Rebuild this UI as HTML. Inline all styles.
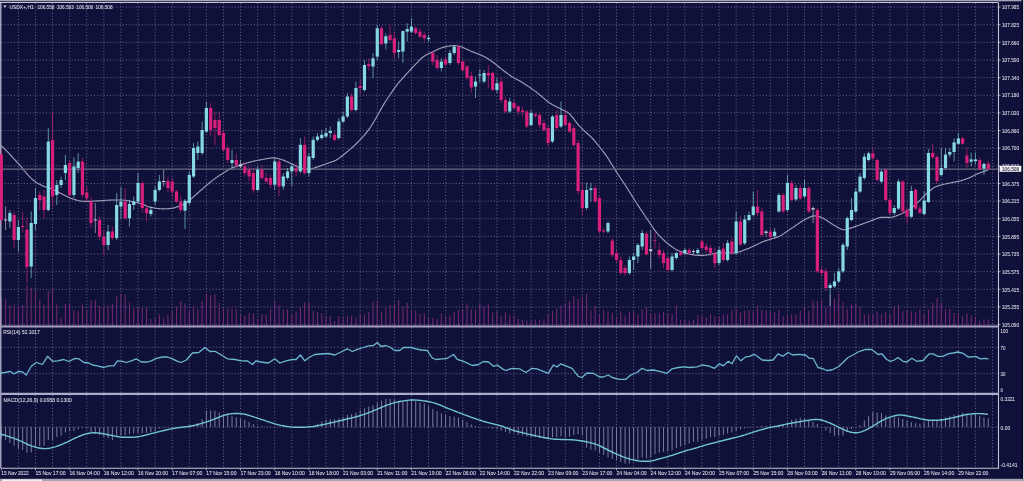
<!DOCTYPE html>
<html><head><meta charset="utf-8"><title>USDX+,H1</title>
<style>html,body{margin:0;padding:0;background:#10113a;} svg{display:block;}</style>
</head><body><svg width="1024" height="481" viewBox="0 0 1024 481"><rect x="0" y="0" width="1024" height="481" fill="#10113a"/><g><line x1="18.39" y1="3.00" x2="18.39" y2="326.20" stroke="#646490" stroke-width="1" stroke-dasharray="1.07 2.13" opacity="1"/><line x1="18.39" y1="327.50" x2="18.39" y2="393.80" stroke="#646490" stroke-width="1" stroke-dasharray="1.07 2.13" opacity="1"/><line x1="18.39" y1="395.10" x2="18.39" y2="468.30" stroke="#646490" stroke-width="1" stroke-dasharray="1.07 2.13" opacity="1"/><line x1="35.48" y1="3.00" x2="35.48" y2="326.20" stroke="#646490" stroke-width="1" stroke-dasharray="1.07 2.13" opacity="1"/><line x1="35.48" y1="327.50" x2="35.48" y2="393.80" stroke="#646490" stroke-width="1" stroke-dasharray="1.07 2.13" opacity="1"/><line x1="35.48" y1="395.10" x2="35.48" y2="468.30" stroke="#646490" stroke-width="1" stroke-dasharray="1.07 2.13" opacity="1"/><line x1="52.57" y1="3.00" x2="52.57" y2="326.20" stroke="#646490" stroke-width="1" stroke-dasharray="1.07 2.13" opacity="1"/><line x1="52.57" y1="327.50" x2="52.57" y2="393.80" stroke="#646490" stroke-width="1" stroke-dasharray="1.07 2.13" opacity="1"/><line x1="52.57" y1="395.10" x2="52.57" y2="468.30" stroke="#646490" stroke-width="1" stroke-dasharray="1.07 2.13" opacity="1"/><line x1="69.66" y1="3.00" x2="69.66" y2="326.20" stroke="#646490" stroke-width="1" stroke-dasharray="1.07 2.13" opacity="1"/><line x1="69.66" y1="327.50" x2="69.66" y2="393.80" stroke="#646490" stroke-width="1" stroke-dasharray="1.07 2.13" opacity="1"/><line x1="69.66" y1="395.10" x2="69.66" y2="468.30" stroke="#646490" stroke-width="1" stroke-dasharray="1.07 2.13" opacity="1"/><line x1="86.75" y1="3.00" x2="86.75" y2="326.20" stroke="#646490" stroke-width="1" stroke-dasharray="1.07 2.13" opacity="1"/><line x1="86.75" y1="327.50" x2="86.75" y2="393.80" stroke="#646490" stroke-width="1" stroke-dasharray="1.07 2.13" opacity="1"/><line x1="86.75" y1="395.10" x2="86.75" y2="468.30" stroke="#646490" stroke-width="1" stroke-dasharray="1.07 2.13" opacity="1"/><line x1="103.84" y1="3.00" x2="103.84" y2="326.20" stroke="#646490" stroke-width="1" stroke-dasharray="1.07 2.13" opacity="1"/><line x1="103.84" y1="327.50" x2="103.84" y2="393.80" stroke="#646490" stroke-width="1" stroke-dasharray="1.07 2.13" opacity="1"/><line x1="103.84" y1="395.10" x2="103.84" y2="468.30" stroke="#646490" stroke-width="1" stroke-dasharray="1.07 2.13" opacity="1"/><line x1="120.93" y1="3.00" x2="120.93" y2="326.20" stroke="#646490" stroke-width="1" stroke-dasharray="1.07 2.13" opacity="1"/><line x1="120.93" y1="327.50" x2="120.93" y2="393.80" stroke="#646490" stroke-width="1" stroke-dasharray="1.07 2.13" opacity="1"/><line x1="120.93" y1="395.10" x2="120.93" y2="468.30" stroke="#646490" stroke-width="1" stroke-dasharray="1.07 2.13" opacity="1"/><line x1="138.02" y1="3.00" x2="138.02" y2="326.20" stroke="#646490" stroke-width="1" stroke-dasharray="1.07 2.13" opacity="1"/><line x1="138.02" y1="327.50" x2="138.02" y2="393.80" stroke="#646490" stroke-width="1" stroke-dasharray="1.07 2.13" opacity="1"/><line x1="138.02" y1="395.10" x2="138.02" y2="468.30" stroke="#646490" stroke-width="1" stroke-dasharray="1.07 2.13" opacity="1"/><line x1="155.11" y1="3.00" x2="155.11" y2="326.20" stroke="#646490" stroke-width="1" stroke-dasharray="1.07 2.13" opacity="1"/><line x1="155.11" y1="327.50" x2="155.11" y2="393.80" stroke="#646490" stroke-width="1" stroke-dasharray="1.07 2.13" opacity="1"/><line x1="155.11" y1="395.10" x2="155.11" y2="468.30" stroke="#646490" stroke-width="1" stroke-dasharray="1.07 2.13" opacity="1"/><line x1="172.20" y1="3.00" x2="172.20" y2="326.20" stroke="#646490" stroke-width="1" stroke-dasharray="1.07 2.13" opacity="1"/><line x1="172.20" y1="327.50" x2="172.20" y2="393.80" stroke="#646490" stroke-width="1" stroke-dasharray="1.07 2.13" opacity="1"/><line x1="172.20" y1="395.10" x2="172.20" y2="468.30" stroke="#646490" stroke-width="1" stroke-dasharray="1.07 2.13" opacity="1"/><line x1="189.29" y1="3.00" x2="189.29" y2="326.20" stroke="#646490" stroke-width="1" stroke-dasharray="1.07 2.13" opacity="1"/><line x1="189.29" y1="327.50" x2="189.29" y2="393.80" stroke="#646490" stroke-width="1" stroke-dasharray="1.07 2.13" opacity="1"/><line x1="189.29" y1="395.10" x2="189.29" y2="468.30" stroke="#646490" stroke-width="1" stroke-dasharray="1.07 2.13" opacity="1"/><line x1="206.38" y1="3.00" x2="206.38" y2="326.20" stroke="#646490" stroke-width="1" stroke-dasharray="1.07 2.13" opacity="1"/><line x1="206.38" y1="327.50" x2="206.38" y2="393.80" stroke="#646490" stroke-width="1" stroke-dasharray="1.07 2.13" opacity="1"/><line x1="206.38" y1="395.10" x2="206.38" y2="468.30" stroke="#646490" stroke-width="1" stroke-dasharray="1.07 2.13" opacity="1"/><line x1="223.47" y1="3.00" x2="223.47" y2="326.20" stroke="#646490" stroke-width="1" stroke-dasharray="1.07 2.13" opacity="1"/><line x1="223.47" y1="327.50" x2="223.47" y2="393.80" stroke="#646490" stroke-width="1" stroke-dasharray="1.07 2.13" opacity="1"/><line x1="223.47" y1="395.10" x2="223.47" y2="468.30" stroke="#646490" stroke-width="1" stroke-dasharray="1.07 2.13" opacity="1"/><line x1="240.56" y1="3.00" x2="240.56" y2="326.20" stroke="#646490" stroke-width="1" stroke-dasharray="1.07 2.13" opacity="1"/><line x1="240.56" y1="327.50" x2="240.56" y2="393.80" stroke="#646490" stroke-width="1" stroke-dasharray="1.07 2.13" opacity="1"/><line x1="240.56" y1="395.10" x2="240.56" y2="468.30" stroke="#646490" stroke-width="1" stroke-dasharray="1.07 2.13" opacity="1"/><line x1="257.65" y1="3.00" x2="257.65" y2="326.20" stroke="#646490" stroke-width="1" stroke-dasharray="1.07 2.13" opacity="1"/><line x1="257.65" y1="327.50" x2="257.65" y2="393.80" stroke="#646490" stroke-width="1" stroke-dasharray="1.07 2.13" opacity="1"/><line x1="257.65" y1="395.10" x2="257.65" y2="468.30" stroke="#646490" stroke-width="1" stroke-dasharray="1.07 2.13" opacity="1"/><line x1="274.74" y1="3.00" x2="274.74" y2="326.20" stroke="#646490" stroke-width="1" stroke-dasharray="1.07 2.13" opacity="1"/><line x1="274.74" y1="327.50" x2="274.74" y2="393.80" stroke="#646490" stroke-width="1" stroke-dasharray="1.07 2.13" opacity="1"/><line x1="274.74" y1="395.10" x2="274.74" y2="468.30" stroke="#646490" stroke-width="1" stroke-dasharray="1.07 2.13" opacity="1"/><line x1="291.83" y1="3.00" x2="291.83" y2="326.20" stroke="#646490" stroke-width="1" stroke-dasharray="1.07 2.13" opacity="1"/><line x1="291.83" y1="327.50" x2="291.83" y2="393.80" stroke="#646490" stroke-width="1" stroke-dasharray="1.07 2.13" opacity="1"/><line x1="291.83" y1="395.10" x2="291.83" y2="468.30" stroke="#646490" stroke-width="1" stroke-dasharray="1.07 2.13" opacity="1"/><line x1="308.92" y1="3.00" x2="308.92" y2="326.20" stroke="#646490" stroke-width="1" stroke-dasharray="1.07 2.13" opacity="1"/><line x1="308.92" y1="327.50" x2="308.92" y2="393.80" stroke="#646490" stroke-width="1" stroke-dasharray="1.07 2.13" opacity="1"/><line x1="308.92" y1="395.10" x2="308.92" y2="468.30" stroke="#646490" stroke-width="1" stroke-dasharray="1.07 2.13" opacity="1"/><line x1="326.01" y1="3.00" x2="326.01" y2="326.20" stroke="#646490" stroke-width="1" stroke-dasharray="1.07 2.13" opacity="1"/><line x1="326.01" y1="327.50" x2="326.01" y2="393.80" stroke="#646490" stroke-width="1" stroke-dasharray="1.07 2.13" opacity="1"/><line x1="326.01" y1="395.10" x2="326.01" y2="468.30" stroke="#646490" stroke-width="1" stroke-dasharray="1.07 2.13" opacity="1"/><line x1="343.10" y1="3.00" x2="343.10" y2="326.20" stroke="#646490" stroke-width="1" stroke-dasharray="1.07 2.13" opacity="1"/><line x1="343.10" y1="327.50" x2="343.10" y2="393.80" stroke="#646490" stroke-width="1" stroke-dasharray="1.07 2.13" opacity="1"/><line x1="343.10" y1="395.10" x2="343.10" y2="468.30" stroke="#646490" stroke-width="1" stroke-dasharray="1.07 2.13" opacity="1"/><line x1="360.19" y1="3.00" x2="360.19" y2="326.20" stroke="#646490" stroke-width="1" stroke-dasharray="1.07 2.13" opacity="1"/><line x1="360.19" y1="327.50" x2="360.19" y2="393.80" stroke="#646490" stroke-width="1" stroke-dasharray="1.07 2.13" opacity="1"/><line x1="360.19" y1="395.10" x2="360.19" y2="468.30" stroke="#646490" stroke-width="1" stroke-dasharray="1.07 2.13" opacity="1"/><line x1="377.28" y1="3.00" x2="377.28" y2="326.20" stroke="#646490" stroke-width="1" stroke-dasharray="1.07 2.13" opacity="1"/><line x1="377.28" y1="327.50" x2="377.28" y2="393.80" stroke="#646490" stroke-width="1" stroke-dasharray="1.07 2.13" opacity="1"/><line x1="377.28" y1="395.10" x2="377.28" y2="468.30" stroke="#646490" stroke-width="1" stroke-dasharray="1.07 2.13" opacity="1"/><line x1="394.37" y1="3.00" x2="394.37" y2="326.20" stroke="#646490" stroke-width="1" stroke-dasharray="1.07 2.13" opacity="1"/><line x1="394.37" y1="327.50" x2="394.37" y2="393.80" stroke="#646490" stroke-width="1" stroke-dasharray="1.07 2.13" opacity="1"/><line x1="394.37" y1="395.10" x2="394.37" y2="468.30" stroke="#646490" stroke-width="1" stroke-dasharray="1.07 2.13" opacity="1"/><line x1="411.46" y1="3.00" x2="411.46" y2="326.20" stroke="#646490" stroke-width="1" stroke-dasharray="1.07 2.13" opacity="1"/><line x1="411.46" y1="327.50" x2="411.46" y2="393.80" stroke="#646490" stroke-width="1" stroke-dasharray="1.07 2.13" opacity="1"/><line x1="411.46" y1="395.10" x2="411.46" y2="468.30" stroke="#646490" stroke-width="1" stroke-dasharray="1.07 2.13" opacity="1"/><line x1="428.55" y1="3.00" x2="428.55" y2="326.20" stroke="#646490" stroke-width="1" stroke-dasharray="1.07 2.13" opacity="1"/><line x1="428.55" y1="327.50" x2="428.55" y2="393.80" stroke="#646490" stroke-width="1" stroke-dasharray="1.07 2.13" opacity="1"/><line x1="428.55" y1="395.10" x2="428.55" y2="468.30" stroke="#646490" stroke-width="1" stroke-dasharray="1.07 2.13" opacity="1"/><line x1="445.64" y1="3.00" x2="445.64" y2="326.20" stroke="#646490" stroke-width="1" stroke-dasharray="1.07 2.13" opacity="1"/><line x1="445.64" y1="327.50" x2="445.64" y2="393.80" stroke="#646490" stroke-width="1" stroke-dasharray="1.07 2.13" opacity="1"/><line x1="445.64" y1="395.10" x2="445.64" y2="468.30" stroke="#646490" stroke-width="1" stroke-dasharray="1.07 2.13" opacity="1"/><line x1="462.73" y1="3.00" x2="462.73" y2="326.20" stroke="#646490" stroke-width="1" stroke-dasharray="1.07 2.13" opacity="1"/><line x1="462.73" y1="327.50" x2="462.73" y2="393.80" stroke="#646490" stroke-width="1" stroke-dasharray="1.07 2.13" opacity="1"/><line x1="462.73" y1="395.10" x2="462.73" y2="468.30" stroke="#646490" stroke-width="1" stroke-dasharray="1.07 2.13" opacity="1"/><line x1="479.82" y1="3.00" x2="479.82" y2="326.20" stroke="#646490" stroke-width="1" stroke-dasharray="1.07 2.13" opacity="1"/><line x1="479.82" y1="327.50" x2="479.82" y2="393.80" stroke="#646490" stroke-width="1" stroke-dasharray="1.07 2.13" opacity="1"/><line x1="479.82" y1="395.10" x2="479.82" y2="468.30" stroke="#646490" stroke-width="1" stroke-dasharray="1.07 2.13" opacity="1"/><line x1="496.91" y1="3.00" x2="496.91" y2="326.20" stroke="#646490" stroke-width="1" stroke-dasharray="1.07 2.13" opacity="1"/><line x1="496.91" y1="327.50" x2="496.91" y2="393.80" stroke="#646490" stroke-width="1" stroke-dasharray="1.07 2.13" opacity="1"/><line x1="496.91" y1="395.10" x2="496.91" y2="468.30" stroke="#646490" stroke-width="1" stroke-dasharray="1.07 2.13" opacity="1"/><line x1="514.00" y1="3.00" x2="514.00" y2="326.20" stroke="#646490" stroke-width="1" stroke-dasharray="1.07 2.13" opacity="1"/><line x1="514.00" y1="327.50" x2="514.00" y2="393.80" stroke="#646490" stroke-width="1" stroke-dasharray="1.07 2.13" opacity="1"/><line x1="514.00" y1="395.10" x2="514.00" y2="468.30" stroke="#646490" stroke-width="1" stroke-dasharray="1.07 2.13" opacity="1"/><line x1="531.09" y1="3.00" x2="531.09" y2="326.20" stroke="#646490" stroke-width="1" stroke-dasharray="1.07 2.13" opacity="1"/><line x1="531.09" y1="327.50" x2="531.09" y2="393.80" stroke="#646490" stroke-width="1" stroke-dasharray="1.07 2.13" opacity="1"/><line x1="531.09" y1="395.10" x2="531.09" y2="468.30" stroke="#646490" stroke-width="1" stroke-dasharray="1.07 2.13" opacity="1"/><line x1="548.18" y1="3.00" x2="548.18" y2="326.20" stroke="#646490" stroke-width="1" stroke-dasharray="1.07 2.13" opacity="1"/><line x1="548.18" y1="327.50" x2="548.18" y2="393.80" stroke="#646490" stroke-width="1" stroke-dasharray="1.07 2.13" opacity="1"/><line x1="548.18" y1="395.10" x2="548.18" y2="468.30" stroke="#646490" stroke-width="1" stroke-dasharray="1.07 2.13" opacity="1"/><line x1="565.27" y1="3.00" x2="565.27" y2="326.20" stroke="#646490" stroke-width="1" stroke-dasharray="1.07 2.13" opacity="1"/><line x1="565.27" y1="327.50" x2="565.27" y2="393.80" stroke="#646490" stroke-width="1" stroke-dasharray="1.07 2.13" opacity="1"/><line x1="565.27" y1="395.10" x2="565.27" y2="468.30" stroke="#646490" stroke-width="1" stroke-dasharray="1.07 2.13" opacity="1"/><line x1="582.36" y1="3.00" x2="582.36" y2="326.20" stroke="#646490" stroke-width="1" stroke-dasharray="1.07 2.13" opacity="1"/><line x1="582.36" y1="327.50" x2="582.36" y2="393.80" stroke="#646490" stroke-width="1" stroke-dasharray="1.07 2.13" opacity="1"/><line x1="582.36" y1="395.10" x2="582.36" y2="468.30" stroke="#646490" stroke-width="1" stroke-dasharray="1.07 2.13" opacity="1"/><line x1="599.45" y1="3.00" x2="599.45" y2="326.20" stroke="#646490" stroke-width="1" stroke-dasharray="1.07 2.13" opacity="1"/><line x1="599.45" y1="327.50" x2="599.45" y2="393.80" stroke="#646490" stroke-width="1" stroke-dasharray="1.07 2.13" opacity="1"/><line x1="599.45" y1="395.10" x2="599.45" y2="468.30" stroke="#646490" stroke-width="1" stroke-dasharray="1.07 2.13" opacity="1"/><line x1="616.54" y1="3.00" x2="616.54" y2="326.20" stroke="#646490" stroke-width="1" stroke-dasharray="1.07 2.13" opacity="1"/><line x1="616.54" y1="327.50" x2="616.54" y2="393.80" stroke="#646490" stroke-width="1" stroke-dasharray="1.07 2.13" opacity="1"/><line x1="616.54" y1="395.10" x2="616.54" y2="468.30" stroke="#646490" stroke-width="1" stroke-dasharray="1.07 2.13" opacity="1"/><line x1="633.63" y1="3.00" x2="633.63" y2="326.20" stroke="#646490" stroke-width="1" stroke-dasharray="1.07 2.13" opacity="1"/><line x1="633.63" y1="327.50" x2="633.63" y2="393.80" stroke="#646490" stroke-width="1" stroke-dasharray="1.07 2.13" opacity="1"/><line x1="633.63" y1="395.10" x2="633.63" y2="468.30" stroke="#646490" stroke-width="1" stroke-dasharray="1.07 2.13" opacity="1"/><line x1="650.72" y1="3.00" x2="650.72" y2="326.20" stroke="#646490" stroke-width="1" stroke-dasharray="1.07 2.13" opacity="1"/><line x1="650.72" y1="327.50" x2="650.72" y2="393.80" stroke="#646490" stroke-width="1" stroke-dasharray="1.07 2.13" opacity="1"/><line x1="650.72" y1="395.10" x2="650.72" y2="468.30" stroke="#646490" stroke-width="1" stroke-dasharray="1.07 2.13" opacity="1"/><line x1="667.81" y1="3.00" x2="667.81" y2="326.20" stroke="#646490" stroke-width="1" stroke-dasharray="1.07 2.13" opacity="1"/><line x1="667.81" y1="327.50" x2="667.81" y2="393.80" stroke="#646490" stroke-width="1" stroke-dasharray="1.07 2.13" opacity="1"/><line x1="667.81" y1="395.10" x2="667.81" y2="468.30" stroke="#646490" stroke-width="1" stroke-dasharray="1.07 2.13" opacity="1"/><line x1="684.90" y1="3.00" x2="684.90" y2="326.20" stroke="#646490" stroke-width="1" stroke-dasharray="1.07 2.13" opacity="1"/><line x1="684.90" y1="327.50" x2="684.90" y2="393.80" stroke="#646490" stroke-width="1" stroke-dasharray="1.07 2.13" opacity="1"/><line x1="684.90" y1="395.10" x2="684.90" y2="468.30" stroke="#646490" stroke-width="1" stroke-dasharray="1.07 2.13" opacity="1"/><line x1="701.99" y1="3.00" x2="701.99" y2="326.20" stroke="#646490" stroke-width="1" stroke-dasharray="1.07 2.13" opacity="1"/><line x1="701.99" y1="327.50" x2="701.99" y2="393.80" stroke="#646490" stroke-width="1" stroke-dasharray="1.07 2.13" opacity="1"/><line x1="701.99" y1="395.10" x2="701.99" y2="468.30" stroke="#646490" stroke-width="1" stroke-dasharray="1.07 2.13" opacity="1"/><line x1="719.08" y1="3.00" x2="719.08" y2="326.20" stroke="#646490" stroke-width="1" stroke-dasharray="1.07 2.13" opacity="1"/><line x1="719.08" y1="327.50" x2="719.08" y2="393.80" stroke="#646490" stroke-width="1" stroke-dasharray="1.07 2.13" opacity="1"/><line x1="719.08" y1="395.10" x2="719.08" y2="468.30" stroke="#646490" stroke-width="1" stroke-dasharray="1.07 2.13" opacity="1"/><line x1="736.17" y1="3.00" x2="736.17" y2="326.20" stroke="#646490" stroke-width="1" stroke-dasharray="1.07 2.13" opacity="1"/><line x1="736.17" y1="327.50" x2="736.17" y2="393.80" stroke="#646490" stroke-width="1" stroke-dasharray="1.07 2.13" opacity="1"/><line x1="736.17" y1="395.10" x2="736.17" y2="468.30" stroke="#646490" stroke-width="1" stroke-dasharray="1.07 2.13" opacity="1"/><line x1="753.26" y1="3.00" x2="753.26" y2="326.20" stroke="#646490" stroke-width="1" stroke-dasharray="1.07 2.13" opacity="1"/><line x1="753.26" y1="327.50" x2="753.26" y2="393.80" stroke="#646490" stroke-width="1" stroke-dasharray="1.07 2.13" opacity="1"/><line x1="753.26" y1="395.10" x2="753.26" y2="468.30" stroke="#646490" stroke-width="1" stroke-dasharray="1.07 2.13" opacity="1"/><line x1="770.35" y1="3.00" x2="770.35" y2="326.20" stroke="#646490" stroke-width="1" stroke-dasharray="1.07 2.13" opacity="1"/><line x1="770.35" y1="327.50" x2="770.35" y2="393.80" stroke="#646490" stroke-width="1" stroke-dasharray="1.07 2.13" opacity="1"/><line x1="770.35" y1="395.10" x2="770.35" y2="468.30" stroke="#646490" stroke-width="1" stroke-dasharray="1.07 2.13" opacity="1"/><line x1="787.44" y1="3.00" x2="787.44" y2="326.20" stroke="#646490" stroke-width="1" stroke-dasharray="1.07 2.13" opacity="1"/><line x1="787.44" y1="327.50" x2="787.44" y2="393.80" stroke="#646490" stroke-width="1" stroke-dasharray="1.07 2.13" opacity="1"/><line x1="787.44" y1="395.10" x2="787.44" y2="468.30" stroke="#646490" stroke-width="1" stroke-dasharray="1.07 2.13" opacity="1"/><line x1="804.53" y1="3.00" x2="804.53" y2="326.20" stroke="#646490" stroke-width="1" stroke-dasharray="1.07 2.13" opacity="1"/><line x1="804.53" y1="327.50" x2="804.53" y2="393.80" stroke="#646490" stroke-width="1" stroke-dasharray="1.07 2.13" opacity="1"/><line x1="804.53" y1="395.10" x2="804.53" y2="468.30" stroke="#646490" stroke-width="1" stroke-dasharray="1.07 2.13" opacity="1"/><line x1="821.62" y1="3.00" x2="821.62" y2="326.20" stroke="#646490" stroke-width="1" stroke-dasharray="1.07 2.13" opacity="1"/><line x1="821.62" y1="327.50" x2="821.62" y2="393.80" stroke="#646490" stroke-width="1" stroke-dasharray="1.07 2.13" opacity="1"/><line x1="821.62" y1="395.10" x2="821.62" y2="468.30" stroke="#646490" stroke-width="1" stroke-dasharray="1.07 2.13" opacity="1"/><line x1="838.71" y1="3.00" x2="838.71" y2="326.20" stroke="#646490" stroke-width="1" stroke-dasharray="1.07 2.13" opacity="1"/><line x1="838.71" y1="327.50" x2="838.71" y2="393.80" stroke="#646490" stroke-width="1" stroke-dasharray="1.07 2.13" opacity="1"/><line x1="838.71" y1="395.10" x2="838.71" y2="468.30" stroke="#646490" stroke-width="1" stroke-dasharray="1.07 2.13" opacity="1"/><line x1="855.80" y1="3.00" x2="855.80" y2="326.20" stroke="#646490" stroke-width="1" stroke-dasharray="1.07 2.13" opacity="1"/><line x1="855.80" y1="327.50" x2="855.80" y2="393.80" stroke="#646490" stroke-width="1" stroke-dasharray="1.07 2.13" opacity="1"/><line x1="855.80" y1="395.10" x2="855.80" y2="468.30" stroke="#646490" stroke-width="1" stroke-dasharray="1.07 2.13" opacity="1"/><line x1="872.89" y1="3.00" x2="872.89" y2="326.20" stroke="#646490" stroke-width="1" stroke-dasharray="1.07 2.13" opacity="1"/><line x1="872.89" y1="327.50" x2="872.89" y2="393.80" stroke="#646490" stroke-width="1" stroke-dasharray="1.07 2.13" opacity="1"/><line x1="872.89" y1="395.10" x2="872.89" y2="468.30" stroke="#646490" stroke-width="1" stroke-dasharray="1.07 2.13" opacity="1"/><line x1="889.98" y1="3.00" x2="889.98" y2="326.20" stroke="#646490" stroke-width="1" stroke-dasharray="1.07 2.13" opacity="1"/><line x1="889.98" y1="327.50" x2="889.98" y2="393.80" stroke="#646490" stroke-width="1" stroke-dasharray="1.07 2.13" opacity="1"/><line x1="889.98" y1="395.10" x2="889.98" y2="468.30" stroke="#646490" stroke-width="1" stroke-dasharray="1.07 2.13" opacity="1"/><line x1="907.07" y1="3.00" x2="907.07" y2="326.20" stroke="#646490" stroke-width="1" stroke-dasharray="1.07 2.13" opacity="1"/><line x1="907.07" y1="327.50" x2="907.07" y2="393.80" stroke="#646490" stroke-width="1" stroke-dasharray="1.07 2.13" opacity="1"/><line x1="907.07" y1="395.10" x2="907.07" y2="468.30" stroke="#646490" stroke-width="1" stroke-dasharray="1.07 2.13" opacity="1"/><line x1="924.16" y1="3.00" x2="924.16" y2="326.20" stroke="#646490" stroke-width="1" stroke-dasharray="1.07 2.13" opacity="1"/><line x1="924.16" y1="327.50" x2="924.16" y2="393.80" stroke="#646490" stroke-width="1" stroke-dasharray="1.07 2.13" opacity="1"/><line x1="924.16" y1="395.10" x2="924.16" y2="468.30" stroke="#646490" stroke-width="1" stroke-dasharray="1.07 2.13" opacity="1"/><line x1="941.25" y1="3.00" x2="941.25" y2="326.20" stroke="#646490" stroke-width="1" stroke-dasharray="1.07 2.13" opacity="1"/><line x1="941.25" y1="327.50" x2="941.25" y2="393.80" stroke="#646490" stroke-width="1" stroke-dasharray="1.07 2.13" opacity="1"/><line x1="941.25" y1="395.10" x2="941.25" y2="468.30" stroke="#646490" stroke-width="1" stroke-dasharray="1.07 2.13" opacity="1"/><line x1="958.34" y1="3.00" x2="958.34" y2="326.20" stroke="#646490" stroke-width="1" stroke-dasharray="1.07 2.13" opacity="1"/><line x1="958.34" y1="327.50" x2="958.34" y2="393.80" stroke="#646490" stroke-width="1" stroke-dasharray="1.07 2.13" opacity="1"/><line x1="958.34" y1="395.10" x2="958.34" y2="468.30" stroke="#646490" stroke-width="1" stroke-dasharray="1.07 2.13" opacity="1"/><line x1="975.43" y1="3.00" x2="975.43" y2="326.20" stroke="#646490" stroke-width="1" stroke-dasharray="1.07 2.13" opacity="1"/><line x1="975.43" y1="327.50" x2="975.43" y2="393.80" stroke="#646490" stroke-width="1" stroke-dasharray="1.07 2.13" opacity="1"/><line x1="975.43" y1="395.10" x2="975.43" y2="468.30" stroke="#646490" stroke-width="1" stroke-dasharray="1.07 2.13" opacity="1"/><line x1="992.52" y1="3.00" x2="992.52" y2="326.20" stroke="#646490" stroke-width="1" stroke-dasharray="1.07 2.13" opacity="1"/><line x1="992.52" y1="327.50" x2="992.52" y2="393.80" stroke="#646490" stroke-width="1" stroke-dasharray="1.07 2.13" opacity="1"/><line x1="992.52" y1="395.10" x2="992.52" y2="468.30" stroke="#646490" stroke-width="1" stroke-dasharray="1.07 2.13" opacity="1"/><line x1="1.30" y1="7.07" x2="998.50" y2="7.07" stroke="#646490" stroke-width="1" stroke-dasharray="1.07 2.13" opacity="1"/><line x1="1.30" y1="24.71" x2="998.50" y2="24.71" stroke="#646490" stroke-width="1" stroke-dasharray="1.07 2.13" opacity="1"/><line x1="1.30" y1="42.35" x2="998.50" y2="42.35" stroke="#646490" stroke-width="1" stroke-dasharray="1.07 2.13" opacity="1"/><line x1="1.30" y1="59.99" x2="998.50" y2="59.99" stroke="#646490" stroke-width="1" stroke-dasharray="1.07 2.13" opacity="1"/><line x1="1.30" y1="77.63" x2="998.50" y2="77.63" stroke="#646490" stroke-width="1" stroke-dasharray="1.07 2.13" opacity="1"/><line x1="1.30" y1="95.27" x2="998.50" y2="95.27" stroke="#646490" stroke-width="1" stroke-dasharray="1.07 2.13" opacity="1"/><line x1="1.30" y1="112.91" x2="998.50" y2="112.91" stroke="#646490" stroke-width="1" stroke-dasharray="1.07 2.13" opacity="1"/><line x1="1.30" y1="130.55" x2="998.50" y2="130.55" stroke="#646490" stroke-width="1" stroke-dasharray="1.07 2.13" opacity="1"/><line x1="1.30" y1="148.19" x2="998.50" y2="148.19" stroke="#646490" stroke-width="1" stroke-dasharray="1.07 2.13" opacity="1"/><line x1="1.30" y1="165.83" x2="998.50" y2="165.83" stroke="#646490" stroke-width="1" stroke-dasharray="1.07 2.13" opacity="1"/><line x1="1.30" y1="183.47" x2="998.50" y2="183.47" stroke="#646490" stroke-width="1" stroke-dasharray="1.07 2.13" opacity="1"/><line x1="1.30" y1="201.11" x2="998.50" y2="201.11" stroke="#646490" stroke-width="1" stroke-dasharray="1.07 2.13" opacity="1"/><line x1="1.30" y1="218.75" x2="998.50" y2="218.75" stroke="#646490" stroke-width="1" stroke-dasharray="1.07 2.13" opacity="1"/><line x1="1.30" y1="236.39" x2="998.50" y2="236.39" stroke="#646490" stroke-width="1" stroke-dasharray="1.07 2.13" opacity="1"/><line x1="1.30" y1="254.03" x2="998.50" y2="254.03" stroke="#646490" stroke-width="1" stroke-dasharray="1.07 2.13" opacity="1"/><line x1="1.30" y1="271.67" x2="998.50" y2="271.67" stroke="#646490" stroke-width="1" stroke-dasharray="1.07 2.13" opacity="1"/><line x1="1.30" y1="289.31" x2="998.50" y2="289.31" stroke="#646490" stroke-width="1" stroke-dasharray="1.07 2.13" opacity="1"/><line x1="1.30" y1="306.95" x2="998.50" y2="306.95" stroke="#646490" stroke-width="1" stroke-dasharray="1.07 2.13" opacity="1"/><line x1="1.30" y1="324.59" x2="998.50" y2="324.59" stroke="#646490" stroke-width="1" stroke-dasharray="1.07 2.13" opacity="1"/><line x1="1.30" y1="347.30" x2="998.50" y2="347.30" stroke="#646490" stroke-width="1" stroke-dasharray="1.07 2.13" opacity="1"/><line x1="1.30" y1="373.70" x2="998.50" y2="373.70" stroke="#646490" stroke-width="1" stroke-dasharray="1.07 2.13" opacity="1"/><line x1="1.30" y1="427.10" x2="998.50" y2="427.10" stroke="#646490" stroke-width="1" stroke-dasharray="1.07 2.13" opacity="1"/></g><g><line x1="1.30" y1="297.50" x2="1.30" y2="326.20" stroke="#7a2a72" stroke-width="1" opacity="1"/><line x1="5.57" y1="298.75" x2="5.57" y2="326.20" stroke="#7a2a72" stroke-width="1" opacity="1"/><line x1="9.85" y1="305.60" x2="9.85" y2="326.20" stroke="#7a2a72" stroke-width="1" opacity="1"/><line x1="14.12" y1="304.40" x2="14.12" y2="326.20" stroke="#7a2a72" stroke-width="1" opacity="1"/><line x1="18.39" y1="306.25" x2="18.39" y2="326.20" stroke="#7a2a72" stroke-width="1" opacity="1"/><line x1="22.66" y1="305.00" x2="22.66" y2="326.20" stroke="#7a2a72" stroke-width="1" opacity="1"/><line x1="26.93" y1="285.00" x2="26.93" y2="326.20" stroke="#7a2a72" stroke-width="1" opacity="1"/><line x1="31.21" y1="287.50" x2="31.21" y2="326.20" stroke="#7a2a72" stroke-width="1" opacity="1"/><line x1="35.48" y1="290.00" x2="35.48" y2="326.20" stroke="#7a2a72" stroke-width="1" opacity="1"/><line x1="39.75" y1="300.00" x2="39.75" y2="326.20" stroke="#7a2a72" stroke-width="1" opacity="1"/><line x1="44.02" y1="304.40" x2="44.02" y2="326.20" stroke="#7a2a72" stroke-width="1" opacity="1"/><line x1="48.30" y1="291.00" x2="48.30" y2="326.20" stroke="#7a2a72" stroke-width="1" opacity="1"/><line x1="52.57" y1="287.50" x2="52.57" y2="326.20" stroke="#7a2a72" stroke-width="1" opacity="1"/><line x1="56.84" y1="304.40" x2="56.84" y2="326.20" stroke="#7a2a72" stroke-width="1" opacity="1"/><line x1="61.11" y1="317.50" x2="61.11" y2="326.20" stroke="#7a2a72" stroke-width="1" opacity="1"/><line x1="65.39" y1="303.75" x2="65.39" y2="326.20" stroke="#7a2a72" stroke-width="1" opacity="1"/><line x1="69.66" y1="303.75" x2="69.66" y2="326.20" stroke="#7a2a72" stroke-width="1" opacity="1"/><line x1="73.93" y1="310.00" x2="73.93" y2="326.20" stroke="#7a2a72" stroke-width="1" opacity="1"/><line x1="78.20" y1="311.25" x2="78.20" y2="326.20" stroke="#7a2a72" stroke-width="1" opacity="1"/><line x1="82.48" y1="304.40" x2="82.48" y2="326.20" stroke="#7a2a72" stroke-width="1" opacity="1"/><line x1="86.75" y1="310.00" x2="86.75" y2="326.20" stroke="#7a2a72" stroke-width="1" opacity="1"/><line x1="91.02" y1="300.60" x2="91.02" y2="326.20" stroke="#7a2a72" stroke-width="1" opacity="1"/><line x1="95.30" y1="300.00" x2="95.30" y2="326.20" stroke="#7a2a72" stroke-width="1" opacity="1"/><line x1="99.57" y1="306.25" x2="99.57" y2="326.20" stroke="#7a2a72" stroke-width="1" opacity="1"/><line x1="103.84" y1="306.90" x2="103.84" y2="326.20" stroke="#7a2a72" stroke-width="1" opacity="1"/><line x1="108.11" y1="305.60" x2="108.11" y2="326.20" stroke="#7a2a72" stroke-width="1" opacity="1"/><line x1="112.38" y1="304.40" x2="112.38" y2="326.20" stroke="#7a2a72" stroke-width="1" opacity="1"/><line x1="116.66" y1="296.25" x2="116.66" y2="326.20" stroke="#7a2a72" stroke-width="1" opacity="1"/><line x1="120.93" y1="293.75" x2="120.93" y2="326.20" stroke="#7a2a72" stroke-width="1" opacity="1"/><line x1="125.20" y1="295.00" x2="125.20" y2="326.20" stroke="#7a2a72" stroke-width="1" opacity="1"/><line x1="129.48" y1="302.44" x2="129.48" y2="326.20" stroke="#7a2a72" stroke-width="1" opacity="1"/><line x1="133.75" y1="308.22" x2="133.75" y2="326.20" stroke="#7a2a72" stroke-width="1" opacity="1"/><line x1="138.02" y1="307.01" x2="138.02" y2="326.20" stroke="#7a2a72" stroke-width="1" opacity="1"/><line x1="142.29" y1="308.30" x2="142.29" y2="326.20" stroke="#7a2a72" stroke-width="1" opacity="1"/><line x1="146.56" y1="307.37" x2="146.56" y2="326.20" stroke="#7a2a72" stroke-width="1" opacity="1"/><line x1="150.84" y1="318.96" x2="150.84" y2="326.20" stroke="#7a2a72" stroke-width="1" opacity="1"/><line x1="155.11" y1="318.15" x2="155.11" y2="326.20" stroke="#7a2a72" stroke-width="1" opacity="1"/><line x1="159.38" y1="314.27" x2="159.38" y2="326.20" stroke="#7a2a72" stroke-width="1" opacity="1"/><line x1="163.66" y1="318.28" x2="163.66" y2="326.20" stroke="#7a2a72" stroke-width="1" opacity="1"/><line x1="167.93" y1="314.47" x2="167.93" y2="326.20" stroke="#7a2a72" stroke-width="1" opacity="1"/><line x1="172.20" y1="310.98" x2="172.20" y2="326.20" stroke="#7a2a72" stroke-width="1" opacity="1"/><line x1="176.47" y1="306.80" x2="176.47" y2="326.20" stroke="#7a2a72" stroke-width="1" opacity="1"/><line x1="180.75" y1="301.13" x2="180.75" y2="326.20" stroke="#7a2a72" stroke-width="1" opacity="1"/><line x1="185.02" y1="303.39" x2="185.02" y2="326.20" stroke="#7a2a72" stroke-width="1" opacity="1"/><line x1="189.29" y1="310.38" x2="189.29" y2="326.20" stroke="#7a2a72" stroke-width="1" opacity="1"/><line x1="193.56" y1="305.99" x2="193.56" y2="326.20" stroke="#7a2a72" stroke-width="1" opacity="1"/><line x1="197.84" y1="308.75" x2="197.84" y2="326.20" stroke="#7a2a72" stroke-width="1" opacity="1"/><line x1="202.11" y1="301.21" x2="202.11" y2="326.20" stroke="#7a2a72" stroke-width="1" opacity="1"/><line x1="206.38" y1="294.13" x2="206.38" y2="326.20" stroke="#7a2a72" stroke-width="1" opacity="1"/><line x1="210.65" y1="295.12" x2="210.65" y2="326.20" stroke="#7a2a72" stroke-width="1" opacity="1"/><line x1="214.93" y1="294.28" x2="214.93" y2="326.20" stroke="#7a2a72" stroke-width="1" opacity="1"/><line x1="219.20" y1="302.76" x2="219.20" y2="326.20" stroke="#7a2a72" stroke-width="1" opacity="1"/><line x1="223.47" y1="308.70" x2="223.47" y2="326.20" stroke="#7a2a72" stroke-width="1" opacity="1"/><line x1="227.74" y1="308.69" x2="227.74" y2="326.20" stroke="#7a2a72" stroke-width="1" opacity="1"/><line x1="232.02" y1="308.38" x2="232.02" y2="326.20" stroke="#7a2a72" stroke-width="1" opacity="1"/><line x1="236.29" y1="308.72" x2="236.29" y2="326.20" stroke="#7a2a72" stroke-width="1" opacity="1"/><line x1="240.56" y1="314.76" x2="240.56" y2="326.20" stroke="#7a2a72" stroke-width="1" opacity="1"/><line x1="244.83" y1="315.66" x2="244.83" y2="326.20" stroke="#7a2a72" stroke-width="1" opacity="1"/><line x1="249.11" y1="313.06" x2="249.11" y2="326.20" stroke="#7a2a72" stroke-width="1" opacity="1"/><line x1="253.38" y1="313.23" x2="253.38" y2="326.20" stroke="#7a2a72" stroke-width="1" opacity="1"/><line x1="257.65" y1="319.09" x2="257.65" y2="326.20" stroke="#7a2a72" stroke-width="1" opacity="1"/><line x1="261.92" y1="314.15" x2="261.92" y2="326.20" stroke="#7a2a72" stroke-width="1" opacity="1"/><line x1="266.19" y1="314.85" x2="266.19" y2="326.20" stroke="#7a2a72" stroke-width="1" opacity="1"/><line x1="270.47" y1="308.90" x2="270.47" y2="326.20" stroke="#7a2a72" stroke-width="1" opacity="1"/><line x1="274.74" y1="301.94" x2="274.74" y2="326.20" stroke="#7a2a72" stroke-width="1" opacity="1"/><line x1="279.01" y1="304.92" x2="279.01" y2="326.20" stroke="#7a2a72" stroke-width="1" opacity="1"/><line x1="283.29" y1="309.57" x2="283.29" y2="326.20" stroke="#7a2a72" stroke-width="1" opacity="1"/><line x1="287.56" y1="309.42" x2="287.56" y2="326.20" stroke="#7a2a72" stroke-width="1" opacity="1"/><line x1="291.83" y1="313.92" x2="291.83" y2="326.20" stroke="#7a2a72" stroke-width="1" opacity="1"/><line x1="296.10" y1="311.37" x2="296.10" y2="326.20" stroke="#7a2a72" stroke-width="1" opacity="1"/><line x1="300.38" y1="307.03" x2="300.38" y2="326.20" stroke="#7a2a72" stroke-width="1" opacity="1"/><line x1="304.65" y1="302.22" x2="304.65" y2="326.20" stroke="#7a2a72" stroke-width="1" opacity="1"/><line x1="308.92" y1="302.30" x2="308.92" y2="326.20" stroke="#7a2a72" stroke-width="1" opacity="1"/><line x1="313.19" y1="310.91" x2="313.19" y2="326.20" stroke="#7a2a72" stroke-width="1" opacity="1"/><line x1="317.47" y1="312.01" x2="317.47" y2="326.20" stroke="#7a2a72" stroke-width="1" opacity="1"/><line x1="321.74" y1="313.44" x2="321.74" y2="326.20" stroke="#7a2a72" stroke-width="1" opacity="1"/><line x1="326.01" y1="315.91" x2="326.01" y2="326.20" stroke="#7a2a72" stroke-width="1" opacity="1"/><line x1="330.28" y1="316.07" x2="330.28" y2="326.20" stroke="#7a2a72" stroke-width="1" opacity="1"/><line x1="334.56" y1="320.94" x2="334.56" y2="326.20" stroke="#7a2a72" stroke-width="1" opacity="1"/><line x1="338.83" y1="316.07" x2="338.83" y2="326.20" stroke="#7a2a72" stroke-width="1" opacity="1"/><line x1="343.10" y1="317.34" x2="343.10" y2="326.20" stroke="#7a2a72" stroke-width="1" opacity="1"/><line x1="347.37" y1="315.55" x2="347.37" y2="326.20" stroke="#7a2a72" stroke-width="1" opacity="1"/><line x1="351.64" y1="315.82" x2="351.64" y2="326.20" stroke="#7a2a72" stroke-width="1" opacity="1"/><line x1="355.92" y1="317.62" x2="355.92" y2="326.20" stroke="#7a2a72" stroke-width="1" opacity="1"/><line x1="360.19" y1="314.48" x2="360.19" y2="326.20" stroke="#7a2a72" stroke-width="1" opacity="1"/><line x1="364.46" y1="315.11" x2="364.46" y2="326.20" stroke="#7a2a72" stroke-width="1" opacity="1"/><line x1="368.74" y1="312.22" x2="368.74" y2="326.20" stroke="#7a2a72" stroke-width="1" opacity="1"/><line x1="373.01" y1="301.53" x2="373.01" y2="326.20" stroke="#7a2a72" stroke-width="1" opacity="1"/><line x1="377.28" y1="301.64" x2="377.28" y2="326.20" stroke="#7a2a72" stroke-width="1" opacity="1"/><line x1="381.55" y1="311.38" x2="381.55" y2="326.20" stroke="#7a2a72" stroke-width="1" opacity="1"/><line x1="385.82" y1="307.48" x2="385.82" y2="326.20" stroke="#7a2a72" stroke-width="1" opacity="1"/><line x1="390.10" y1="304.73" x2="390.10" y2="326.20" stroke="#7a2a72" stroke-width="1" opacity="1"/><line x1="394.37" y1="305.02" x2="394.37" y2="326.20" stroke="#7a2a72" stroke-width="1" opacity="1"/><line x1="398.64" y1="300.06" x2="398.64" y2="326.20" stroke="#7a2a72" stroke-width="1" opacity="1"/><line x1="402.92" y1="306.71" x2="402.92" y2="326.20" stroke="#7a2a72" stroke-width="1" opacity="1"/><line x1="407.19" y1="303.01" x2="407.19" y2="326.20" stroke="#7a2a72" stroke-width="1" opacity="1"/><line x1="411.46" y1="309.75" x2="411.46" y2="326.20" stroke="#7a2a72" stroke-width="1" opacity="1"/><line x1="415.73" y1="310.49" x2="415.73" y2="326.20" stroke="#7a2a72" stroke-width="1" opacity="1"/><line x1="420.00" y1="313.71" x2="420.00" y2="326.20" stroke="#7a2a72" stroke-width="1" opacity="1"/><line x1="424.28" y1="313.61" x2="424.28" y2="326.20" stroke="#7a2a72" stroke-width="1" opacity="1"/><line x1="428.55" y1="317.84" x2="428.55" y2="326.20" stroke="#7a2a72" stroke-width="1" opacity="1"/><line x1="432.82" y1="317.74" x2="432.82" y2="326.20" stroke="#7a2a72" stroke-width="1" opacity="1"/><line x1="437.10" y1="318.84" x2="437.10" y2="326.20" stroke="#7a2a72" stroke-width="1" opacity="1"/><line x1="441.37" y1="313.79" x2="441.37" y2="326.20" stroke="#7a2a72" stroke-width="1" opacity="1"/><line x1="445.64" y1="316.14" x2="445.64" y2="326.20" stroke="#7a2a72" stroke-width="1" opacity="1"/><line x1="449.91" y1="315.36" x2="449.91" y2="326.20" stroke="#7a2a72" stroke-width="1" opacity="1"/><line x1="454.19" y1="311.83" x2="454.19" y2="326.20" stroke="#7a2a72" stroke-width="1" opacity="1"/><line x1="458.46" y1="309.96" x2="458.46" y2="326.20" stroke="#7a2a72" stroke-width="1" opacity="1"/><line x1="462.73" y1="308.96" x2="462.73" y2="326.20" stroke="#7a2a72" stroke-width="1" opacity="1"/><line x1="467.00" y1="303.18" x2="467.00" y2="326.20" stroke="#7a2a72" stroke-width="1" opacity="1"/><line x1="471.28" y1="309.27" x2="471.28" y2="326.20" stroke="#7a2a72" stroke-width="1" opacity="1"/><line x1="475.55" y1="309.84" x2="475.55" y2="326.20" stroke="#7a2a72" stroke-width="1" opacity="1"/><line x1="479.82" y1="302.67" x2="479.82" y2="326.20" stroke="#7a2a72" stroke-width="1" opacity="1"/><line x1="484.09" y1="306.42" x2="484.09" y2="326.20" stroke="#7a2a72" stroke-width="1" opacity="1"/><line x1="488.37" y1="304.42" x2="488.37" y2="326.20" stroke="#7a2a72" stroke-width="1" opacity="1"/><line x1="492.64" y1="312.70" x2="492.64" y2="326.20" stroke="#7a2a72" stroke-width="1" opacity="1"/><line x1="496.91" y1="311.52" x2="496.91" y2="326.20" stroke="#7a2a72" stroke-width="1" opacity="1"/><line x1="501.18" y1="316.14" x2="501.18" y2="326.20" stroke="#7a2a72" stroke-width="1" opacity="1"/><line x1="505.45" y1="312.43" x2="505.45" y2="326.20" stroke="#7a2a72" stroke-width="1" opacity="1"/><line x1="509.73" y1="315.05" x2="509.73" y2="326.20" stroke="#7a2a72" stroke-width="1" opacity="1"/><line x1="514.00" y1="315.34" x2="514.00" y2="326.20" stroke="#7a2a72" stroke-width="1" opacity="1"/><line x1="518.27" y1="318.66" x2="518.27" y2="326.20" stroke="#7a2a72" stroke-width="1" opacity="1"/><line x1="522.54" y1="319.97" x2="522.54" y2="326.20" stroke="#7a2a72" stroke-width="1" opacity="1"/><line x1="526.82" y1="320.54" x2="526.82" y2="326.20" stroke="#7a2a72" stroke-width="1" opacity="1"/><line x1="531.09" y1="321.03" x2="531.09" y2="326.20" stroke="#7a2a72" stroke-width="1" opacity="1"/><line x1="535.36" y1="319.55" x2="535.36" y2="326.20" stroke="#7a2a72" stroke-width="1" opacity="1"/><line x1="539.63" y1="319.91" x2="539.63" y2="326.20" stroke="#7a2a72" stroke-width="1" opacity="1"/><line x1="543.91" y1="318.98" x2="543.91" y2="326.20" stroke="#7a2a72" stroke-width="1" opacity="1"/><line x1="548.18" y1="313.75" x2="548.18" y2="326.20" stroke="#7a2a72" stroke-width="1" opacity="1"/><line x1="552.45" y1="311.02" x2="552.45" y2="326.20" stroke="#7a2a72" stroke-width="1" opacity="1"/><line x1="556.72" y1="308.59" x2="556.72" y2="326.20" stroke="#7a2a72" stroke-width="1" opacity="1"/><line x1="561.00" y1="305.65" x2="561.00" y2="326.20" stroke="#7a2a72" stroke-width="1" opacity="1"/><line x1="565.27" y1="302.91" x2="565.27" y2="326.20" stroke="#7a2a72" stroke-width="1" opacity="1"/><line x1="569.54" y1="301.27" x2="569.54" y2="326.20" stroke="#7a2a72" stroke-width="1" opacity="1"/><line x1="573.81" y1="296.04" x2="573.81" y2="326.20" stroke="#7a2a72" stroke-width="1" opacity="1"/><line x1="578.09" y1="298.57" x2="578.09" y2="326.20" stroke="#7a2a72" stroke-width="1" opacity="1"/><line x1="582.36" y1="296.77" x2="582.36" y2="326.20" stroke="#7a2a72" stroke-width="1" opacity="1"/><line x1="586.63" y1="293.57" x2="586.63" y2="326.20" stroke="#7a2a72" stroke-width="1" opacity="1"/><line x1="590.90" y1="310.36" x2="590.90" y2="326.20" stroke="#7a2a72" stroke-width="1" opacity="1"/><line x1="595.18" y1="305.90" x2="595.18" y2="326.20" stroke="#7a2a72" stroke-width="1" opacity="1"/><line x1="599.45" y1="314.03" x2="599.45" y2="326.20" stroke="#7a2a72" stroke-width="1" opacity="1"/><line x1="603.72" y1="310.08" x2="603.72" y2="326.20" stroke="#7a2a72" stroke-width="1" opacity="1"/><line x1="608.00" y1="311.01" x2="608.00" y2="326.20" stroke="#7a2a72" stroke-width="1" opacity="1"/><line x1="612.27" y1="312.79" x2="612.27" y2="326.20" stroke="#7a2a72" stroke-width="1" opacity="1"/><line x1="616.54" y1="316.85" x2="616.54" y2="326.20" stroke="#7a2a72" stroke-width="1" opacity="1"/><line x1="620.81" y1="310.97" x2="620.81" y2="326.20" stroke="#7a2a72" stroke-width="1" opacity="1"/><line x1="625.08" y1="315.75" x2="625.08" y2="326.20" stroke="#7a2a72" stroke-width="1" opacity="1"/><line x1="629.36" y1="311.38" x2="629.36" y2="326.20" stroke="#7a2a72" stroke-width="1" opacity="1"/><line x1="633.63" y1="311.53" x2="633.63" y2="326.20" stroke="#7a2a72" stroke-width="1" opacity="1"/><line x1="637.90" y1="314.61" x2="637.90" y2="326.20" stroke="#7a2a72" stroke-width="1" opacity="1"/><line x1="642.17" y1="309.13" x2="642.17" y2="326.20" stroke="#7a2a72" stroke-width="1" opacity="1"/><line x1="646.45" y1="307.07" x2="646.45" y2="326.20" stroke="#7a2a72" stroke-width="1" opacity="1"/><line x1="650.72" y1="313.69" x2="650.72" y2="326.20" stroke="#7a2a72" stroke-width="1" opacity="1"/><line x1="654.99" y1="313.43" x2="654.99" y2="326.20" stroke="#7a2a72" stroke-width="1" opacity="1"/><line x1="659.26" y1="313.13" x2="659.26" y2="326.20" stroke="#7a2a72" stroke-width="1" opacity="1"/><line x1="663.54" y1="311.79" x2="663.54" y2="326.20" stroke="#7a2a72" stroke-width="1" opacity="1"/><line x1="667.81" y1="313.26" x2="667.81" y2="326.20" stroke="#7a2a72" stroke-width="1" opacity="1"/><line x1="672.08" y1="313.79" x2="672.08" y2="326.20" stroke="#7a2a72" stroke-width="1" opacity="1"/><line x1="676.35" y1="305.56" x2="676.35" y2="326.20" stroke="#7a2a72" stroke-width="1" opacity="1"/><line x1="680.63" y1="319.78" x2="680.63" y2="326.20" stroke="#7a2a72" stroke-width="1" opacity="1"/><line x1="684.90" y1="319.35" x2="684.90" y2="326.20" stroke="#7a2a72" stroke-width="1" opacity="1"/><line x1="689.17" y1="320.52" x2="689.17" y2="326.20" stroke="#7a2a72" stroke-width="1" opacity="1"/><line x1="693.44" y1="319.41" x2="693.44" y2="326.20" stroke="#7a2a72" stroke-width="1" opacity="1"/><line x1="697.72" y1="314.57" x2="697.72" y2="326.20" stroke="#7a2a72" stroke-width="1" opacity="1"/><line x1="701.99" y1="315.56" x2="701.99" y2="326.20" stroke="#7a2a72" stroke-width="1" opacity="1"/><line x1="706.26" y1="317.24" x2="706.26" y2="326.20" stroke="#7a2a72" stroke-width="1" opacity="1"/><line x1="710.53" y1="314.13" x2="710.53" y2="326.20" stroke="#7a2a72" stroke-width="1" opacity="1"/><line x1="714.81" y1="316.61" x2="714.81" y2="326.20" stroke="#7a2a72" stroke-width="1" opacity="1"/><line x1="719.08" y1="316.14" x2="719.08" y2="326.20" stroke="#7a2a72" stroke-width="1" opacity="1"/><line x1="723.35" y1="314.67" x2="723.35" y2="326.20" stroke="#7a2a72" stroke-width="1" opacity="1"/><line x1="727.62" y1="313.86" x2="727.62" y2="326.20" stroke="#7a2a72" stroke-width="1" opacity="1"/><line x1="731.90" y1="310.12" x2="731.90" y2="326.20" stroke="#7a2a72" stroke-width="1" opacity="1"/><line x1="736.17" y1="308.92" x2="736.17" y2="326.20" stroke="#7a2a72" stroke-width="1" opacity="1"/><line x1="740.44" y1="312.64" x2="740.44" y2="326.20" stroke="#7a2a72" stroke-width="1" opacity="1"/><line x1="744.71" y1="310.61" x2="744.71" y2="326.20" stroke="#7a2a72" stroke-width="1" opacity="1"/><line x1="748.99" y1="309.75" x2="748.99" y2="326.20" stroke="#7a2a72" stroke-width="1" opacity="1"/><line x1="753.26" y1="311.98" x2="753.26" y2="326.20" stroke="#7a2a72" stroke-width="1" opacity="1"/><line x1="757.53" y1="305.65" x2="757.53" y2="326.20" stroke="#7a2a72" stroke-width="1" opacity="1"/><line x1="761.80" y1="309.48" x2="761.80" y2="326.20" stroke="#7a2a72" stroke-width="1" opacity="1"/><line x1="766.08" y1="310.10" x2="766.08" y2="326.20" stroke="#7a2a72" stroke-width="1" opacity="1"/><line x1="770.35" y1="311.51" x2="770.35" y2="326.20" stroke="#7a2a72" stroke-width="1" opacity="1"/><line x1="774.62" y1="311.99" x2="774.62" y2="326.20" stroke="#7a2a72" stroke-width="1" opacity="1"/><line x1="778.89" y1="310.26" x2="778.89" y2="326.20" stroke="#7a2a72" stroke-width="1" opacity="1"/><line x1="783.17" y1="316.24" x2="783.17" y2="326.20" stroke="#7a2a72" stroke-width="1" opacity="1"/><line x1="787.44" y1="315.53" x2="787.44" y2="326.20" stroke="#7a2a72" stroke-width="1" opacity="1"/><line x1="791.71" y1="314.65" x2="791.71" y2="326.20" stroke="#7a2a72" stroke-width="1" opacity="1"/><line x1="795.98" y1="314.43" x2="795.98" y2="326.20" stroke="#7a2a72" stroke-width="1" opacity="1"/><line x1="800.26" y1="310.70" x2="800.26" y2="326.20" stroke="#7a2a72" stroke-width="1" opacity="1"/><line x1="804.53" y1="308.08" x2="804.53" y2="326.20" stroke="#7a2a72" stroke-width="1" opacity="1"/><line x1="808.80" y1="310.95" x2="808.80" y2="326.20" stroke="#7a2a72" stroke-width="1" opacity="1"/><line x1="813.07" y1="300.67" x2="813.07" y2="326.20" stroke="#7a2a72" stroke-width="1" opacity="1"/><line x1="817.35" y1="301.13" x2="817.35" y2="326.20" stroke="#7a2a72" stroke-width="1" opacity="1"/><line x1="821.62" y1="299.59" x2="821.62" y2="326.20" stroke="#7a2a72" stroke-width="1" opacity="1"/><line x1="825.89" y1="307.39" x2="825.89" y2="326.20" stroke="#7a2a72" stroke-width="1" opacity="1"/><line x1="830.16" y1="294.74" x2="830.16" y2="326.20" stroke="#7a2a72" stroke-width="1" opacity="1"/><line x1="834.44" y1="298.64" x2="834.44" y2="326.20" stroke="#7a2a72" stroke-width="1" opacity="1"/><line x1="838.71" y1="293.52" x2="838.71" y2="326.20" stroke="#7a2a72" stroke-width="1" opacity="1"/><line x1="842.98" y1="302.35" x2="842.98" y2="326.20" stroke="#7a2a72" stroke-width="1" opacity="1"/><line x1="847.25" y1="308.82" x2="847.25" y2="326.20" stroke="#7a2a72" stroke-width="1" opacity="1"/><line x1="851.53" y1="304.51" x2="851.53" y2="326.20" stroke="#7a2a72" stroke-width="1" opacity="1"/><line x1="855.80" y1="303.26" x2="855.80" y2="326.20" stroke="#7a2a72" stroke-width="1" opacity="1"/><line x1="860.07" y1="306.74" x2="860.07" y2="326.20" stroke="#7a2a72" stroke-width="1" opacity="1"/><line x1="864.34" y1="314.67" x2="864.34" y2="326.20" stroke="#7a2a72" stroke-width="1" opacity="1"/><line x1="868.62" y1="313.88" x2="868.62" y2="326.20" stroke="#7a2a72" stroke-width="1" opacity="1"/><line x1="872.89" y1="314.79" x2="872.89" y2="326.20" stroke="#7a2a72" stroke-width="1" opacity="1"/><line x1="877.16" y1="311.30" x2="877.16" y2="326.20" stroke="#7a2a72" stroke-width="1" opacity="1"/><line x1="881.43" y1="313.93" x2="881.43" y2="326.20" stroke="#7a2a72" stroke-width="1" opacity="1"/><line x1="885.71" y1="311.78" x2="885.71" y2="326.20" stroke="#7a2a72" stroke-width="1" opacity="1"/><line x1="889.98" y1="314.42" x2="889.98" y2="326.20" stroke="#7a2a72" stroke-width="1" opacity="1"/><line x1="894.25" y1="306.36" x2="894.25" y2="326.20" stroke="#7a2a72" stroke-width="1" opacity="1"/><line x1="898.52" y1="304.72" x2="898.52" y2="326.20" stroke="#7a2a72" stroke-width="1" opacity="1"/><line x1="902.80" y1="311.06" x2="902.80" y2="326.20" stroke="#7a2a72" stroke-width="1" opacity="1"/><line x1="907.07" y1="310.61" x2="907.07" y2="326.20" stroke="#7a2a72" stroke-width="1" opacity="1"/><line x1="911.34" y1="311.46" x2="911.34" y2="326.20" stroke="#7a2a72" stroke-width="1" opacity="1"/><line x1="915.61" y1="312.24" x2="915.61" y2="326.20" stroke="#7a2a72" stroke-width="1" opacity="1"/><line x1="919.89" y1="309.43" x2="919.89" y2="326.20" stroke="#7a2a72" stroke-width="1" opacity="1"/><line x1="924.16" y1="313.72" x2="924.16" y2="326.20" stroke="#7a2a72" stroke-width="1" opacity="1"/><line x1="928.43" y1="309.44" x2="928.43" y2="326.20" stroke="#7a2a72" stroke-width="1" opacity="1"/><line x1="932.70" y1="302.89" x2="932.70" y2="326.20" stroke="#7a2a72" stroke-width="1" opacity="1"/><line x1="936.98" y1="298.22" x2="936.98" y2="326.20" stroke="#7a2a72" stroke-width="1" opacity="1"/><line x1="941.25" y1="302.68" x2="941.25" y2="326.20" stroke="#7a2a72" stroke-width="1" opacity="1"/><line x1="945.52" y1="309.20" x2="945.52" y2="326.20" stroke="#7a2a72" stroke-width="1" opacity="1"/><line x1="949.79" y1="308.81" x2="949.79" y2="326.20" stroke="#7a2a72" stroke-width="1" opacity="1"/><line x1="954.07" y1="313.20" x2="954.07" y2="326.20" stroke="#7a2a72" stroke-width="1" opacity="1"/><line x1="958.34" y1="312.96" x2="958.34" y2="326.20" stroke="#7a2a72" stroke-width="1" opacity="1"/><line x1="962.61" y1="316.22" x2="962.61" y2="326.20" stroke="#7a2a72" stroke-width="1" opacity="1"/><line x1="966.88" y1="313.21" x2="966.88" y2="326.20" stroke="#7a2a72" stroke-width="1" opacity="1"/><line x1="971.16" y1="315.48" x2="971.16" y2="326.20" stroke="#7a2a72" stroke-width="1" opacity="1"/><line x1="975.43" y1="317.00" x2="975.43" y2="326.20" stroke="#7a2a72" stroke-width="1" opacity="1"/><line x1="979.70" y1="320.82" x2="979.70" y2="326.20" stroke="#7a2a72" stroke-width="1" opacity="1"/><line x1="983.97" y1="318.92" x2="983.97" y2="326.20" stroke="#7a2a72" stroke-width="1" opacity="1"/><line x1="988.25" y1="319.64" x2="988.25" y2="326.20" stroke="#7a2a72" stroke-width="1" opacity="1"/></g><g><line x1="1.30" y1="427.10" x2="1.30" y2="438.00" stroke="#7c7c9c" stroke-width="1" opacity="1"/><line x1="5.57" y1="427.10" x2="5.57" y2="439.99" stroke="#7c7c9c" stroke-width="1" opacity="1"/><line x1="9.85" y1="427.10" x2="9.85" y2="443.03" stroke="#7c7c9c" stroke-width="1" opacity="1"/><line x1="14.12" y1="427.10" x2="14.12" y2="445.61" stroke="#7c7c9c" stroke-width="1" opacity="1"/><line x1="18.39" y1="427.10" x2="18.39" y2="448.79" stroke="#7c7c9c" stroke-width="1" opacity="1"/><line x1="22.66" y1="427.10" x2="22.66" y2="449.99" stroke="#7c7c9c" stroke-width="1" opacity="1"/><line x1="26.93" y1="427.10" x2="26.93" y2="452.50" stroke="#7c7c9c" stroke-width="1" opacity="1"/><line x1="31.21" y1="427.10" x2="31.21" y2="452.49" stroke="#7c7c9c" stroke-width="1" opacity="1"/><line x1="35.48" y1="427.10" x2="35.48" y2="447.52" stroke="#7c7c9c" stroke-width="1" opacity="1"/><line x1="39.75" y1="427.10" x2="39.75" y2="446.00" stroke="#7c7c9c" stroke-width="1" opacity="1"/><line x1="44.02" y1="427.10" x2="44.02" y2="445.97" stroke="#7c7c9c" stroke-width="1" opacity="1"/><line x1="48.30" y1="427.10" x2="48.30" y2="440.00" stroke="#7c7c9c" stroke-width="1" opacity="1"/><line x1="52.57" y1="427.10" x2="52.57" y2="440.00" stroke="#7c7c9c" stroke-width="1" opacity="1"/><line x1="56.84" y1="427.10" x2="56.84" y2="436.99" stroke="#7c7c9c" stroke-width="1" opacity="1"/><line x1="61.11" y1="427.10" x2="61.11" y2="435.59" stroke="#7c7c9c" stroke-width="1" opacity="1"/><line x1="65.39" y1="427.10" x2="65.39" y2="432.51" stroke="#7c7c9c" stroke-width="1" opacity="1"/><line x1="69.66" y1="427.10" x2="69.66" y2="431.00" stroke="#7c7c9c" stroke-width="1" opacity="1"/><line x1="73.93" y1="427.10" x2="73.93" y2="430.99" stroke="#7c7c9c" stroke-width="1" opacity="1"/><line x1="78.20" y1="427.10" x2="78.20" y2="429.40" stroke="#7c7c9c" stroke-width="1" opacity="1"/><line x1="82.48" y1="427.10" x2="82.48" y2="428.01" stroke="#7c7c9c" stroke-width="1" opacity="1"/><line x1="86.75" y1="427.10" x2="86.75" y2="428.55" stroke="#7c7c9c" stroke-width="1" opacity="1"/><line x1="91.02" y1="427.10" x2="91.02" y2="432.51" stroke="#7c7c9c" stroke-width="1" opacity="1"/><line x1="95.30" y1="427.10" x2="95.30" y2="434.00" stroke="#7c7c9c" stroke-width="1" opacity="1"/><line x1="99.57" y1="427.10" x2="99.57" y2="435.03" stroke="#7c7c9c" stroke-width="1" opacity="1"/><line x1="103.84" y1="427.10" x2="103.84" y2="437.01" stroke="#7c7c9c" stroke-width="1" opacity="1"/><line x1="108.11" y1="427.10" x2="108.11" y2="438.01" stroke="#7c7c9c" stroke-width="1" opacity="1"/><line x1="112.38" y1="427.10" x2="112.38" y2="439.99" stroke="#7c7c9c" stroke-width="1" opacity="1"/><line x1="116.66" y1="427.10" x2="116.66" y2="436.98" stroke="#7c7c9c" stroke-width="1" opacity="1"/><line x1="120.93" y1="427.10" x2="120.93" y2="435.60" stroke="#7c7c9c" stroke-width="1" opacity="1"/><line x1="125.20" y1="427.10" x2="125.20" y2="435.00" stroke="#7c7c9c" stroke-width="1" opacity="1"/><line x1="129.48" y1="427.10" x2="129.48" y2="434.13" stroke="#7c7c9c" stroke-width="1" opacity="1"/><line x1="133.75" y1="427.10" x2="133.75" y2="433.26" stroke="#7c7c9c" stroke-width="1" opacity="1"/><line x1="138.02" y1="427.10" x2="138.02" y2="433.00" stroke="#7c7c9c" stroke-width="1" opacity="1"/><line x1="142.29" y1="427.10" x2="142.29" y2="433.00" stroke="#7c7c9c" stroke-width="1" opacity="1"/><line x1="146.56" y1="427.10" x2="146.56" y2="432.83" stroke="#7c7c9c" stroke-width="1" opacity="1"/><line x1="150.84" y1="427.10" x2="150.84" y2="432.35" stroke="#7c7c9c" stroke-width="1" opacity="1"/><line x1="155.11" y1="427.10" x2="155.11" y2="431.26" stroke="#7c7c9c" stroke-width="1" opacity="1"/><line x1="159.38" y1="427.10" x2="159.38" y2="428.41" stroke="#7c7c9c" stroke-width="1" opacity="1"/><line x1="163.66" y1="427.10" x2="163.66" y2="427.88" stroke="#7c7c9c" stroke-width="1" opacity="1"/><line x1="167.93" y1="427.10" x2="167.93" y2="427.74" stroke="#7c7c9c" stroke-width="1" opacity="1"/><line x1="172.20" y1="427.10" x2="172.20" y2="427.59" stroke="#7c7c9c" stroke-width="1" opacity="1"/><line x1="176.47" y1="427.10" x2="176.47" y2="427.50" stroke="#7c7c9c" stroke-width="1" opacity="1"/><line x1="180.75" y1="427.10" x2="180.75" y2="427.50" stroke="#7c7c9c" stroke-width="1" opacity="1"/><line x1="185.02" y1="427.10" x2="185.02" y2="427.50" stroke="#7c7c9c" stroke-width="1" opacity="1"/><line x1="189.29" y1="427.10" x2="189.29" y2="427.50" stroke="#7c7c9c" stroke-width="1" opacity="1"/><line x1="193.56" y1="427.10" x2="193.56" y2="425.67" stroke="#7c7c9c" stroke-width="1" opacity="1"/><line x1="197.84" y1="427.10" x2="197.84" y2="423.01" stroke="#7c7c9c" stroke-width="1" opacity="1"/><line x1="202.11" y1="427.10" x2="202.11" y2="419.08" stroke="#7c7c9c" stroke-width="1" opacity="1"/><line x1="206.38" y1="427.10" x2="206.38" y2="410.60" stroke="#7c7c9c" stroke-width="1" opacity="1"/><line x1="210.65" y1="427.10" x2="210.65" y2="410.60" stroke="#7c7c9c" stroke-width="1" opacity="1"/><line x1="214.93" y1="427.10" x2="214.93" y2="410.60" stroke="#7c7c9c" stroke-width="1" opacity="1"/><line x1="219.20" y1="427.10" x2="219.20" y2="412.34" stroke="#7c7c9c" stroke-width="1" opacity="1"/><line x1="223.47" y1="427.10" x2="223.47" y2="414.09" stroke="#7c7c9c" stroke-width="1" opacity="1"/><line x1="227.74" y1="427.10" x2="227.74" y2="415.23" stroke="#7c7c9c" stroke-width="1" opacity="1"/><line x1="232.02" y1="427.10" x2="232.02" y2="416.28" stroke="#7c7c9c" stroke-width="1" opacity="1"/><line x1="236.29" y1="427.10" x2="236.29" y2="417.36" stroke="#7c7c9c" stroke-width="1" opacity="1"/><line x1="240.56" y1="427.10" x2="240.56" y2="418.58" stroke="#7c7c9c" stroke-width="1" opacity="1"/><line x1="244.83" y1="427.10" x2="244.83" y2="419.99" stroke="#7c7c9c" stroke-width="1" opacity="1"/><line x1="249.11" y1="427.10" x2="249.11" y2="421.82" stroke="#7c7c9c" stroke-width="1" opacity="1"/><line x1="253.38" y1="427.10" x2="253.38" y2="424.16" stroke="#7c7c9c" stroke-width="1" opacity="1"/><line x1="257.65" y1="427.10" x2="257.65" y2="426.06" stroke="#7c7c9c" stroke-width="1" opacity="1"/><line x1="261.92" y1="427.10" x2="261.92" y2="426.20" stroke="#7c7c9c" stroke-width="1" opacity="1"/><line x1="266.19" y1="427.10" x2="266.19" y2="426.35" stroke="#7c7c9c" stroke-width="1" opacity="1"/><line x1="270.47" y1="427.10" x2="270.47" y2="426.49" stroke="#7c7c9c" stroke-width="1" opacity="1"/><line x1="274.74" y1="427.10" x2="274.74" y2="426.64" stroke="#7c7c9c" stroke-width="1" opacity="1"/><line x1="279.01" y1="427.10" x2="279.01" y2="426.78" stroke="#7c7c9c" stroke-width="1" opacity="1"/><line x1="300.38" y1="427.10" x2="300.38" y2="427.50" stroke="#7c7c9c" stroke-width="1" opacity="1"/><line x1="304.65" y1="427.10" x2="304.65" y2="427.50" stroke="#7c7c9c" stroke-width="1" opacity="1"/><line x1="308.92" y1="427.10" x2="308.92" y2="427.50" stroke="#7c7c9c" stroke-width="1" opacity="1"/><line x1="313.19" y1="427.10" x2="313.19" y2="427.50" stroke="#7c7c9c" stroke-width="1" opacity="1"/><line x1="317.47" y1="427.10" x2="317.47" y2="423.60" stroke="#7c7c9c" stroke-width="1" opacity="1"/><line x1="321.74" y1="427.10" x2="321.74" y2="421.28" stroke="#7c7c9c" stroke-width="1" opacity="1"/><line x1="326.01" y1="427.10" x2="326.01" y2="419.80" stroke="#7c7c9c" stroke-width="1" opacity="1"/><line x1="330.28" y1="427.10" x2="330.28" y2="419.20" stroke="#7c7c9c" stroke-width="1" opacity="1"/><line x1="334.56" y1="427.10" x2="334.56" y2="419.11" stroke="#7c7c9c" stroke-width="1" opacity="1"/><line x1="338.83" y1="427.10" x2="338.83" y2="418.43" stroke="#7c7c9c" stroke-width="1" opacity="1"/><line x1="343.10" y1="427.10" x2="343.10" y2="416.75" stroke="#7c7c9c" stroke-width="1" opacity="1"/><line x1="347.37" y1="427.10" x2="347.37" y2="414.79" stroke="#7c7c9c" stroke-width="1" opacity="1"/><line x1="351.64" y1="427.10" x2="351.64" y2="413.92" stroke="#7c7c9c" stroke-width="1" opacity="1"/><line x1="355.92" y1="427.10" x2="355.92" y2="412.61" stroke="#7c7c9c" stroke-width="1" opacity="1"/><line x1="360.19" y1="427.10" x2="360.19" y2="410.16" stroke="#7c7c9c" stroke-width="1" opacity="1"/><line x1="364.46" y1="427.10" x2="364.46" y2="408.43" stroke="#7c7c9c" stroke-width="1" opacity="1"/><line x1="368.74" y1="427.10" x2="368.74" y2="406.46" stroke="#7c7c9c" stroke-width="1" opacity="1"/><line x1="373.01" y1="427.10" x2="373.01" y2="405.10" stroke="#7c7c9c" stroke-width="1" opacity="1"/><line x1="377.28" y1="427.10" x2="377.28" y2="402.45" stroke="#7c7c9c" stroke-width="1" opacity="1"/><line x1="381.55" y1="427.10" x2="381.55" y2="400.67" stroke="#7c7c9c" stroke-width="1" opacity="1"/><line x1="385.82" y1="427.10" x2="385.82" y2="398.97" stroke="#7c7c9c" stroke-width="1" opacity="1"/><line x1="390.10" y1="427.10" x2="390.10" y2="398.90" stroke="#7c7c9c" stroke-width="1" opacity="1"/><line x1="394.37" y1="427.10" x2="394.37" y2="399.53" stroke="#7c7c9c" stroke-width="1" opacity="1"/><line x1="398.64" y1="427.10" x2="398.64" y2="400.79" stroke="#7c7c9c" stroke-width="1" opacity="1"/><line x1="402.92" y1="427.10" x2="402.92" y2="400.98" stroke="#7c7c9c" stroke-width="1" opacity="1"/><line x1="407.19" y1="427.10" x2="407.19" y2="399.94" stroke="#7c7c9c" stroke-width="1" opacity="1"/><line x1="411.46" y1="427.10" x2="411.46" y2="399.44" stroke="#7c7c9c" stroke-width="1" opacity="1"/><line x1="415.73" y1="427.10" x2="415.73" y2="401.08" stroke="#7c7c9c" stroke-width="1" opacity="1"/><line x1="420.00" y1="427.10" x2="420.00" y2="402.56" stroke="#7c7c9c" stroke-width="1" opacity="1"/><line x1="424.28" y1="427.10" x2="424.28" y2="403.53" stroke="#7c7c9c" stroke-width="1" opacity="1"/><line x1="428.55" y1="427.10" x2="428.55" y2="405.66" stroke="#7c7c9c" stroke-width="1" opacity="1"/><line x1="432.82" y1="427.10" x2="432.82" y2="408.86" stroke="#7c7c9c" stroke-width="1" opacity="1"/><line x1="437.10" y1="427.10" x2="437.10" y2="411.05" stroke="#7c7c9c" stroke-width="1" opacity="1"/><line x1="441.37" y1="427.10" x2="441.37" y2="413.50" stroke="#7c7c9c" stroke-width="1" opacity="1"/><line x1="445.64" y1="427.10" x2="445.64" y2="415.04" stroke="#7c7c9c" stroke-width="1" opacity="1"/><line x1="449.91" y1="427.10" x2="449.91" y2="416.02" stroke="#7c7c9c" stroke-width="1" opacity="1"/><line x1="454.19" y1="427.10" x2="454.19" y2="416.68" stroke="#7c7c9c" stroke-width="1" opacity="1"/><line x1="458.46" y1="427.10" x2="458.46" y2="417.51" stroke="#7c7c9c" stroke-width="1" opacity="1"/><line x1="462.73" y1="427.10" x2="462.73" y2="419.96" stroke="#7c7c9c" stroke-width="1" opacity="1"/><line x1="467.00" y1="427.10" x2="467.00" y2="422.06" stroke="#7c7c9c" stroke-width="1" opacity="1"/><line x1="471.28" y1="427.10" x2="471.28" y2="424.53" stroke="#7c7c9c" stroke-width="1" opacity="1"/><line x1="475.55" y1="427.10" x2="475.55" y2="426.04" stroke="#7c7c9c" stroke-width="1" opacity="1"/><line x1="488.37" y1="427.10" x2="488.37" y2="427.92" stroke="#7c7c9c" stroke-width="1" opacity="1"/><line x1="492.64" y1="427.10" x2="492.64" y2="428.45" stroke="#7c7c9c" stroke-width="1" opacity="1"/><line x1="496.91" y1="427.10" x2="496.91" y2="429.13" stroke="#7c7c9c" stroke-width="1" opacity="1"/><line x1="501.18" y1="427.10" x2="501.18" y2="430.57" stroke="#7c7c9c" stroke-width="1" opacity="1"/><line x1="505.45" y1="427.10" x2="505.45" y2="431.94" stroke="#7c7c9c" stroke-width="1" opacity="1"/><line x1="509.73" y1="427.10" x2="509.73" y2="433.49" stroke="#7c7c9c" stroke-width="1" opacity="1"/><line x1="514.00" y1="427.10" x2="514.00" y2="432.61" stroke="#7c7c9c" stroke-width="1" opacity="1"/><line x1="518.27" y1="427.10" x2="518.27" y2="434.81" stroke="#7c7c9c" stroke-width="1" opacity="1"/><line x1="522.54" y1="427.10" x2="522.54" y2="435.52" stroke="#7c7c9c" stroke-width="1" opacity="1"/><line x1="526.82" y1="427.10" x2="526.82" y2="436.30" stroke="#7c7c9c" stroke-width="1" opacity="1"/><line x1="531.09" y1="427.10" x2="531.09" y2="437.03" stroke="#7c7c9c" stroke-width="1" opacity="1"/><line x1="535.36" y1="427.10" x2="535.36" y2="437.10" stroke="#7c7c9c" stroke-width="1" opacity="1"/><line x1="539.63" y1="427.10" x2="539.63" y2="437.84" stroke="#7c7c9c" stroke-width="1" opacity="1"/><line x1="543.91" y1="427.10" x2="543.91" y2="438.68" stroke="#7c7c9c" stroke-width="1" opacity="1"/><line x1="548.18" y1="427.10" x2="548.18" y2="438.70" stroke="#7c7c9c" stroke-width="1" opacity="1"/><line x1="552.45" y1="427.10" x2="552.45" y2="437.16" stroke="#7c7c9c" stroke-width="1" opacity="1"/><line x1="556.72" y1="427.10" x2="556.72" y2="437.10" stroke="#7c7c9c" stroke-width="1" opacity="1"/><line x1="561.00" y1="427.10" x2="561.00" y2="436.30" stroke="#7c7c9c" stroke-width="1" opacity="1"/><line x1="565.27" y1="427.10" x2="565.27" y2="437.01" stroke="#7c7c9c" stroke-width="1" opacity="1"/><line x1="569.54" y1="427.10" x2="569.54" y2="436.33" stroke="#7c7c9c" stroke-width="1" opacity="1"/><line x1="573.81" y1="427.10" x2="573.81" y2="434.99" stroke="#7c7c9c" stroke-width="1" opacity="1"/><line x1="578.09" y1="427.10" x2="578.09" y2="434.04" stroke="#7c7c9c" stroke-width="1" opacity="1"/><line x1="582.36" y1="427.10" x2="582.36" y2="435.38" stroke="#7c7c9c" stroke-width="1" opacity="1"/><line x1="586.63" y1="427.10" x2="586.63" y2="447.89" stroke="#7c7c9c" stroke-width="1" opacity="1"/><line x1="590.90" y1="427.10" x2="590.90" y2="449.62" stroke="#7c7c9c" stroke-width="1" opacity="1"/><line x1="595.18" y1="427.10" x2="595.18" y2="450.35" stroke="#7c7c9c" stroke-width="1" opacity="1"/><line x1="599.45" y1="427.10" x2="599.45" y2="452.72" stroke="#7c7c9c" stroke-width="1" opacity="1"/><line x1="603.72" y1="427.10" x2="603.72" y2="454.86" stroke="#7c7c9c" stroke-width="1" opacity="1"/><line x1="608.00" y1="427.10" x2="608.00" y2="457.40" stroke="#7c7c9c" stroke-width="1" opacity="1"/><line x1="612.27" y1="427.10" x2="612.27" y2="458.88" stroke="#7c7c9c" stroke-width="1" opacity="1"/><line x1="616.54" y1="427.10" x2="616.54" y2="460.51" stroke="#7c7c9c" stroke-width="1" opacity="1"/><line x1="620.81" y1="427.10" x2="620.81" y2="461.97" stroke="#7c7c9c" stroke-width="1" opacity="1"/><line x1="625.08" y1="427.10" x2="625.08" y2="463.60" stroke="#7c7c9c" stroke-width="1" opacity="1"/><line x1="629.36" y1="427.10" x2="629.36" y2="463.60" stroke="#7c7c9c" stroke-width="1" opacity="1"/><line x1="633.63" y1="427.10" x2="633.63" y2="460.56" stroke="#7c7c9c" stroke-width="1" opacity="1"/><line x1="637.90" y1="427.10" x2="637.90" y2="459.78" stroke="#7c7c9c" stroke-width="1" opacity="1"/><line x1="642.17" y1="427.10" x2="642.17" y2="457.47" stroke="#7c7c9c" stroke-width="1" opacity="1"/><line x1="646.45" y1="427.10" x2="646.45" y2="458.16" stroke="#7c7c9c" stroke-width="1" opacity="1"/><line x1="650.72" y1="427.10" x2="650.72" y2="457.45" stroke="#7c7c9c" stroke-width="1" opacity="1"/><line x1="654.99" y1="427.10" x2="654.99" y2="454.23" stroke="#7c7c9c" stroke-width="1" opacity="1"/><line x1="659.26" y1="427.10" x2="659.26" y2="452.78" stroke="#7c7c9c" stroke-width="1" opacity="1"/><line x1="663.54" y1="427.10" x2="663.54" y2="451.88" stroke="#7c7c9c" stroke-width="1" opacity="1"/><line x1="667.81" y1="427.10" x2="667.81" y2="451.24" stroke="#7c7c9c" stroke-width="1" opacity="1"/><line x1="672.08" y1="427.10" x2="672.08" y2="450.36" stroke="#7c7c9c" stroke-width="1" opacity="1"/><line x1="676.35" y1="427.10" x2="676.35" y2="448.18" stroke="#7c7c9c" stroke-width="1" opacity="1"/><line x1="680.63" y1="427.10" x2="680.63" y2="446.49" stroke="#7c7c9c" stroke-width="1" opacity="1"/><line x1="684.90" y1="427.10" x2="684.90" y2="445.00" stroke="#7c7c9c" stroke-width="1" opacity="1"/><line x1="689.17" y1="427.10" x2="689.17" y2="443.38" stroke="#7c7c9c" stroke-width="1" opacity="1"/><line x1="693.44" y1="427.10" x2="693.44" y2="441.92" stroke="#7c7c9c" stroke-width="1" opacity="1"/><line x1="697.72" y1="427.10" x2="697.72" y2="441.79" stroke="#7c7c9c" stroke-width="1" opacity="1"/><line x1="701.99" y1="427.10" x2="701.99" y2="439.70" stroke="#7c7c9c" stroke-width="1" opacity="1"/><line x1="706.26" y1="427.10" x2="706.26" y2="438.71" stroke="#7c7c9c" stroke-width="1" opacity="1"/><line x1="710.53" y1="427.10" x2="710.53" y2="437.26" stroke="#7c7c9c" stroke-width="1" opacity="1"/><line x1="714.81" y1="427.10" x2="714.81" y2="437.10" stroke="#7c7c9c" stroke-width="1" opacity="1"/><line x1="719.08" y1="427.10" x2="719.08" y2="435.74" stroke="#7c7c9c" stroke-width="1" opacity="1"/><line x1="723.35" y1="427.10" x2="723.35" y2="434.83" stroke="#7c7c9c" stroke-width="1" opacity="1"/><line x1="727.62" y1="427.10" x2="727.62" y2="433.40" stroke="#7c7c9c" stroke-width="1" opacity="1"/><line x1="731.90" y1="427.10" x2="731.90" y2="432.42" stroke="#7c7c9c" stroke-width="1" opacity="1"/><line x1="736.17" y1="427.10" x2="736.17" y2="431.10" stroke="#7c7c9c" stroke-width="1" opacity="1"/><line x1="740.44" y1="427.10" x2="740.44" y2="429.37" stroke="#7c7c9c" stroke-width="1" opacity="1"/><line x1="744.71" y1="427.10" x2="744.71" y2="428.47" stroke="#7c7c9c" stroke-width="1" opacity="1"/><line x1="748.99" y1="427.10" x2="748.99" y2="427.83" stroke="#7c7c9c" stroke-width="1" opacity="1"/><line x1="757.53" y1="427.10" x2="757.53" y2="426.41" stroke="#7c7c9c" stroke-width="1" opacity="1"/><line x1="761.80" y1="427.10" x2="761.80" y2="426.00" stroke="#7c7c9c" stroke-width="1" opacity="1"/><line x1="766.08" y1="427.10" x2="766.08" y2="426.00" stroke="#7c7c9c" stroke-width="1" opacity="1"/><line x1="770.35" y1="427.10" x2="770.35" y2="425.76" stroke="#7c7c9c" stroke-width="1" opacity="1"/><line x1="774.62" y1="427.10" x2="774.62" y2="425.34" stroke="#7c7c9c" stroke-width="1" opacity="1"/><line x1="778.89" y1="427.10" x2="778.89" y2="424.91" stroke="#7c7c9c" stroke-width="1" opacity="1"/><line x1="783.17" y1="427.10" x2="783.17" y2="424.23" stroke="#7c7c9c" stroke-width="1" opacity="1"/><line x1="787.44" y1="427.10" x2="787.44" y2="422.61" stroke="#7c7c9c" stroke-width="1" opacity="1"/><line x1="791.71" y1="427.10" x2="791.71" y2="419.89" stroke="#7c7c9c" stroke-width="1" opacity="1"/><line x1="795.98" y1="427.10" x2="795.98" y2="418.44" stroke="#7c7c9c" stroke-width="1" opacity="1"/><line x1="800.26" y1="427.10" x2="800.26" y2="417.69" stroke="#7c7c9c" stroke-width="1" opacity="1"/><line x1="804.53" y1="427.10" x2="804.53" y2="418.25" stroke="#7c7c9c" stroke-width="1" opacity="1"/><line x1="808.80" y1="427.10" x2="808.80" y2="420.07" stroke="#7c7c9c" stroke-width="1" opacity="1"/><line x1="813.07" y1="427.10" x2="813.07" y2="421.71" stroke="#7c7c9c" stroke-width="1" opacity="1"/><line x1="817.35" y1="427.10" x2="817.35" y2="424.13" stroke="#7c7c9c" stroke-width="1" opacity="1"/><line x1="821.62" y1="427.10" x2="821.62" y2="427.67" stroke="#7c7c9c" stroke-width="1" opacity="1"/><line x1="825.89" y1="427.10" x2="825.89" y2="430.53" stroke="#7c7c9c" stroke-width="1" opacity="1"/><line x1="830.16" y1="427.10" x2="830.16" y2="433.06" stroke="#7c7c9c" stroke-width="1" opacity="1"/><line x1="834.44" y1="427.10" x2="834.44" y2="435.86" stroke="#7c7c9c" stroke-width="1" opacity="1"/><line x1="838.71" y1="427.10" x2="838.71" y2="435.65" stroke="#7c7c9c" stroke-width="1" opacity="1"/><line x1="842.98" y1="427.10" x2="842.98" y2="435.53" stroke="#7c7c9c" stroke-width="1" opacity="1"/><line x1="847.25" y1="427.10" x2="847.25" y2="431.99" stroke="#7c7c9c" stroke-width="1" opacity="1"/><line x1="851.53" y1="427.10" x2="851.53" y2="429.04" stroke="#7c7c9c" stroke-width="1" opacity="1"/><line x1="855.80" y1="427.10" x2="855.80" y2="427.59" stroke="#7c7c9c" stroke-width="1" opacity="1"/><line x1="860.07" y1="427.10" x2="860.07" y2="425.32" stroke="#7c7c9c" stroke-width="1" opacity="1"/><line x1="864.34" y1="427.10" x2="864.34" y2="420.41" stroke="#7c7c9c" stroke-width="1" opacity="1"/><line x1="868.62" y1="427.10" x2="868.62" y2="416.08" stroke="#7c7c9c" stroke-width="1" opacity="1"/><line x1="872.89" y1="427.10" x2="872.89" y2="412.22" stroke="#7c7c9c" stroke-width="1" opacity="1"/><line x1="877.16" y1="427.10" x2="877.16" y2="412.50" stroke="#7c7c9c" stroke-width="1" opacity="1"/><line x1="881.43" y1="427.10" x2="881.43" y2="412.95" stroke="#7c7c9c" stroke-width="1" opacity="1"/><line x1="885.71" y1="427.10" x2="885.71" y2="415.50" stroke="#7c7c9c" stroke-width="1" opacity="1"/><line x1="889.98" y1="427.10" x2="889.98" y2="416.63" stroke="#7c7c9c" stroke-width="1" opacity="1"/><line x1="894.25" y1="427.10" x2="894.25" y2="417.05" stroke="#7c7c9c" stroke-width="1" opacity="1"/><line x1="898.52" y1="427.10" x2="898.52" y2="417.57" stroke="#7c7c9c" stroke-width="1" opacity="1"/><line x1="902.80" y1="427.10" x2="902.80" y2="418.99" stroke="#7c7c9c" stroke-width="1" opacity="1"/><line x1="907.07" y1="427.10" x2="907.07" y2="420.61" stroke="#7c7c9c" stroke-width="1" opacity="1"/><line x1="911.34" y1="427.10" x2="911.34" y2="422.08" stroke="#7c7c9c" stroke-width="1" opacity="1"/><line x1="915.61" y1="427.10" x2="915.61" y2="423.04" stroke="#7c7c9c" stroke-width="1" opacity="1"/><line x1="919.89" y1="427.10" x2="919.89" y2="423.78" stroke="#7c7c9c" stroke-width="1" opacity="1"/><line x1="924.16" y1="427.10" x2="924.16" y2="422.04" stroke="#7c7c9c" stroke-width="1" opacity="1"/><line x1="928.43" y1="427.10" x2="928.43" y2="420.95" stroke="#7c7c9c" stroke-width="1" opacity="1"/><line x1="932.70" y1="427.10" x2="932.70" y2="420.20" stroke="#7c7c9c" stroke-width="1" opacity="1"/><line x1="936.98" y1="427.10" x2="936.98" y2="420.00" stroke="#7c7c9c" stroke-width="1" opacity="1"/><line x1="941.25" y1="427.10" x2="941.25" y2="418.87" stroke="#7c7c9c" stroke-width="1" opacity="1"/><line x1="945.52" y1="427.10" x2="945.52" y2="417.34" stroke="#7c7c9c" stroke-width="1" opacity="1"/><line x1="949.79" y1="427.10" x2="949.79" y2="415.76" stroke="#7c7c9c" stroke-width="1" opacity="1"/><line x1="954.07" y1="427.10" x2="954.07" y2="414.67" stroke="#7c7c9c" stroke-width="1" opacity="1"/><line x1="958.34" y1="427.10" x2="958.34" y2="414.50" stroke="#7c7c9c" stroke-width="1" opacity="1"/><line x1="962.61" y1="427.10" x2="962.61" y2="412.72" stroke="#7c7c9c" stroke-width="1" opacity="1"/><line x1="966.88" y1="427.10" x2="966.88" y2="413.50" stroke="#7c7c9c" stroke-width="1" opacity="1"/><line x1="971.16" y1="427.10" x2="971.16" y2="414.35" stroke="#7c7c9c" stroke-width="1" opacity="1"/><line x1="975.43" y1="427.10" x2="975.43" y2="414.50" stroke="#7c7c9c" stroke-width="1" opacity="1"/><line x1="979.70" y1="427.10" x2="979.70" y2="415.79" stroke="#7c7c9c" stroke-width="1" opacity="1"/><line x1="983.97" y1="427.10" x2="983.97" y2="417.40" stroke="#7c7c9c" stroke-width="1" opacity="1"/><line x1="988.25" y1="427.10" x2="988.25" y2="418.37" stroke="#7c7c9c" stroke-width="1" opacity="1"/></g><polyline points="0.0,145.2 1.0,145.8 2.0,146.5 3.0,147.4 4.0,148.3 5.0,149.3 6.0,150.3 7.0,151.3 8.0,152.3 9.0,153.4 10.0,154.4 11.0,155.5 12.0,156.6 13.0,157.8 14.0,158.9 15.0,160.0 16.0,161.0 17.0,162.1 18.0,163.1 19.0,164.2 20.0,165.3 21.0,166.5 22.0,167.7 23.0,169.0 24.0,170.3 25.0,171.5 26.0,172.7 27.0,173.9 28.0,175.1 29.0,176.2 30.0,177.2 31.0,178.2 32.0,179.1 33.0,180.0 34.0,180.8 35.0,181.5 36.0,182.3 37.0,182.9 38.0,183.6 39.0,184.1 40.0,184.6 41.0,185.1 42.0,185.6 43.0,186.0 44.0,186.4 45.0,186.7 46.0,187.0 47.0,187.3 48.0,187.6 49.0,187.9 50.0,188.2 51.0,188.7 52.0,189.1 53.0,189.6 54.0,190.1 55.0,190.6 56.0,191.1 57.0,191.6 58.0,192.1 59.0,192.6 60.0,193.1 61.0,193.6 62.0,194.1 63.0,194.6 64.0,195.1 65.0,195.6 66.0,196.1 67.0,196.6 68.0,197.0 69.0,197.5 70.0,197.9 71.0,198.3 72.0,198.6 73.0,199.0 74.0,199.3 75.0,199.6 76.0,199.9 77.0,200.2 78.0,200.5 79.0,200.7 80.0,200.9 81.0,201.1 82.0,201.2 83.0,201.3 84.0,201.3 85.0,201.3 86.0,201.3 87.0,201.3 88.0,201.3 89.0,201.3 90.0,201.3 91.0,201.2 92.0,201.2 93.0,201.1 94.0,201.1 95.0,201.0 96.0,201.0 97.0,200.9 98.0,200.9 99.0,200.8 100.0,200.8 101.0,200.7 102.0,200.6 103.0,200.6 104.0,200.5 105.0,200.4 106.0,200.3 107.0,200.2 108.0,200.2 109.0,200.1 110.0,200.1 111.0,200.0 112.0,200.0 113.0,200.0 114.0,200.0 115.0,200.0 116.0,200.0 117.0,200.0 118.0,200.0 119.0,200.0 120.0,200.0 121.0,200.0 122.0,200.0 123.0,200.1 124.0,200.2 125.0,200.3 126.0,200.4 127.0,200.6 128.0,200.8 129.0,201.0 130.0,201.2 131.0,201.4 132.0,201.7 133.0,201.9 134.0,202.1 135.0,202.3 136.0,202.5 137.0,202.7 138.0,202.9 139.0,203.2 140.0,203.5 141.0,203.8 142.0,204.2 143.0,204.5 144.0,204.9 145.0,205.3 146.0,205.8 147.0,206.2 148.0,206.5 149.0,206.9 150.0,207.2 151.0,207.4 152.0,207.6 153.0,207.8 154.0,207.9 155.0,208.1 156.0,208.2 157.0,208.4 158.0,208.5 159.0,208.6 160.0,208.7 161.0,208.8 162.0,208.9 163.0,208.9 164.0,208.8 165.0,208.8 166.0,208.7 167.0,208.7 168.0,208.6 169.0,208.6 170.0,208.5 171.0,208.4 172.0,208.3 173.0,208.1 174.0,207.9 175.0,207.6 176.0,207.3 177.0,206.9 178.0,206.6 179.0,206.2 180.0,205.8 181.0,205.5 182.0,205.1 183.0,204.7 184.0,204.2 185.0,203.6 186.0,203.0 187.0,202.3 188.0,201.5 189.0,200.7 190.0,199.9 191.0,199.0 192.0,198.1 193.0,197.3 194.0,196.4 195.0,195.5 196.0,194.6 197.0,193.7 198.0,192.8 199.0,191.9 200.0,191.0 201.0,190.1 202.0,189.3 203.0,188.4 204.0,187.5 205.0,186.6 206.0,185.8 207.0,184.9 208.0,184.1 209.0,183.3 210.0,182.5 211.0,181.7 212.0,180.9 213.0,180.1 214.0,179.3 215.0,178.6 216.0,177.8 217.0,177.1 218.0,176.4 219.0,175.8 220.0,175.1 221.0,174.5 222.0,173.9 223.0,173.2 224.0,172.6 225.0,172.0 226.0,171.3 227.0,170.7 228.0,170.1 229.0,169.5 230.0,169.0 231.0,168.5 232.0,168.0 233.0,167.6 234.0,167.2 235.0,166.8 236.0,166.5 237.0,166.1 238.0,165.7 239.0,165.4 240.0,165.1 241.0,164.7 242.0,164.4 243.0,164.1 244.0,163.8 245.0,163.5 246.0,163.3 247.0,163.0 248.0,162.7 249.0,162.4 250.0,162.1 251.0,161.8 252.0,161.6 253.0,161.3 254.0,161.1 255.0,160.9 256.0,160.7 257.0,160.5 258.0,160.3 259.0,160.1 260.0,159.9 261.0,159.7 262.0,159.5 263.0,159.3 264.0,159.2 265.0,159.0 266.0,158.8 267.0,158.6 268.0,158.5 269.0,158.3 270.0,158.1 271.0,158.0 272.0,157.9 273.0,157.8 274.0,157.8 275.0,158.0 276.0,158.1 277.0,158.3 278.0,158.6 279.0,158.8 280.0,159.1 281.0,159.3 282.0,159.7 283.0,160.0 284.0,160.4 285.0,160.8 286.0,161.3 287.0,161.7 288.0,162.1 289.0,162.6 290.0,163.0 291.0,163.5 292.0,164.0 293.0,164.5 294.0,165.0 295.0,165.5 296.0,166.0 297.0,166.5 298.0,167.0 299.0,167.4 300.0,167.8 301.0,168.1 302.0,168.4 303.0,168.6 304.0,168.8 305.0,169.0 306.0,169.1 307.0,169.3 308.0,169.3 309.0,169.3 310.0,169.1 311.0,168.9 312.0,168.7 313.0,168.4 314.0,168.1 315.0,167.8 316.0,167.4 317.0,167.1 318.0,166.7 319.0,166.4 320.0,166.0 321.0,165.6 322.0,165.3 323.0,164.9 324.0,164.5 325.0,164.2 326.0,163.8 327.0,163.5 328.0,163.1 329.0,162.8 330.0,162.4 331.0,162.1 332.0,161.7 333.0,161.4 334.0,161.0 335.0,160.6 336.0,160.2 337.0,159.6 338.0,159.0 339.0,158.3 340.0,157.6 341.0,156.8 342.0,156.0 343.0,155.2 344.0,154.4 345.0,153.5 346.0,152.7 347.0,151.9 348.0,151.1 349.0,150.2 350.0,149.4 351.0,148.6 352.0,147.7 353.0,146.8 354.0,145.9 355.0,144.9 356.0,144.0 357.0,143.0 358.0,142.0 359.0,140.9 360.0,139.9 361.0,138.9 362.0,137.8 363.0,136.7 364.0,135.6 365.0,134.4 366.0,133.1 367.0,131.8 368.0,130.5 369.0,129.2 370.0,127.8 371.0,126.3 372.0,124.7 373.0,123.1 374.0,121.5 375.0,119.8 376.0,118.1 377.0,116.3 378.0,114.5 379.0,112.7 380.0,110.9 381.0,109.1 382.0,107.3 383.0,105.6 384.0,103.9 385.0,102.3 386.0,100.8 387.0,99.3 388.0,97.8 389.0,96.3 390.0,94.8 391.0,93.3 392.0,91.9 393.0,90.4 394.0,88.9 395.0,87.5 396.0,86.1 397.0,84.8 398.0,83.5 399.0,82.4 400.0,81.2 401.0,80.1 402.0,79.0 403.0,77.8 404.0,76.7 405.0,75.6 406.0,74.5 407.0,73.4 408.0,72.3 409.0,71.2 410.0,70.1 411.0,69.0 412.0,68.0 413.0,66.9 414.0,65.9 415.0,64.8 416.0,63.8 417.0,62.8 418.0,61.8 419.0,60.7 420.0,59.7 421.0,58.7 422.0,57.8 423.0,57.0 424.0,56.3 425.0,55.7 426.0,55.1 427.0,54.6 428.0,54.1 429.0,53.6 430.0,53.1 431.0,52.6 432.0,52.2 433.0,51.7 434.0,51.2 435.0,50.7 436.0,50.2 437.0,49.7 438.0,49.2 439.0,48.8 440.0,48.4 441.0,48.0 442.0,47.7 443.0,47.4 444.0,47.1 445.0,46.9 446.0,46.6 447.0,46.4 448.0,46.2 449.0,46.1 450.0,45.9 451.0,45.8 452.0,45.7 453.0,45.6 454.0,45.6 455.0,45.6 456.0,45.7 457.0,45.8 458.0,46.0 459.0,46.2 460.0,46.4 461.0,46.7 462.0,47.0 463.0,47.4 464.0,47.9 465.0,48.4 466.0,48.9 467.0,49.4 468.0,49.8 469.0,50.3 470.0,50.7 471.0,51.2 472.0,51.6 473.0,52.0 474.0,52.4 475.0,52.8 476.0,53.1 477.0,53.5 478.0,53.9 479.0,54.3 480.0,54.7 481.0,55.1 482.0,55.6 483.0,56.0 484.0,56.5 485.0,57.0 486.0,57.6 487.0,58.2 488.0,58.8 489.0,59.4 490.0,60.1 491.0,60.8 492.0,61.5 493.0,62.2 494.0,63.0 495.0,63.8 496.0,64.6 497.0,65.4 498.0,66.2 499.0,67.0 500.0,67.8 501.0,68.6 502.0,69.4 503.0,70.2 504.0,71.0 505.0,71.7 506.0,72.5 507.0,73.2 508.0,73.9 509.0,74.6 510.0,75.3 511.0,76.0 512.0,76.7 513.0,77.3 514.0,77.9 515.0,78.4 516.0,78.9 517.0,79.5 518.0,80.0 519.0,80.5 520.0,81.1 521.0,81.7 522.0,82.3 523.0,83.0 524.0,83.6 525.0,84.3 526.0,84.9 527.0,85.6 528.0,86.2 529.0,86.9 530.0,87.6 531.0,88.2 532.0,88.9 533.0,89.6 534.0,90.4 535.0,91.1 536.0,91.8 537.0,92.6 538.0,93.4 539.0,94.2 540.0,95.1 541.0,95.9 542.0,96.7 543.0,97.6 544.0,98.4 545.0,99.3 546.0,100.1 547.0,101.0 548.0,101.8 549.0,102.5 550.0,103.2 551.0,103.8 552.0,104.4 553.0,104.9 554.0,105.4 555.0,105.9 556.0,106.4 557.0,106.9 558.0,107.4 559.0,107.9 560.0,108.4 561.0,108.9 562.0,109.4 563.0,110.0 564.0,110.5 565.0,111.0 566.0,111.5 567.0,112.0 568.0,112.7 569.0,113.4 570.0,114.3 571.0,115.4 572.0,116.6 573.0,117.9 574.0,119.2 575.0,120.5 576.0,121.8 577.0,123.1 578.0,124.4 579.0,125.6 580.0,126.7 581.0,127.7 582.0,128.7 583.0,129.6 584.0,130.6 585.0,131.5 586.0,132.4 587.0,133.3 588.0,134.2 589.0,135.1 590.0,136.0 591.0,136.9 592.0,137.9 593.0,139.0 594.0,140.1 595.0,141.3 596.0,142.5 597.0,143.8 598.0,145.0 599.0,146.3 600.0,147.5 601.0,148.8 602.0,150.0 603.0,151.3 604.0,152.6 605.0,153.9 606.0,155.3 607.0,156.8 608.0,158.3 609.0,159.9 610.0,161.5 611.0,163.1 612.0,164.7 613.0,166.3 614.0,167.9 615.0,169.5 616.0,171.1 617.0,172.7 618.0,174.2 619.0,175.7 620.0,177.2 621.0,178.7 622.0,180.2 623.0,181.7 624.0,183.2 625.0,184.7 626.0,186.3 627.0,187.9 628.0,189.5 629.0,191.1 630.0,192.7 631.0,194.3 632.0,195.9 633.0,197.5 634.0,199.1 635.0,200.7 636.0,202.3 637.0,203.8 638.0,205.4 639.0,206.9 640.0,208.4 641.0,209.8 642.0,211.3 643.0,212.8 644.0,214.3 645.0,215.8 646.0,217.3 647.0,218.8 648.0,220.3 649.0,221.8 650.0,223.3 651.0,224.8 652.0,226.3 653.0,227.8 654.0,229.2 655.0,230.6 656.0,231.9 657.0,233.1 658.0,234.2 659.0,235.3 660.0,236.3 661.0,237.3 662.0,238.3 663.0,239.3 664.0,240.3 665.0,241.2 666.0,242.1 667.0,243.0 668.0,243.8 669.0,244.5 670.0,245.3 671.0,246.0 672.0,246.8 673.0,247.5 674.0,248.2 675.0,248.9 676.0,249.5 677.0,250.0 678.0,250.5 679.0,250.9 680.0,251.3 681.0,251.6 682.0,252.0 683.0,252.4 684.0,252.7 685.0,253.1 686.0,253.4 687.0,253.6 688.0,253.8 689.0,254.0 690.0,254.2 691.0,254.4 692.0,254.6 693.0,254.8 694.0,254.9 695.0,255.1 696.0,255.2 697.0,255.2 698.0,255.3 699.0,255.3 700.0,255.3 701.0,255.3 702.0,255.3 703.0,255.3 704.0,255.3 705.0,255.2 706.0,255.1 707.0,255.0 708.0,254.8 709.0,254.6 710.0,254.4 711.0,254.2 712.0,254.0 713.0,253.7 714.0,253.5 715.0,253.4 716.0,253.2 717.0,253.1 718.0,253.0 719.0,253.0 720.0,253.0 721.0,253.0 722.0,253.0 723.0,253.0 724.0,253.0 725.0,253.0 726.0,253.0 727.0,253.0 728.0,253.0 729.0,253.0 730.0,253.0 731.0,253.0 732.0,253.0 733.0,253.0 734.0,253.0 735.0,252.9 736.0,252.8 737.0,252.5 738.0,252.3 739.0,252.0 740.0,251.6 741.0,251.2 742.0,250.9 743.0,250.5 744.0,250.1 745.0,249.7 746.0,249.4 747.0,249.0 748.0,248.6 749.0,248.2 750.0,247.7 751.0,247.3 752.0,246.8 753.0,246.3 754.0,245.9 755.0,245.4 756.0,244.9 757.0,244.4 758.0,243.9 759.0,243.4 760.0,243.0 761.0,242.5 762.0,242.1 763.0,241.6 764.0,241.3 765.0,240.9 766.0,240.6 767.0,240.3 768.0,240.0 769.0,239.7 770.0,239.4 771.0,239.1 772.0,238.8 773.0,238.5 774.0,238.2 775.0,237.9 776.0,237.5 777.0,237.2 778.0,236.9 779.0,236.4 780.0,236.0 781.0,235.4 782.0,234.8 783.0,234.1 784.0,233.5 785.0,232.8 786.0,232.1 787.0,231.5 788.0,230.8 789.0,230.1 790.0,229.4 791.0,228.7 792.0,228.0 793.0,227.4 794.0,226.7 795.0,226.0 796.0,225.3 797.0,224.6 798.0,223.9 799.0,223.2 800.0,222.5 801.0,221.8 802.0,221.2 803.0,220.5 804.0,220.0 805.0,219.4 806.0,218.9 807.0,218.4 808.0,217.9 809.0,217.4 810.0,216.9 811.0,216.5 812.0,216.2 813.0,216.0 814.0,215.9 815.0,215.9 816.0,216.0 817.0,216.2 818.0,216.4 819.0,216.6 820.0,216.9 821.0,217.3 822.0,217.7 823.0,218.2 824.0,218.8 825.0,219.4 826.0,220.0 827.0,220.6 828.0,221.3 829.0,222.0 830.0,222.6 831.0,223.3 832.0,223.9 833.0,224.5 834.0,225.2 835.0,225.7 836.0,226.3 837.0,226.9 838.0,227.5 839.0,228.0 840.0,228.6 841.0,229.1 842.0,229.5 843.0,229.7 844.0,229.8 845.0,229.7 846.0,229.5 847.0,229.2 848.0,228.9 849.0,228.6 850.0,228.3 851.0,227.9 852.0,227.6 853.0,227.3 854.0,226.9 855.0,226.6 856.0,226.2 857.0,225.9 858.0,225.5 859.0,225.2 860.0,224.8 861.0,224.4 862.0,224.1 863.0,223.7 864.0,223.4 865.0,223.0 866.0,222.7 867.0,222.3 868.0,221.9 869.0,221.5 870.0,221.2 871.0,220.8 872.0,220.4 873.0,220.0 874.0,219.6 875.0,219.2 876.0,218.8 877.0,218.5 878.0,218.1 879.0,217.8 880.0,217.6 881.0,217.4 882.0,217.4 883.0,217.3 884.0,217.3 885.0,217.3 886.0,217.3 887.0,217.3 888.0,217.3 889.0,217.3 890.0,217.3 891.0,217.2 892.0,217.1 893.0,216.9 894.0,216.6 895.0,216.3 896.0,216.0 897.0,215.6 898.0,215.2 899.0,214.8 900.0,214.4 901.0,214.0 902.0,213.5 903.0,213.1 904.0,212.6 905.0,212.1 906.0,211.6 907.0,211.0 908.0,210.4 909.0,209.8 910.0,209.1 911.0,208.3 912.0,207.5 913.0,206.6 914.0,205.7 915.0,204.9 916.0,204.0 917.0,203.1 918.0,202.1 919.0,201.1 920.0,200.2 921.0,199.2 922.0,198.1 923.0,197.1 924.0,196.2 925.0,195.2 926.0,194.2 927.0,193.3 928.0,192.4 929.0,191.5 930.0,190.7 931.0,189.8 932.0,189.0 933.0,188.3 934.0,187.6 935.0,187.1 936.0,186.6 937.0,186.3 938.0,185.9 939.0,185.6 940.0,185.3 941.0,185.0 942.0,184.7 943.0,184.4 944.0,184.2 945.0,184.0 946.0,183.8 947.0,183.6 948.0,183.4 949.0,183.2 950.0,183.0 951.0,182.8 952.0,182.6 953.0,182.4 954.0,182.2 955.0,182.0 956.0,181.8 957.0,181.6 958.0,181.4 959.0,181.2 960.0,180.9 961.0,180.7 962.0,180.4 963.0,180.1 964.0,179.8 965.0,179.4 966.0,179.1 967.0,178.7 968.0,178.3 969.0,177.9 970.0,177.4 971.0,176.9 972.0,176.4 973.0,176.0 974.0,175.5 975.0,175.0 976.0,174.5 977.0,174.0 978.0,173.6 979.0,173.2 980.0,172.8 981.0,172.5 982.0,172.1 983.0,171.8 984.0,171.4 985.0,171.1 986.0,170.8 987.0,170.5 988.0,170.3" fill="none" stroke="#9e9eb8" stroke-width="1.15" stroke-linejoin="round" opacity="1"/><line x1="1.30" y1="169.07" x2="998.50" y2="169.07" stroke="#6a6a82" stroke-width="1.2" opacity="1"/><line x1="0.75" y1="2.50" x2="0.75" y2="468.30" stroke="#a0a0bc" stroke-width="1.5" opacity="1"/><g><line x1="1.30" y1="150.00" x2="1.30" y2="224.00" stroke="#d8207a" stroke-width="1.0" opacity="0.62"/><rect x="-0.30" y="154.40" width="3.2" height="65.60" fill="#d8207a"/><line x1="5.57" y1="206.50" x2="5.57" y2="230.00" stroke="#c8c8d8" stroke-width="1.0" opacity="0.62"/><rect x="3.97" y="219.50" width="3.2" height="1.00" fill="#c8c8d8"/><line x1="9.85" y1="210.00" x2="9.85" y2="228.00" stroke="#86d8e2" stroke-width="1.0" opacity="0.62"/><rect x="8.25" y="213.00" width="3.2" height="8.50" fill="#86d8e2"/><line x1="14.12" y1="211.50" x2="14.12" y2="248.00" stroke="#d8207a" stroke-width="1.0" opacity="0.62"/><rect x="12.52" y="215.00" width="3.2" height="25.00" fill="#d8207a"/><line x1="18.39" y1="220.00" x2="18.39" y2="251.50" stroke="#86d8e2" stroke-width="1.0" opacity="0.62"/><rect x="16.79" y="227.00" width="3.2" height="13.00" fill="#86d8e2"/><line x1="22.66" y1="212.00" x2="22.66" y2="232.50" stroke="#d8207a" stroke-width="1.0" opacity="0.62"/><rect x="21.06" y="226.00" width="3.2" height="1.00" fill="#d8207a"/><line x1="26.93" y1="217.50" x2="26.93" y2="283.00" stroke="#d8207a" stroke-width="1.0" opacity="0.62"/><rect x="25.33" y="229.60" width="3.2" height="37.40" fill="#d8207a"/><line x1="31.21" y1="211.50" x2="31.21" y2="278.00" stroke="#86d8e2" stroke-width="1.0" opacity="0.62"/><rect x="29.61" y="223.00" width="3.2" height="43.50" fill="#86d8e2"/><line x1="35.48" y1="188.00" x2="35.48" y2="230.00" stroke="#86d8e2" stroke-width="1.0" opacity="0.62"/><rect x="33.88" y="198.00" width="3.2" height="26.00" fill="#86d8e2"/><line x1="39.75" y1="191.50" x2="39.75" y2="210.00" stroke="#d8207a" stroke-width="1.0" opacity="0.62"/><rect x="38.15" y="195.00" width="3.2" height="5.00" fill="#d8207a"/><line x1="44.02" y1="190.00" x2="44.02" y2="218.00" stroke="#d8207a" stroke-width="1.0" opacity="0.62"/><rect x="42.42" y="196.50" width="3.2" height="13.50" fill="#d8207a"/><line x1="48.30" y1="128.00" x2="48.30" y2="211.50" stroke="#86d8e2" stroke-width="1.0" opacity="0.62"/><rect x="46.70" y="141.60" width="3.2" height="68.40" fill="#86d8e2"/><line x1="52.57" y1="112.50" x2="52.57" y2="206.50" stroke="#d8207a" stroke-width="1.0" opacity="0.62"/><rect x="50.97" y="140.00" width="3.2" height="56.50" fill="#d8207a"/><line x1="56.84" y1="180.00" x2="56.84" y2="205.00" stroke="#86d8e2" stroke-width="1.0" opacity="0.62"/><rect x="55.24" y="185.00" width="3.2" height="10.00" fill="#86d8e2"/><line x1="61.11" y1="176.60" x2="61.11" y2="188.00" stroke="#86d8e2" stroke-width="1.0" opacity="0.62"/><rect x="59.51" y="180.00" width="3.2" height="5.00" fill="#86d8e2"/><line x1="65.39" y1="155.00" x2="65.39" y2="180.00" stroke="#86d8e2" stroke-width="1.0" opacity="0.62"/><rect x="63.79" y="165.00" width="3.2" height="8.00" fill="#86d8e2"/><line x1="69.66" y1="160.00" x2="69.66" y2="196.50" stroke="#d8207a" stroke-width="1.0" opacity="0.62"/><rect x="68.06" y="163.00" width="3.2" height="32.00" fill="#d8207a"/><line x1="73.93" y1="157.00" x2="73.93" y2="198.00" stroke="#86d8e2" stroke-width="1.0" opacity="0.62"/><rect x="72.33" y="166.60" width="3.2" height="28.40" fill="#86d8e2"/><line x1="78.20" y1="153.00" x2="78.20" y2="173.00" stroke="#86d8e2" stroke-width="1.0" opacity="0.62"/><rect x="76.61" y="161.60" width="3.2" height="6.40" fill="#86d8e2"/><line x1="82.48" y1="158.00" x2="82.48" y2="197.00" stroke="#d8207a" stroke-width="1.0" opacity="0.62"/><rect x="80.88" y="161.60" width="3.2" height="33.40" fill="#d8207a"/><line x1="86.75" y1="186.00" x2="86.75" y2="202.00" stroke="#d8207a" stroke-width="1.0" opacity="0.62"/><rect x="85.15" y="192.50" width="3.2" height="5.80" fill="#d8207a"/><line x1="91.02" y1="197.00" x2="91.02" y2="228.00" stroke="#d8207a" stroke-width="1.0" opacity="0.62"/><rect x="89.42" y="201.50" width="3.2" height="21.50" fill="#d8207a"/><line x1="95.30" y1="203.00" x2="95.30" y2="233.00" stroke="#c8c8d8" stroke-width="1.0" opacity="0.62"/><rect x="93.70" y="219.50" width="3.2" height="1.00" fill="#c8c8d8"/><line x1="99.57" y1="216.50" x2="99.57" y2="240.00" stroke="#d8207a" stroke-width="1.0" opacity="0.62"/><rect x="97.97" y="220.00" width="3.2" height="16.50" fill="#d8207a"/><line x1="103.84" y1="230.00" x2="103.84" y2="255.00" stroke="#d8207a" stroke-width="1.0" opacity="0.62"/><rect x="102.24" y="236.50" width="3.2" height="8.50" fill="#d8207a"/><line x1="108.11" y1="225.00" x2="108.11" y2="250.00" stroke="#86d8e2" stroke-width="1.0" opacity="0.62"/><rect x="106.51" y="231.50" width="3.2" height="13.50" fill="#86d8e2"/><line x1="112.38" y1="226.50" x2="112.38" y2="240.00" stroke="#d8207a" stroke-width="1.0" opacity="0.62"/><rect x="110.78" y="231.50" width="3.2" height="6.50" fill="#d8207a"/><line x1="116.66" y1="193.00" x2="116.66" y2="240.00" stroke="#86d8e2" stroke-width="1.0" opacity="0.62"/><rect x="115.06" y="205.00" width="3.2" height="33.00" fill="#86d8e2"/><line x1="120.93" y1="187.00" x2="120.93" y2="219.00" stroke="#86d8e2" stroke-width="1.0" opacity="0.62"/><rect x="119.33" y="201.60" width="3.2" height="5.00" fill="#86d8e2"/><line x1="125.20" y1="188.00" x2="125.20" y2="219.00" stroke="#d8207a" stroke-width="1.0" opacity="0.62"/><rect x="123.60" y="201.60" width="3.2" height="16.70" fill="#d8207a"/><line x1="129.48" y1="200.00" x2="129.48" y2="226.60" stroke="#86d8e2" stroke-width="1.0" opacity="0.62"/><rect x="127.88" y="204.00" width="3.2" height="14.30" fill="#86d8e2"/><line x1="133.75" y1="196.50" x2="133.75" y2="210.00" stroke="#86d8e2" stroke-width="1.0" opacity="0.62"/><rect x="132.15" y="201.50" width="3.2" height="3.50" fill="#86d8e2"/><line x1="138.02" y1="173.00" x2="138.02" y2="203.00" stroke="#86d8e2" stroke-width="1.0" opacity="0.62"/><rect x="136.42" y="183.00" width="3.2" height="18.50" fill="#86d8e2"/><line x1="142.29" y1="181.50" x2="142.29" y2="213.00" stroke="#d8207a" stroke-width="1.0" opacity="0.62"/><rect x="140.69" y="183.00" width="3.2" height="25.00" fill="#d8207a"/><line x1="146.56" y1="205.00" x2="146.56" y2="221.60" stroke="#d8207a" stroke-width="1.0" opacity="0.62"/><rect x="144.97" y="208.30" width="3.2" height="4.90" fill="#d8207a"/><line x1="150.84" y1="206.50" x2="150.84" y2="216.50" stroke="#86d8e2" stroke-width="1.0" opacity="0.62"/><rect x="149.24" y="210.00" width="3.2" height="4.00" fill="#86d8e2"/><line x1="155.11" y1="186.50" x2="155.11" y2="205.00" stroke="#86d8e2" stroke-width="1.0" opacity="0.62"/><rect x="153.51" y="190.00" width="3.2" height="11.50" fill="#86d8e2"/><line x1="159.38" y1="175.00" x2="159.38" y2="191.50" stroke="#86d8e2" stroke-width="1.0" opacity="0.62"/><rect x="157.78" y="181.50" width="3.2" height="8.50" fill="#86d8e2"/><line x1="163.66" y1="170.00" x2="163.66" y2="186.50" stroke="#c8c8d8" stroke-width="1.0" opacity="0.62"/><rect x="162.06" y="181.00" width="3.2" height="1.00" fill="#c8c8d8"/><line x1="167.93" y1="176.50" x2="167.93" y2="192.00" stroke="#d8207a" stroke-width="1.0" opacity="0.62"/><rect x="166.33" y="181.00" width="3.2" height="7.00" fill="#d8207a"/><line x1="172.20" y1="178.00" x2="172.20" y2="196.50" stroke="#d8207a" stroke-width="1.0" opacity="0.62"/><rect x="170.60" y="181.50" width="3.2" height="10.00" fill="#d8207a"/><line x1="176.47" y1="190.00" x2="176.47" y2="203.00" stroke="#d8207a" stroke-width="1.0" opacity="0.62"/><rect x="174.87" y="191.50" width="3.2" height="10.00" fill="#d8207a"/><line x1="180.75" y1="196.50" x2="180.75" y2="213.00" stroke="#d8207a" stroke-width="1.0" opacity="0.62"/><rect x="179.15" y="201.50" width="3.2" height="8.50" fill="#d8207a"/><line x1="185.02" y1="199.00" x2="185.02" y2="229.00" stroke="#86d8e2" stroke-width="1.0" opacity="0.62"/><rect x="183.42" y="200.80" width="3.2" height="9.90" fill="#86d8e2"/><line x1="189.29" y1="171.50" x2="189.29" y2="205.00" stroke="#86d8e2" stroke-width="1.0" opacity="0.62"/><rect x="187.69" y="175.00" width="3.2" height="28.00" fill="#86d8e2"/><line x1="193.56" y1="143.00" x2="193.56" y2="178.00" stroke="#86d8e2" stroke-width="1.0" opacity="0.62"/><rect x="191.96" y="148.00" width="3.2" height="28.50" fill="#86d8e2"/><line x1="197.84" y1="141.50" x2="197.84" y2="160.00" stroke="#86d8e2" stroke-width="1.0" opacity="0.62"/><rect x="196.24" y="146.60" width="3.2" height="6.40" fill="#86d8e2"/><line x1="202.11" y1="121.60" x2="202.11" y2="155.00" stroke="#86d8e2" stroke-width="1.0" opacity="0.62"/><rect x="200.51" y="130.00" width="3.2" height="23.00" fill="#86d8e2"/><line x1="206.38" y1="101.60" x2="206.38" y2="133.00" stroke="#86d8e2" stroke-width="1.0" opacity="0.62"/><rect x="204.78" y="108.00" width="3.2" height="23.60" fill="#86d8e2"/><line x1="210.65" y1="103.00" x2="210.65" y2="136.50" stroke="#d8207a" stroke-width="1.0" opacity="0.62"/><rect x="209.05" y="108.00" width="3.2" height="22.00" fill="#d8207a"/><line x1="214.93" y1="111.60" x2="214.93" y2="145.00" stroke="#d8207a" stroke-width="1.0" opacity="0.62"/><rect x="213.33" y="120.00" width="3.2" height="8.00" fill="#d8207a"/><line x1="219.20" y1="111.60" x2="219.20" y2="136.50" stroke="#d8207a" stroke-width="1.0" opacity="0.62"/><rect x="217.60" y="120.00" width="3.2" height="15.00" fill="#d8207a"/><line x1="223.47" y1="130.00" x2="223.47" y2="151.50" stroke="#d8207a" stroke-width="1.0" opacity="0.62"/><rect x="221.87" y="133.00" width="3.2" height="17.00" fill="#d8207a"/><line x1="227.74" y1="145.00" x2="227.74" y2="163.00" stroke="#d8207a" stroke-width="1.0" opacity="0.62"/><rect x="226.14" y="148.00" width="3.2" height="12.00" fill="#d8207a"/><line x1="232.02" y1="150.00" x2="232.02" y2="168.00" stroke="#86d8e2" stroke-width="1.0" opacity="0.62"/><rect x="230.42" y="160.00" width="3.2" height="3.00" fill="#86d8e2"/><line x1="236.29" y1="153.00" x2="236.29" y2="168.00" stroke="#d8207a" stroke-width="1.0" opacity="0.62"/><rect x="234.69" y="160.00" width="3.2" height="5.00" fill="#d8207a"/><line x1="240.56" y1="160.00" x2="240.56" y2="168.00" stroke="#c8c8d8" stroke-width="1.0" opacity="0.62"/><rect x="238.96" y="164.50" width="3.2" height="2.00" fill="#c8c8d8"/><line x1="244.83" y1="161.50" x2="244.83" y2="176.50" stroke="#d8207a" stroke-width="1.0" opacity="0.62"/><rect x="243.23" y="166.50" width="3.2" height="6.50" fill="#d8207a"/><line x1="249.11" y1="166.50" x2="249.11" y2="181.50" stroke="#d8207a" stroke-width="1.0" opacity="0.62"/><rect x="247.51" y="170.00" width="3.2" height="6.50" fill="#d8207a"/><line x1="253.38" y1="168.00" x2="253.38" y2="193.00" stroke="#d8207a" stroke-width="1.0" opacity="0.62"/><rect x="251.78" y="173.00" width="3.2" height="17.00" fill="#d8207a"/><line x1="257.65" y1="166.40" x2="257.65" y2="191.40" stroke="#86d8e2" stroke-width="1.0" opacity="0.62"/><rect x="256.05" y="169.70" width="3.2" height="20.30" fill="#86d8e2"/><line x1="261.92" y1="164.70" x2="261.92" y2="179.70" stroke="#d8207a" stroke-width="1.0" opacity="0.62"/><rect x="260.32" y="169.70" width="3.2" height="8.30" fill="#d8207a"/><line x1="266.19" y1="173.00" x2="266.19" y2="183.00" stroke="#d8207a" stroke-width="1.0" opacity="0.62"/><rect x="264.59" y="178.00" width="3.2" height="3.40" fill="#d8207a"/><line x1="270.47" y1="174.70" x2="270.47" y2="188.00" stroke="#d8207a" stroke-width="1.0" opacity="0.62"/><rect x="268.87" y="178.00" width="3.2" height="6.70" fill="#d8207a"/><line x1="274.74" y1="158.00" x2="274.74" y2="190.00" stroke="#86d8e2" stroke-width="1.0" opacity="0.62"/><rect x="273.14" y="161.40" width="3.2" height="23.30" fill="#86d8e2"/><line x1="279.01" y1="160.00" x2="279.01" y2="196.00" stroke="#d8207a" stroke-width="1.0" opacity="0.62"/><rect x="277.41" y="161.40" width="3.2" height="25.00" fill="#d8207a"/><line x1="283.29" y1="173.00" x2="283.29" y2="189.70" stroke="#86d8e2" stroke-width="1.0" opacity="0.62"/><rect x="281.69" y="176.40" width="3.2" height="10.00" fill="#86d8e2"/><line x1="287.56" y1="168.00" x2="287.56" y2="179.70" stroke="#86d8e2" stroke-width="1.0" opacity="0.62"/><rect x="285.96" y="171.40" width="3.2" height="6.60" fill="#86d8e2"/><line x1="291.83" y1="163.00" x2="291.83" y2="186.40" stroke="#86d8e2" stroke-width="1.0" opacity="0.62"/><rect x="290.23" y="166.40" width="3.2" height="5.00" fill="#86d8e2"/><line x1="296.10" y1="163.00" x2="296.10" y2="176.40" stroke="#d8207a" stroke-width="1.0" opacity="0.62"/><rect x="294.50" y="168.50" width="3.2" height="3.00" fill="#d8207a"/><line x1="300.38" y1="138.00" x2="300.38" y2="173.00" stroke="#86d8e2" stroke-width="1.0" opacity="0.62"/><rect x="298.77" y="144.80" width="3.2" height="26.60" fill="#86d8e2"/><line x1="304.65" y1="136.50" x2="304.65" y2="174.70" stroke="#d8207a" stroke-width="1.0" opacity="0.62"/><rect x="303.05" y="144.80" width="3.2" height="28.20" fill="#d8207a"/><line x1="308.92" y1="153.00" x2="308.92" y2="176.40" stroke="#86d8e2" stroke-width="1.0" opacity="0.62"/><rect x="307.32" y="156.40" width="3.2" height="16.60" fill="#86d8e2"/><line x1="313.19" y1="136.50" x2="313.19" y2="159.80" stroke="#86d8e2" stroke-width="1.0" opacity="0.62"/><rect x="311.59" y="139.80" width="3.2" height="18.20" fill="#86d8e2"/><line x1="317.47" y1="133.00" x2="317.47" y2="141.50" stroke="#86d8e2" stroke-width="1.0" opacity="0.62"/><rect x="315.87" y="136.50" width="3.2" height="3.30" fill="#86d8e2"/><line x1="321.74" y1="129.80" x2="321.74" y2="139.80" stroke="#86d8e2" stroke-width="1.0" opacity="0.62"/><rect x="320.14" y="134.80" width="3.2" height="3.20" fill="#86d8e2"/><line x1="326.01" y1="128.00" x2="326.01" y2="138.00" stroke="#86d8e2" stroke-width="1.0" opacity="0.62"/><rect x="324.41" y="133.00" width="3.2" height="3.50" fill="#86d8e2"/><line x1="330.28" y1="126.50" x2="330.28" y2="138.00" stroke="#86d8e2" stroke-width="1.0" opacity="0.62"/><rect x="328.68" y="131.00" width="3.2" height="2.00" fill="#86d8e2"/><line x1="334.56" y1="131.50" x2="334.56" y2="141.50" stroke="#d8207a" stroke-width="1.0" opacity="0.62"/><rect x="332.95" y="134.80" width="3.2" height="5.00" fill="#d8207a"/><line x1="338.83" y1="118.00" x2="338.83" y2="139.80" stroke="#86d8e2" stroke-width="1.0" opacity="0.62"/><rect x="337.23" y="121.50" width="3.2" height="16.50" fill="#86d8e2"/><line x1="343.10" y1="111.50" x2="343.10" y2="123.00" stroke="#86d8e2" stroke-width="1.0" opacity="0.62"/><rect x="341.50" y="116.50" width="3.2" height="5.00" fill="#86d8e2"/><line x1="347.37" y1="93.00" x2="347.37" y2="118.00" stroke="#86d8e2" stroke-width="1.0" opacity="0.62"/><rect x="345.77" y="96.50" width="3.2" height="20.00" fill="#86d8e2"/><line x1="351.64" y1="93.00" x2="351.64" y2="111.50" stroke="#d8207a" stroke-width="1.0" opacity="0.62"/><rect x="350.04" y="96.50" width="3.2" height="13.50" fill="#d8207a"/><line x1="355.92" y1="81.60" x2="355.92" y2="111.50" stroke="#86d8e2" stroke-width="1.0" opacity="0.62"/><rect x="354.32" y="88.00" width="3.2" height="22.00" fill="#86d8e2"/><line x1="360.19" y1="79.00" x2="360.19" y2="93.70" stroke="#d8207a" stroke-width="1.0" opacity="0.62"/><rect x="358.59" y="86.00" width="3.2" height="2.00" fill="#d8207a"/><line x1="364.46" y1="60.00" x2="364.46" y2="91.60" stroke="#86d8e2" stroke-width="1.0" opacity="0.62"/><rect x="362.86" y="65.00" width="3.2" height="25.00" fill="#86d8e2"/><line x1="368.74" y1="58.30" x2="368.74" y2="70.80" stroke="#d8207a" stroke-width="1.0" opacity="0.62"/><rect x="367.13" y="64.00" width="3.2" height="2.00" fill="#d8207a"/><line x1="373.01" y1="53.00" x2="373.01" y2="78.00" stroke="#86d8e2" stroke-width="1.0" opacity="0.62"/><rect x="371.41" y="58.30" width="3.2" height="8.20" fill="#86d8e2"/><line x1="377.28" y1="25.00" x2="377.28" y2="60.00" stroke="#86d8e2" stroke-width="1.0" opacity="0.62"/><rect x="375.68" y="28.30" width="3.2" height="28.30" fill="#86d8e2"/><line x1="381.55" y1="26.00" x2="381.55" y2="45.00" stroke="#d8207a" stroke-width="1.0" opacity="0.62"/><rect x="379.95" y="28.20" width="3.2" height="16.00" fill="#d8207a"/><line x1="385.82" y1="33.30" x2="385.82" y2="49.30" stroke="#86d8e2" stroke-width="1.0" opacity="0.62"/><rect x="384.22" y="36.20" width="3.2" height="7.30" fill="#86d8e2"/><line x1="390.10" y1="25.00" x2="390.10" y2="41.60" stroke="#d8207a" stroke-width="1.0" opacity="0.62"/><rect x="388.50" y="35.00" width="3.2" height="5.00" fill="#d8207a"/><line x1="394.37" y1="31.60" x2="394.37" y2="58.00" stroke="#d8207a" stroke-width="1.0" opacity="0.62"/><rect x="392.77" y="38.30" width="3.2" height="14.70" fill="#d8207a"/><line x1="398.64" y1="41.60" x2="398.64" y2="58.00" stroke="#86d8e2" stroke-width="1.0" opacity="0.62"/><rect x="397.04" y="50.00" width="3.2" height="2.00" fill="#86d8e2"/><line x1="402.92" y1="30.40" x2="402.92" y2="63.00" stroke="#86d8e2" stroke-width="1.0" opacity="0.62"/><rect x="401.31" y="31.10" width="3.2" height="20.40" fill="#86d8e2"/><line x1="407.19" y1="23.30" x2="407.19" y2="41.60" stroke="#86d8e2" stroke-width="1.0" opacity="0.62"/><rect x="405.59" y="29.00" width="3.2" height="2.60" fill="#86d8e2"/><line x1="411.46" y1="18.30" x2="411.46" y2="33.00" stroke="#86d8e2" stroke-width="1.0" opacity="0.62"/><rect x="409.86" y="26.60" width="3.2" height="5.00" fill="#86d8e2"/><line x1="415.73" y1="26.60" x2="415.73" y2="35.00" stroke="#d8207a" stroke-width="1.0" opacity="0.62"/><rect x="414.13" y="28.30" width="3.2" height="4.70" fill="#d8207a"/><line x1="420.00" y1="28.30" x2="420.00" y2="38.30" stroke="#d8207a" stroke-width="1.0" opacity="0.62"/><rect x="418.40" y="31.60" width="3.2" height="5.00" fill="#d8207a"/><line x1="424.28" y1="31.60" x2="424.28" y2="41.60" stroke="#d8207a" stroke-width="1.0" opacity="0.62"/><rect x="422.68" y="35.00" width="3.2" height="3.30" fill="#d8207a"/><line x1="428.55" y1="35.00" x2="428.55" y2="41.60" stroke="#86d8e2" stroke-width="1.0" opacity="0.62"/><rect x="426.95" y="37.80" width="3.2" height="1.40" fill="#86d8e2"/><line x1="432.82" y1="51.60" x2="432.82" y2="65.00" stroke="#d8207a" stroke-width="1.0" opacity="0.62"/><rect x="431.22" y="53.00" width="3.2" height="8.60" fill="#d8207a"/><line x1="437.10" y1="55.00" x2="437.10" y2="70.00" stroke="#d8207a" stroke-width="1.0" opacity="0.62"/><rect x="435.50" y="60.00" width="3.2" height="8.00" fill="#d8207a"/><line x1="441.37" y1="58.30" x2="441.37" y2="71.50" stroke="#86d8e2" stroke-width="1.0" opacity="0.62"/><rect x="439.77" y="61.60" width="3.2" height="6.40" fill="#86d8e2"/><line x1="445.64" y1="56.60" x2="445.64" y2="66.00" stroke="#d8207a" stroke-width="1.0" opacity="0.62"/><rect x="444.04" y="59.50" width="3.2" height="5.10" fill="#d8207a"/><line x1="449.91" y1="50.00" x2="449.91" y2="65.00" stroke="#86d8e2" stroke-width="1.0" opacity="0.62"/><rect x="448.31" y="53.00" width="3.2" height="10.00" fill="#86d8e2"/><line x1="454.19" y1="45.00" x2="454.19" y2="55.00" stroke="#86d8e2" stroke-width="1.0" opacity="0.62"/><rect x="452.58" y="46.60" width="3.2" height="6.40" fill="#86d8e2"/><line x1="458.46" y1="45.00" x2="458.46" y2="65.00" stroke="#d8207a" stroke-width="1.0" opacity="0.62"/><rect x="456.86" y="46.60" width="3.2" height="16.40" fill="#d8207a"/><line x1="462.73" y1="60.00" x2="462.73" y2="71.60" stroke="#d8207a" stroke-width="1.0" opacity="0.62"/><rect x="461.13" y="61.60" width="3.2" height="8.40" fill="#d8207a"/><line x1="467.00" y1="65.00" x2="467.00" y2="80.00" stroke="#d8207a" stroke-width="1.0" opacity="0.62"/><rect x="465.40" y="66.50" width="3.2" height="11.50" fill="#d8207a"/><line x1="471.28" y1="72.00" x2="471.28" y2="92.60" stroke="#d8207a" stroke-width="1.0" opacity="0.62"/><rect x="469.68" y="75.90" width="3.2" height="11.60" fill="#d8207a"/><line x1="475.55" y1="76.50" x2="475.55" y2="98.00" stroke="#86d8e2" stroke-width="1.0" opacity="0.62"/><rect x="473.95" y="81.50" width="3.2" height="5.00" fill="#86d8e2"/><line x1="479.82" y1="69.30" x2="479.82" y2="82.40" stroke="#86d8e2" stroke-width="1.0" opacity="0.62"/><rect x="478.22" y="74.50" width="3.2" height="1.00" fill="#86d8e2"/><line x1="484.09" y1="70.00" x2="484.09" y2="83.30" stroke="#86d8e2" stroke-width="1.0" opacity="0.62"/><rect x="482.49" y="73.00" width="3.2" height="8.50" fill="#86d8e2"/><line x1="488.37" y1="65.00" x2="488.37" y2="88.00" stroke="#d8207a" stroke-width="1.0" opacity="0.62"/><rect x="486.76" y="73.00" width="3.2" height="2.50" fill="#d8207a"/><line x1="492.64" y1="72.00" x2="492.64" y2="91.00" stroke="#d8207a" stroke-width="1.0" opacity="0.62"/><rect x="491.04" y="73.00" width="3.2" height="16.70" fill="#d8207a"/><line x1="496.91" y1="78.00" x2="496.91" y2="93.00" stroke="#86d8e2" stroke-width="1.0" opacity="0.62"/><rect x="495.31" y="83.30" width="3.2" height="6.70" fill="#86d8e2"/><line x1="501.18" y1="78.00" x2="501.18" y2="103.00" stroke="#d8207a" stroke-width="1.0" opacity="0.62"/><rect x="499.58" y="81.60" width="3.2" height="18.40" fill="#d8207a"/><line x1="505.45" y1="96.60" x2="505.45" y2="113.00" stroke="#d8207a" stroke-width="1.0" opacity="0.62"/><rect x="503.85" y="100.00" width="3.2" height="11.50" fill="#d8207a"/><line x1="509.73" y1="98.00" x2="509.73" y2="113.00" stroke="#86d8e2" stroke-width="1.0" opacity="0.62"/><rect x="508.13" y="101.50" width="3.2" height="10.00" fill="#86d8e2"/><line x1="514.00" y1="100.00" x2="514.00" y2="110.00" stroke="#d8207a" stroke-width="1.0" opacity="0.62"/><rect x="512.40" y="103.00" width="3.2" height="5.00" fill="#d8207a"/><line x1="518.27" y1="105.00" x2="518.27" y2="115.00" stroke="#d8207a" stroke-width="1.0" opacity="0.62"/><rect x="516.67" y="106.50" width="3.2" height="5.00" fill="#d8207a"/><line x1="522.54" y1="106.50" x2="522.54" y2="116.50" stroke="#d8207a" stroke-width="1.0" opacity="0.62"/><rect x="520.94" y="110.50" width="3.2" height="1.50" fill="#d8207a"/><line x1="526.82" y1="110.00" x2="526.82" y2="128.00" stroke="#d8207a" stroke-width="1.0" opacity="0.62"/><rect x="525.22" y="111.50" width="3.2" height="15.00" fill="#d8207a"/><line x1="531.09" y1="110.00" x2="531.09" y2="126.50" stroke="#86d8e2" stroke-width="1.0" opacity="0.62"/><rect x="529.49" y="113.00" width="3.2" height="12.00" fill="#86d8e2"/><line x1="535.36" y1="113.00" x2="535.36" y2="118.00" stroke="#d8207a" stroke-width="1.0" opacity="0.62"/><rect x="533.76" y="114.30" width="3.2" height="1.40" fill="#d8207a"/><line x1="539.63" y1="113.00" x2="539.63" y2="128.00" stroke="#d8207a" stroke-width="1.0" opacity="0.62"/><rect x="538.03" y="115.00" width="3.2" height="10.00" fill="#d8207a"/><line x1="543.91" y1="120.00" x2="543.91" y2="131.50" stroke="#d8207a" stroke-width="1.0" opacity="0.62"/><rect x="542.31" y="123.00" width="3.2" height="7.00" fill="#d8207a"/><line x1="548.18" y1="125.00" x2="548.18" y2="146.50" stroke="#d8207a" stroke-width="1.0" opacity="0.62"/><rect x="546.58" y="128.00" width="3.2" height="15.00" fill="#d8207a"/><line x1="552.45" y1="115.00" x2="552.45" y2="143.00" stroke="#86d8e2" stroke-width="1.0" opacity="0.62"/><rect x="550.85" y="116.50" width="3.2" height="25.00" fill="#86d8e2"/><line x1="556.72" y1="110.00" x2="556.72" y2="130.00" stroke="#d8207a" stroke-width="1.0" opacity="0.62"/><rect x="555.12" y="115.00" width="3.2" height="13.00" fill="#d8207a"/><line x1="561.00" y1="101.60" x2="561.00" y2="128.00" stroke="#86d8e2" stroke-width="1.0" opacity="0.62"/><rect x="559.40" y="115.00" width="3.2" height="11.50" fill="#86d8e2"/><line x1="565.27" y1="110.00" x2="565.27" y2="126.50" stroke="#d8207a" stroke-width="1.0" opacity="0.62"/><rect x="563.67" y="115.00" width="3.2" height="10.00" fill="#d8207a"/><line x1="569.54" y1="121.50" x2="569.54" y2="133.00" stroke="#d8207a" stroke-width="1.0" opacity="0.62"/><rect x="567.94" y="123.00" width="3.2" height="8.50" fill="#d8207a"/><line x1="573.81" y1="125.00" x2="573.81" y2="146.50" stroke="#d8207a" stroke-width="1.0" opacity="0.62"/><rect x="572.21" y="128.00" width="3.2" height="17.00" fill="#d8207a"/><line x1="578.09" y1="140.00" x2="578.09" y2="194.00" stroke="#d8207a" stroke-width="1.0" opacity="0.62"/><rect x="576.49" y="143.00" width="3.2" height="48.00" fill="#d8207a"/><line x1="582.36" y1="183.00" x2="582.36" y2="215.00" stroke="#d8207a" stroke-width="1.0" opacity="0.62"/><rect x="580.76" y="190.00" width="3.2" height="18.00" fill="#d8207a"/><line x1="586.63" y1="182.50" x2="586.63" y2="210.00" stroke="#86d8e2" stroke-width="1.0" opacity="0.62"/><rect x="585.03" y="190.00" width="3.2" height="18.00" fill="#86d8e2"/><line x1="590.90" y1="183.00" x2="590.90" y2="201.60" stroke="#86d8e2" stroke-width="1.0" opacity="0.62"/><rect x="589.30" y="188.50" width="3.2" height="1.50" fill="#86d8e2"/><line x1="595.18" y1="185.00" x2="595.18" y2="203.00" stroke="#d8207a" stroke-width="1.0" opacity="0.62"/><rect x="593.58" y="188.00" width="3.2" height="13.50" fill="#d8207a"/><line x1="599.45" y1="196.50" x2="599.45" y2="233.00" stroke="#d8207a" stroke-width="1.0" opacity="0.62"/><rect x="597.85" y="198.00" width="3.2" height="33.50" fill="#d8207a"/><line x1="603.72" y1="228.00" x2="603.72" y2="233.00" stroke="#d8207a" stroke-width="1.0" opacity="0.62"/><rect x="602.12" y="230.50" width="3.2" height="1.00" fill="#d8207a"/><line x1="608.00" y1="221.50" x2="608.00" y2="233.00" stroke="#86d8e2" stroke-width="1.0" opacity="0.62"/><rect x="606.39" y="223.00" width="3.2" height="8.50" fill="#86d8e2"/><line x1="612.27" y1="238.00" x2="612.27" y2="257.00" stroke="#d8207a" stroke-width="1.0" opacity="0.62"/><rect x="610.67" y="240.60" width="3.2" height="14.40" fill="#d8207a"/><line x1="616.54" y1="250.00" x2="616.54" y2="263.00" stroke="#d8207a" stroke-width="1.0" opacity="0.62"/><rect x="614.94" y="253.00" width="3.2" height="7.00" fill="#d8207a"/><line x1="620.81" y1="256.50" x2="620.81" y2="275.00" stroke="#d8207a" stroke-width="1.0" opacity="0.62"/><rect x="619.21" y="260.00" width="3.2" height="13.00" fill="#d8207a"/><line x1="625.08" y1="265.00" x2="625.08" y2="276.00" stroke="#d8207a" stroke-width="1.0" opacity="0.62"/><rect x="623.48" y="268.00" width="3.2" height="5.00" fill="#d8207a"/><line x1="629.36" y1="256.50" x2="629.36" y2="275.00" stroke="#86d8e2" stroke-width="1.0" opacity="0.62"/><rect x="627.76" y="260.00" width="3.2" height="13.00" fill="#86d8e2"/><line x1="633.63" y1="253.00" x2="633.63" y2="270.00" stroke="#86d8e2" stroke-width="1.0" opacity="0.62"/><rect x="632.03" y="256.50" width="3.2" height="3.50" fill="#86d8e2"/><line x1="637.90" y1="243.00" x2="637.90" y2="263.00" stroke="#86d8e2" stroke-width="1.0" opacity="0.62"/><rect x="636.30" y="245.00" width="3.2" height="11.50" fill="#86d8e2"/><line x1="642.17" y1="230.00" x2="642.17" y2="250.00" stroke="#86d8e2" stroke-width="1.0" opacity="0.62"/><rect x="640.57" y="233.00" width="3.2" height="13.50" fill="#86d8e2"/><line x1="646.45" y1="231.50" x2="646.45" y2="255.00" stroke="#d8207a" stroke-width="1.0" opacity="0.62"/><rect x="644.85" y="233.70" width="3.2" height="20.60" fill="#d8207a"/><line x1="650.72" y1="230.00" x2="650.72" y2="268.60" stroke="#c8c8d8" stroke-width="1.0" opacity="0.62"/><rect x="649.12" y="249.30" width="3.2" height="1.90" fill="#c8c8d8"/><line x1="654.99" y1="232.50" x2="654.99" y2="248.70" stroke="#d8207a" stroke-width="1.0" opacity="0.62"/><rect x="653.39" y="240.00" width="3.2" height="0.80" fill="#d8207a"/><line x1="659.26" y1="243.00" x2="659.26" y2="258.00" stroke="#d8207a" stroke-width="1.0" opacity="0.62"/><rect x="657.66" y="250.00" width="3.2" height="5.00" fill="#d8207a"/><line x1="663.54" y1="250.00" x2="663.54" y2="268.00" stroke="#d8207a" stroke-width="1.0" opacity="0.62"/><rect x="661.94" y="253.00" width="3.2" height="10.00" fill="#d8207a"/><line x1="667.81" y1="256.50" x2="667.81" y2="271.50" stroke="#d8207a" stroke-width="1.0" opacity="0.62"/><rect x="666.21" y="258.00" width="3.2" height="12.00" fill="#d8207a"/><line x1="672.08" y1="253.00" x2="672.08" y2="271.50" stroke="#86d8e2" stroke-width="1.0" opacity="0.62"/><rect x="670.48" y="256.50" width="3.2" height="13.50" fill="#86d8e2"/><line x1="676.35" y1="251.50" x2="676.35" y2="260.00" stroke="#86d8e2" stroke-width="1.0" opacity="0.62"/><rect x="674.75" y="253.00" width="3.2" height="5.00" fill="#86d8e2"/><line x1="680.63" y1="250.00" x2="680.63" y2="256.50" stroke="#d8207a" stroke-width="1.0" opacity="0.62"/><rect x="679.03" y="252.40" width="3.2" height="2.60" fill="#d8207a"/><line x1="684.90" y1="248.00" x2="684.90" y2="255.00" stroke="#86d8e2" stroke-width="1.0" opacity="0.62"/><rect x="683.30" y="250.00" width="3.2" height="3.00" fill="#86d8e2"/><line x1="689.17" y1="248.00" x2="689.17" y2="255.00" stroke="#d8207a" stroke-width="1.0" opacity="0.62"/><rect x="687.57" y="250.00" width="3.2" height="3.00" fill="#d8207a"/><line x1="693.44" y1="249.50" x2="693.44" y2="254.00" stroke="#c8c8d8" stroke-width="1.0" opacity="0.62"/><rect x="691.84" y="251.00" width="3.2" height="1.00" fill="#c8c8d8"/><line x1="697.72" y1="248.00" x2="697.72" y2="255.00" stroke="#86d8e2" stroke-width="1.0" opacity="0.62"/><rect x="696.12" y="250.00" width="3.2" height="3.00" fill="#86d8e2"/><line x1="701.99" y1="240.00" x2="701.99" y2="250.00" stroke="#d8207a" stroke-width="1.0" opacity="0.62"/><rect x="700.39" y="241.50" width="3.2" height="6.50" fill="#d8207a"/><line x1="706.26" y1="243.00" x2="706.26" y2="253.00" stroke="#d8207a" stroke-width="1.0" opacity="0.62"/><rect x="704.66" y="246.50" width="3.2" height="3.50" fill="#d8207a"/><line x1="710.53" y1="245.00" x2="710.53" y2="256.50" stroke="#d8207a" stroke-width="1.0" opacity="0.62"/><rect x="708.93" y="248.00" width="3.2" height="5.00" fill="#d8207a"/><line x1="714.81" y1="248.00" x2="714.81" y2="268.00" stroke="#d8207a" stroke-width="1.0" opacity="0.62"/><rect x="713.21" y="253.80" width="3.2" height="9.40" fill="#d8207a"/><line x1="719.08" y1="246.50" x2="719.08" y2="265.00" stroke="#86d8e2" stroke-width="1.0" opacity="0.62"/><rect x="717.48" y="250.00" width="3.2" height="13.00" fill="#86d8e2"/><line x1="723.35" y1="243.00" x2="723.35" y2="262.00" stroke="#d8207a" stroke-width="1.0" opacity="0.62"/><rect x="721.75" y="248.60" width="3.2" height="11.40" fill="#d8207a"/><line x1="727.62" y1="240.00" x2="727.62" y2="261.50" stroke="#86d8e2" stroke-width="1.0" opacity="0.62"/><rect x="726.02" y="243.00" width="3.2" height="17.00" fill="#86d8e2"/><line x1="731.90" y1="238.00" x2="731.90" y2="255.00" stroke="#d8207a" stroke-width="1.0" opacity="0.62"/><rect x="730.30" y="241.50" width="3.2" height="11.50" fill="#d8207a"/><line x1="736.17" y1="211.50" x2="736.17" y2="255.00" stroke="#86d8e2" stroke-width="1.0" opacity="0.62"/><rect x="734.57" y="221.50" width="3.2" height="31.50" fill="#86d8e2"/><line x1="740.44" y1="216.50" x2="740.44" y2="246.00" stroke="#d8207a" stroke-width="1.0" opacity="0.62"/><rect x="738.84" y="221.60" width="3.2" height="22.80" fill="#d8207a"/><line x1="744.71" y1="215.00" x2="744.71" y2="245.00" stroke="#86d8e2" stroke-width="1.0" opacity="0.62"/><rect x="743.11" y="219.50" width="3.2" height="23.90" fill="#86d8e2"/><line x1="748.99" y1="211.50" x2="748.99" y2="221.50" stroke="#86d8e2" stroke-width="1.0" opacity="0.62"/><rect x="747.39" y="215.00" width="3.2" height="5.00" fill="#86d8e2"/><line x1="753.26" y1="191.60" x2="753.26" y2="216.50" stroke="#86d8e2" stroke-width="1.0" opacity="0.62"/><rect x="751.66" y="206.50" width="3.2" height="8.50" fill="#86d8e2"/><line x1="757.53" y1="190.00" x2="757.53" y2="216.50" stroke="#d8207a" stroke-width="1.0" opacity="0.62"/><rect x="755.93" y="206.50" width="3.2" height="6.50" fill="#d8207a"/><line x1="761.80" y1="208.00" x2="761.80" y2="236.50" stroke="#d8207a" stroke-width="1.0" opacity="0.62"/><rect x="760.20" y="211.50" width="3.2" height="23.50" fill="#d8207a"/><line x1="766.08" y1="230.00" x2="766.08" y2="236.50" stroke="#c8c8d8" stroke-width="1.0" opacity="0.62"/><rect x="764.48" y="231.50" width="3.2" height="1.50" fill="#c8c8d8"/><line x1="770.35" y1="228.00" x2="770.35" y2="240.00" stroke="#d8207a" stroke-width="1.0" opacity="0.62"/><rect x="768.75" y="231.70" width="3.2" height="5.30" fill="#d8207a"/><line x1="774.62" y1="228.00" x2="774.62" y2="238.00" stroke="#86d8e2" stroke-width="1.0" opacity="0.62"/><rect x="773.02" y="231.70" width="3.2" height="4.30" fill="#86d8e2"/><line x1="778.89" y1="193.00" x2="778.89" y2="213.00" stroke="#86d8e2" stroke-width="1.0" opacity="0.62"/><rect x="777.29" y="195.00" width="3.2" height="16.50" fill="#86d8e2"/><line x1="783.17" y1="193.00" x2="783.17" y2="213.00" stroke="#d8207a" stroke-width="1.0" opacity="0.62"/><rect x="781.57" y="195.00" width="3.2" height="16.50" fill="#d8207a"/><line x1="787.44" y1="175.00" x2="787.44" y2="211.50" stroke="#86d8e2" stroke-width="1.0" opacity="0.62"/><rect x="785.84" y="183.00" width="3.2" height="27.00" fill="#86d8e2"/><line x1="791.71" y1="180.00" x2="791.71" y2="201.50" stroke="#d8207a" stroke-width="1.0" opacity="0.62"/><rect x="790.11" y="183.00" width="3.2" height="17.00" fill="#d8207a"/><line x1="795.98" y1="185.00" x2="795.98" y2="201.00" stroke="#86d8e2" stroke-width="1.0" opacity="0.62"/><rect x="794.38" y="188.00" width="3.2" height="11.50" fill="#86d8e2"/><line x1="800.26" y1="185.00" x2="800.26" y2="200.00" stroke="#d8207a" stroke-width="1.0" opacity="0.62"/><rect x="798.66" y="188.00" width="3.2" height="10.50" fill="#d8207a"/><line x1="804.53" y1="179.70" x2="804.53" y2="198.00" stroke="#86d8e2" stroke-width="1.0" opacity="0.62"/><rect x="802.93" y="188.00" width="3.2" height="8.40" fill="#86d8e2"/><line x1="808.80" y1="186.50" x2="808.80" y2="213.00" stroke="#d8207a" stroke-width="1.0" opacity="0.62"/><rect x="807.20" y="188.00" width="3.2" height="23.50" fill="#d8207a"/><line x1="813.07" y1="206.50" x2="813.07" y2="223.00" stroke="#c8c8d8" stroke-width="1.0" opacity="0.62"/><rect x="811.47" y="208.00" width="3.2" height="1.50" fill="#c8c8d8"/><line x1="817.35" y1="208.00" x2="817.35" y2="273.00" stroke="#d8207a" stroke-width="1.0" opacity="0.62"/><rect x="815.75" y="210.00" width="3.2" height="61.40" fill="#d8207a"/><line x1="821.62" y1="266.50" x2="821.62" y2="276.50" stroke="#d8207a" stroke-width="1.0" opacity="0.62"/><rect x="820.02" y="270.00" width="3.2" height="3.00" fill="#d8207a"/><line x1="825.89" y1="268.00" x2="825.89" y2="291.00" stroke="#d8207a" stroke-width="1.0" opacity="0.62"/><rect x="824.29" y="271.40" width="3.2" height="16.60" fill="#d8207a"/><line x1="830.16" y1="283.00" x2="830.16" y2="306.00" stroke="#86d8e2" stroke-width="1.0" opacity="0.62"/><rect x="828.56" y="285.00" width="3.2" height="3.00" fill="#86d8e2"/><line x1="834.44" y1="273.00" x2="834.44" y2="288.00" stroke="#86d8e2" stroke-width="1.0" opacity="0.62"/><rect x="832.84" y="281.40" width="3.2" height="5.00" fill="#86d8e2"/><line x1="838.71" y1="268.00" x2="838.71" y2="283.00" stroke="#86d8e2" stroke-width="1.0" opacity="0.62"/><rect x="837.11" y="271.40" width="3.2" height="10.00" fill="#86d8e2"/><line x1="842.98" y1="243.00" x2="842.98" y2="273.00" stroke="#86d8e2" stroke-width="1.0" opacity="0.62"/><rect x="841.38" y="244.80" width="3.2" height="26.60" fill="#86d8e2"/><line x1="847.25" y1="216.50" x2="847.25" y2="250.00" stroke="#86d8e2" stroke-width="1.0" opacity="0.62"/><rect x="845.65" y="218.00" width="3.2" height="28.50" fill="#86d8e2"/><line x1="851.53" y1="198.00" x2="851.53" y2="221.50" stroke="#86d8e2" stroke-width="1.0" opacity="0.62"/><rect x="849.93" y="210.00" width="3.2" height="10.00" fill="#86d8e2"/><line x1="855.80" y1="188.00" x2="855.80" y2="213.00" stroke="#86d8e2" stroke-width="1.0" opacity="0.62"/><rect x="854.20" y="191.60" width="3.2" height="19.90" fill="#86d8e2"/><line x1="860.07" y1="173.00" x2="860.07" y2="193.00" stroke="#86d8e2" stroke-width="1.0" opacity="0.62"/><rect x="858.47" y="176.60" width="3.2" height="15.00" fill="#86d8e2"/><line x1="864.34" y1="153.30" x2="864.34" y2="180.00" stroke="#86d8e2" stroke-width="1.0" opacity="0.62"/><rect x="862.74" y="156.60" width="3.2" height="21.40" fill="#86d8e2"/><line x1="868.62" y1="151.60" x2="868.62" y2="161.60" stroke="#86d8e2" stroke-width="1.0" opacity="0.62"/><rect x="867.02" y="153.30" width="3.2" height="6.70" fill="#86d8e2"/><line x1="872.89" y1="148.30" x2="872.89" y2="160.00" stroke="#d8207a" stroke-width="1.0" opacity="0.62"/><rect x="871.29" y="153.30" width="3.2" height="5.00" fill="#d8207a"/><line x1="877.16" y1="158.30" x2="877.16" y2="181.60" stroke="#d8207a" stroke-width="1.0" opacity="0.62"/><rect x="875.56" y="160.00" width="3.2" height="20.00" fill="#d8207a"/><line x1="881.43" y1="170.00" x2="881.43" y2="183.00" stroke="#86d8e2" stroke-width="1.0" opacity="0.62"/><rect x="879.83" y="171.60" width="3.2" height="10.00" fill="#86d8e2"/><line x1="885.71" y1="168.30" x2="885.71" y2="201.50" stroke="#d8207a" stroke-width="1.0" opacity="0.62"/><rect x="884.11" y="170.00" width="3.2" height="30.00" fill="#d8207a"/><line x1="889.98" y1="198.00" x2="889.98" y2="215.00" stroke="#d8207a" stroke-width="1.0" opacity="0.62"/><rect x="888.38" y="200.00" width="3.2" height="13.00" fill="#d8207a"/><line x1="894.25" y1="205.00" x2="894.25" y2="215.00" stroke="#86d8e2" stroke-width="1.0" opacity="0.62"/><rect x="892.65" y="208.00" width="3.2" height="5.00" fill="#86d8e2"/><line x1="898.52" y1="178.90" x2="898.52" y2="210.00" stroke="#86d8e2" stroke-width="1.0" opacity="0.62"/><rect x="896.92" y="181.60" width="3.2" height="27.00" fill="#86d8e2"/><line x1="902.80" y1="180.00" x2="902.80" y2="214.00" stroke="#d8207a" stroke-width="1.0" opacity="0.62"/><rect x="901.20" y="181.60" width="3.2" height="29.80" fill="#d8207a"/><line x1="907.07" y1="207.00" x2="907.07" y2="223.50" stroke="#d8207a" stroke-width="1.0" opacity="0.62"/><rect x="905.47" y="210.00" width="3.2" height="6.80" fill="#d8207a"/><line x1="911.34" y1="185.70" x2="911.34" y2="218.00" stroke="#86d8e2" stroke-width="1.0" opacity="0.62"/><rect x="909.74" y="191.00" width="3.2" height="25.80" fill="#86d8e2"/><line x1="915.61" y1="188.40" x2="915.61" y2="210.00" stroke="#d8207a" stroke-width="1.0" opacity="0.62"/><rect x="914.01" y="189.70" width="3.2" height="18.90" fill="#d8207a"/><line x1="919.89" y1="206.00" x2="919.89" y2="214.00" stroke="#d8207a" stroke-width="1.0" opacity="0.62"/><rect x="918.29" y="208.60" width="3.2" height="4.10" fill="#d8207a"/><line x1="924.16" y1="191.00" x2="924.16" y2="215.40" stroke="#86d8e2" stroke-width="1.0" opacity="0.62"/><rect x="922.56" y="200.50" width="3.2" height="13.50" fill="#86d8e2"/><line x1="928.43" y1="149.00" x2="928.43" y2="203.00" stroke="#86d8e2" stroke-width="1.0" opacity="0.62"/><rect x="926.83" y="153.00" width="3.2" height="49.00" fill="#86d8e2"/><line x1="932.70" y1="143.80" x2="932.70" y2="158.60" stroke="#d8207a" stroke-width="1.0" opacity="0.62"/><rect x="931.10" y="153.00" width="3.2" height="4.30" fill="#d8207a"/><line x1="936.98" y1="154.60" x2="936.98" y2="184.00" stroke="#d8207a" stroke-width="1.0" opacity="0.62"/><rect x="935.38" y="157.00" width="3.2" height="24.00" fill="#d8207a"/><line x1="941.25" y1="148.00" x2="941.25" y2="176.00" stroke="#86d8e2" stroke-width="1.0" opacity="0.62"/><rect x="939.65" y="168.00" width="3.2" height="7.00" fill="#86d8e2"/><line x1="945.52" y1="148.00" x2="945.52" y2="169.50" stroke="#86d8e2" stroke-width="1.0" opacity="0.62"/><rect x="943.92" y="154.60" width="3.2" height="13.40" fill="#86d8e2"/><line x1="949.79" y1="148.00" x2="949.79" y2="157.30" stroke="#86d8e2" stroke-width="1.0" opacity="0.62"/><rect x="948.19" y="152.00" width="3.2" height="2.60" fill="#86d8e2"/><line x1="954.07" y1="138.40" x2="954.07" y2="161.40" stroke="#86d8e2" stroke-width="1.0" opacity="0.62"/><rect x="952.47" y="142.40" width="3.2" height="9.60" fill="#86d8e2"/><line x1="958.34" y1="133.00" x2="958.34" y2="145.00" stroke="#86d8e2" stroke-width="1.0" opacity="0.62"/><rect x="956.74" y="138.40" width="3.2" height="5.40" fill="#86d8e2"/><line x1="962.61" y1="137.00" x2="962.61" y2="145.00" stroke="#d8207a" stroke-width="1.0" opacity="0.62"/><rect x="961.01" y="138.40" width="3.2" height="5.40" fill="#d8207a"/><line x1="966.88" y1="147.50" x2="966.88" y2="168.00" stroke="#d8207a" stroke-width="1.0" opacity="0.62"/><rect x="965.28" y="155.60" width="3.2" height="7.40" fill="#d8207a"/><line x1="971.16" y1="152.50" x2="971.16" y2="166.00" stroke="#86d8e2" stroke-width="1.0" opacity="0.62"/><rect x="969.56" y="159.40" width="3.2" height="2.20" fill="#86d8e2"/><line x1="975.43" y1="152.50" x2="975.43" y2="164.50" stroke="#86d8e2" stroke-width="1.0" opacity="0.62"/><rect x="973.83" y="159.40" width="3.2" height="1.80" fill="#86d8e2"/><line x1="979.70" y1="157.50" x2="979.70" y2="170.50" stroke="#d8207a" stroke-width="1.0" opacity="0.62"/><rect x="978.10" y="160.00" width="3.2" height="9.00" fill="#d8207a"/><line x1="983.97" y1="162.50" x2="983.97" y2="175.00" stroke="#86d8e2" stroke-width="1.0" opacity="0.62"/><rect x="982.37" y="164.00" width="3.2" height="4.50" fill="#86d8e2"/><line x1="988.25" y1="160.80" x2="988.25" y2="169.07" stroke="#d8207a" stroke-width="1.0" opacity="0.62"/><rect x="986.65" y="163.60" width="3.2" height="5.47" fill="#d8207a"/></g><polyline points="0.0,373.0 5.0,372.5 10.0,371.3 13.8,373.8 18.8,371.3 22.5,372.0 26.3,375.0 31.3,366.3 36.3,362.5 42.5,364.5 47.5,356.3 52.5,361.3 57.5,360.8 63.8,359.5 68.8,361.5 75.0,358.3 78.8,358.8 83.8,362.5 88.8,363.0 92.5,365.0 97.5,365.8 103.8,367.5 108.8,365.8 113.8,365.8 117.5,360.8 122.5,361.3 126.3,362.5 131.3,360.8 136.3,358.8 141.3,362.0 147.5,362.0 151.3,360.8 156.3,358.3 162.5,357.0 167.5,357.0 172.5,358.8 177.5,361.3 181.3,362.5 186.3,360.0 192.5,353.0 198.8,352.5 205.0,347.5 210.0,351.5 215.0,351.3 221.3,355.0 227.5,358.8 235.0,359.5 241.3,360.8 247.5,361.0 252.5,364.5 256.0,360.8 261.0,362.0 268.5,363.0 274.8,358.8 279.8,363.0 286.0,360.8 292.3,359.5 296.0,359.5 300.5,355.0 304.8,360.8 309.8,357.0 314.8,354.5 321.0,354.0 328.5,353.5 334.8,355.0 341.0,352.0 347.3,348.8 352.3,351.5 357.3,349.3 363.5,347.5 368.5,345.8 373.5,345.5 377.3,342.5 381.0,346.5 386.0,345.5 389.8,347.0 394.8,350.5 399.8,350.5 403.5,347.5 411.0,347.5 416.0,348.8 421.0,350.0 427.3,350.5 432.3,358.0 436.0,359.5 442.3,358.8 447.3,358.3 453.5,354.5 457.3,359.3 463.5,361.3 472.3,365.5 478.5,364.5 483.5,361.5 488.5,362.0 493.5,366.3 497.3,365.0 502.3,368.8 506.0,370.5 512.0,368.3 519.5,368.8 525.8,372.5 532.0,368.3 537.0,368.8 542.0,370.8 548.3,373.3 553.3,365.0 557.0,367.0 560.8,363.8 565.8,365.8 572.0,368.3 578.3,376.3 582.0,377.5 587.0,373.0 593.3,373.3 599.5,377.0 603.3,377.0 608.3,375.0 612.0,377.5 619.5,379.3 625.8,379.3 630.8,375.0 637.0,372.5 642.0,368.3 647.0,370.5 653.3,370.0 659.5,371.3 667.0,373.3 672.0,368.8 678.3,367.5 684.5,366.8 689.5,367.5 697.0,366.8 702.0,365.0 708.3,365.8 714.5,368.3 719.5,363.8 723.3,365.8 728.3,361.3 732.0,363.8 736.5,355.8 740.8,360.8 745.8,356.8 749.5,356.3 754.0,354.3 758.3,357.0 762.0,360.0 768.0,360.5 773.0,360.0 778.0,353.8 783.0,356.3 788.0,352.5 793.0,355.0 798.0,354.3 805.5,355.0 809.3,358.3 813.0,358.3 818.0,367.5 821.8,368.3 826.8,370.5 831.8,370.0 838.0,367.0 843.0,362.5 848.0,357.5 853.0,355.0 858.0,352.0 865.5,349.3 871.8,349.5 878.0,354.5 881.8,353.8 886.8,359.5 890.5,361.3 894.3,360.0 898.0,357.5 903.0,361.3 906.8,362.0 911.8,358.3 916.8,361.3 923.0,360.5 929.3,353.8 933.0,353.8 938.0,356.3 943.0,356.3 948.0,353.8 953.0,353.0 958.0,352.0 963.0,353.3 968.0,357.0 973.0,356.8 975.5,356.3 980.5,358.8 985.5,358.3 988.5,358.8" fill="none" stroke="#6cb8cc" stroke-width="1.3" stroke-linejoin="round" opacity="1"/><polyline points="0.0,434.1 1.0,434.3 2.0,434.5 3.0,434.8 4.0,435.0 5.0,435.3 6.0,435.7 7.0,436.0 8.0,436.3 9.0,436.6 10.0,437.0 11.0,437.3 12.0,437.7 13.0,438.0 14.0,438.4 15.0,438.8 16.0,439.1 17.0,439.5 18.0,439.9 19.0,440.3 20.0,440.8 21.0,441.2 22.0,441.7 23.0,442.1 24.0,442.6 25.0,443.1 26.0,443.6 27.0,444.1 28.0,444.5 29.0,444.9 30.0,445.4 31.0,445.7 32.0,446.1 33.0,446.4 34.0,446.7 35.0,447.0 36.0,447.3 37.0,447.6 38.0,447.8 39.0,448.0 40.0,448.2 41.0,448.3 42.0,448.5 43.0,448.5 44.0,448.6 45.0,448.6 46.0,448.6 47.0,448.5 48.0,448.4 49.0,448.3 50.0,448.1 51.0,447.9 52.0,447.6 53.0,447.4 54.0,447.1 55.0,446.9 56.0,446.6 57.0,446.2 58.0,445.9 59.0,445.5 60.0,445.1 61.0,444.7 62.0,444.3 63.0,443.9 64.0,443.4 65.0,443.0 66.0,442.5 67.0,442.1 68.0,441.6 69.0,441.1 70.0,440.6 71.0,440.1 72.0,439.6 73.0,439.2 74.0,438.7 75.0,438.2 76.0,437.7 77.0,437.3 78.0,436.8 79.0,436.4 80.0,436.0 81.0,435.6 82.0,435.2 83.0,434.8 84.0,434.5 85.0,434.2 86.0,433.9 87.0,433.7 88.0,433.5 89.0,433.3 90.0,433.1 91.0,433.0 92.0,432.9 93.0,432.8 94.0,432.8 95.0,432.8 96.0,432.8 97.0,432.9 98.0,433.0 99.0,433.1 100.0,433.2 101.0,433.4 102.0,433.5 103.0,433.7 104.0,433.9 105.0,434.1 106.0,434.2 107.0,434.5 108.0,434.7 109.0,434.9 110.0,435.1 111.0,435.3 112.0,435.5 113.0,435.7 114.0,435.9 115.0,436.2 116.0,436.4 117.0,436.6 118.0,436.7 119.0,436.9 120.0,437.0 121.0,437.1 122.0,437.2 123.0,437.2 124.0,437.3 125.0,437.3 126.0,437.3 127.0,437.3 128.0,437.3 129.0,437.3 130.0,437.2 131.0,437.2 132.0,437.2 133.0,437.2 134.0,437.1 135.0,437.1 136.0,437.0 137.0,436.9 138.0,436.7 139.0,436.6 140.0,436.4 141.0,436.2 142.0,435.9 143.0,435.7 144.0,435.5 145.0,435.2 146.0,435.0 147.0,434.7 148.0,434.5 149.0,434.2 150.0,433.9 151.0,433.7 152.0,433.4 153.0,433.2 154.0,432.9 155.0,432.7 156.0,432.4 157.0,432.2 158.0,431.9 159.0,431.7 160.0,431.4 161.0,431.2 162.0,430.9 163.0,430.7 164.0,430.5 165.0,430.2 166.0,430.0 167.0,429.8 168.0,429.6 169.0,429.3 170.0,429.1 171.0,428.9 172.0,428.7 173.0,428.5 174.0,428.4 175.0,428.2 176.0,428.0 177.0,427.9 178.0,427.7 179.0,427.6 180.0,427.5 181.0,427.4 182.0,427.2 183.0,427.1 184.0,427.0 185.0,426.9 186.0,426.7 187.0,426.6 188.0,426.5 189.0,426.3 190.0,426.2 191.0,426.0 192.0,425.8 193.0,425.6 194.0,425.4 195.0,425.2 196.0,425.0 197.0,424.7 198.0,424.4 199.0,424.2 200.0,423.9 201.0,423.6 202.0,423.3 203.0,423.0 204.0,422.7 205.0,422.4 206.0,422.1 207.0,421.7 208.0,421.4 209.0,421.0 210.0,420.7 211.0,420.3 212.0,420.0 213.0,419.6 214.0,419.2 215.0,418.8 216.0,418.4 217.0,418.0 218.0,417.6 219.0,417.2 220.0,416.8 221.0,416.4 222.0,416.0 223.0,415.7 224.0,415.3 225.0,415.0 226.0,414.7 227.0,414.5 228.0,414.2 229.0,414.1 230.0,413.9 231.0,413.8 232.0,413.7 233.0,413.6 234.0,413.5 235.0,413.5 236.0,413.5 237.0,413.5 238.0,413.5 239.0,413.5 240.0,413.6 241.0,413.7 242.0,413.8 243.0,414.0 244.0,414.1 245.0,414.3 246.0,414.5 247.0,414.8 248.0,415.1 249.0,415.3 250.0,415.7 251.0,416.0 252.0,416.3 253.0,416.6 254.0,416.9 255.0,417.3 256.0,417.6 257.0,417.9 258.0,418.3 259.0,418.6 260.0,418.9 261.0,419.3 262.0,419.6 263.0,419.9 264.0,420.2 265.0,420.6 266.0,420.9 267.0,421.3 268.0,421.6 269.0,421.9 270.0,422.3 271.0,422.6 272.0,422.9 273.0,423.3 274.0,423.6 275.0,423.9 276.0,424.2 277.0,424.4 278.0,424.7 279.0,424.9 280.0,425.2 281.0,425.4 282.0,425.6 283.0,425.8 284.0,426.0 285.0,426.2 286.0,426.4 287.0,426.5 288.0,426.6 289.0,426.8 290.0,426.9 291.0,427.0 292.0,427.1 293.0,427.1 294.0,427.2 295.0,427.2 296.0,427.3 297.0,427.3 298.0,427.3 299.0,427.3 300.0,427.3 301.0,427.3 302.0,427.2 303.0,427.2 304.0,427.2 305.0,427.1 306.0,427.1 307.0,427.0 308.0,427.0 309.0,426.9 310.0,426.8 311.0,426.7 312.0,426.6 313.0,426.5 314.0,426.3 315.0,426.2 316.0,426.0 317.0,425.8 318.0,425.6 319.0,425.4 320.0,425.2 321.0,425.0 322.0,424.8 323.0,424.6 324.0,424.4 325.0,424.2 326.0,423.9 327.0,423.7 328.0,423.5 329.0,423.2 330.0,423.0 331.0,422.8 332.0,422.6 333.0,422.3 334.0,422.1 335.0,421.9 336.0,421.6 337.0,421.4 338.0,421.2 339.0,421.0 340.0,420.7 341.0,420.5 342.0,420.3 343.0,420.0 344.0,419.8 345.0,419.5 346.0,419.3 347.0,419.0 348.0,418.8 349.0,418.5 350.0,418.3 351.0,418.1 352.0,417.8 353.0,417.6 354.0,417.3 355.0,417.1 356.0,416.8 357.0,416.5 358.0,416.3 359.0,416.0 360.0,415.7 361.0,415.4 362.0,415.0 363.0,414.7 364.0,414.4 365.0,414.0 366.0,413.7 367.0,413.3 368.0,412.9 369.0,412.5 370.0,412.2 371.0,411.8 372.0,411.4 373.0,410.9 374.0,410.5 375.0,410.1 376.0,409.7 377.0,409.3 378.0,408.8 379.0,408.4 380.0,408.0 381.0,407.5 382.0,407.1 383.0,406.7 384.0,406.3 385.0,405.9 386.0,405.5 387.0,405.1 388.0,404.8 389.0,404.4 390.0,404.1 391.0,403.7 392.0,403.4 393.0,403.1 394.0,402.8 395.0,402.6 396.0,402.3 397.0,402.1 398.0,401.9 399.0,401.7 400.0,401.5 401.0,401.3 402.0,401.1 403.0,400.9 404.0,400.8 405.0,400.6 406.0,400.5 407.0,400.4 408.0,400.3 409.0,400.1 410.0,400.1 411.0,400.0 412.0,400.0 413.0,399.9 414.0,400.0 415.0,400.0 416.0,400.1 417.0,400.1 418.0,400.2 419.0,400.3 420.0,400.4 421.0,400.5 422.0,400.6 423.0,400.8 424.0,400.9 425.0,401.0 426.0,401.2 427.0,401.3 428.0,401.5 429.0,401.7 430.0,401.9 431.0,402.1 432.0,402.4 433.0,402.6 434.0,402.9 435.0,403.2 436.0,403.5 437.0,403.8 438.0,404.2 439.0,404.6 440.0,405.0 441.0,405.4 442.0,405.8 443.0,406.3 444.0,406.7 445.0,407.1 446.0,407.6 447.0,408.0 448.0,408.4 449.0,408.8 450.0,409.2 451.0,409.6 452.0,409.9 453.0,410.3 454.0,410.7 455.0,411.1 456.0,411.5 457.0,411.9 458.0,412.3 459.0,412.6 460.0,413.0 461.0,413.4 462.0,413.8 463.0,414.2 464.0,414.6 465.0,414.9 466.0,415.3 467.0,415.7 468.0,416.0 469.0,416.4 470.0,416.8 471.0,417.1 472.0,417.5 473.0,417.8 474.0,418.2 475.0,418.5 476.0,418.9 477.0,419.2 478.0,419.6 479.0,419.9 480.0,420.2 481.0,420.5 482.0,420.9 483.0,421.2 484.0,421.5 485.0,421.8 486.0,422.0 487.0,422.3 488.0,422.6 489.0,422.8 490.0,423.1 491.0,423.3 492.0,423.6 493.0,423.8 494.0,424.1 495.0,424.3 496.0,424.6 497.0,424.8 498.0,425.1 499.0,425.3 500.0,425.6 501.0,425.9 502.0,426.2 503.0,426.5 504.0,426.9 505.0,427.3 506.0,427.6 507.0,428.0 508.0,428.4 509.0,428.8 510.0,429.2 511.0,429.6 512.0,429.9 513.0,430.2 514.0,430.5 515.0,430.8 516.0,431.1 517.0,431.3 518.0,431.6 519.0,431.8 520.0,432.1 521.0,432.3 522.0,432.6 523.0,432.8 524.0,433.1 525.0,433.3 526.0,433.6 527.0,433.8 528.0,434.1 529.0,434.3 530.0,434.6 531.0,434.8 532.0,435.0 533.0,435.3 534.0,435.5 535.0,435.7 536.0,435.9 537.0,436.1 538.0,436.3 539.0,436.6 540.0,436.8 541.0,437.0 542.0,437.2 543.0,437.4 544.0,437.6 545.0,437.8 546.0,438.0 547.0,438.2 548.0,438.3 549.0,438.5 550.0,438.6 551.0,438.8 552.0,438.9 553.0,439.0 554.0,439.1 555.0,439.2 556.0,439.2 557.0,439.3 558.0,439.4 559.0,439.4 560.0,439.4 561.0,439.5 562.0,439.5 563.0,439.5 564.0,439.5 565.0,439.5 566.0,439.5 567.0,439.6 568.0,439.6 569.0,439.6 570.0,439.7 571.0,439.7 572.0,439.8 573.0,439.9 574.0,440.0 575.0,440.0 576.0,440.1 577.0,440.3 578.0,440.4 579.0,440.5 580.0,440.7 581.0,440.8 582.0,441.0 583.0,441.2 584.0,441.3 585.0,441.5 586.0,441.7 587.0,441.9 588.0,442.1 589.0,442.4 590.0,442.6 591.0,442.8 592.0,443.1 593.0,443.4 594.0,443.7 595.0,444.0 596.0,444.3 597.0,444.7 598.0,445.1 599.0,445.6 600.0,446.0 601.0,446.5 602.0,447.0 603.0,447.5 604.0,448.0 605.0,448.5 606.0,449.0 607.0,449.5 608.0,450.0 609.0,450.5 610.0,451.0 611.0,451.5 612.0,452.0 613.0,452.5 614.0,452.9 615.0,453.4 616.0,453.9 617.0,454.3 618.0,454.7 619.0,455.2 620.0,455.6 621.0,456.0 622.0,456.4 623.0,456.8 624.0,457.1 625.0,457.5 626.0,457.8 627.0,458.2 628.0,458.5 629.0,458.8 630.0,459.1 631.0,459.4 632.0,459.6 633.0,459.9 634.0,460.1 635.0,460.3 636.0,460.5 637.0,460.7 638.0,460.9 639.0,461.0 640.0,461.1 641.0,461.2 642.0,461.2 643.0,461.3 644.0,461.3 645.0,461.3 646.0,461.3 647.0,461.3 648.0,461.2 649.0,461.2 650.0,461.1 651.0,460.9 652.0,460.8 653.0,460.6 654.0,460.3 655.0,460.1 656.0,459.8 657.0,459.5 658.0,459.2 659.0,459.0 660.0,458.7 661.0,458.4 662.0,458.2 663.0,457.9 664.0,457.6 665.0,457.4 666.0,457.1 667.0,456.8 668.0,456.5 669.0,456.2 670.0,455.9 671.0,455.6 672.0,455.3 673.0,455.0 674.0,454.6 675.0,454.3 676.0,454.0 677.0,453.6 678.0,453.3 679.0,453.0 680.0,452.6 681.0,452.3 682.0,452.0 683.0,451.7 684.0,451.3 685.0,451.0 686.0,450.7 687.0,450.4 688.0,450.1 689.0,449.9 690.0,449.6 691.0,449.3 692.0,449.1 693.0,448.8 694.0,448.5 695.0,448.3 696.0,448.0 697.0,447.7 698.0,447.4 699.0,447.0 700.0,446.7 701.0,446.4 702.0,446.1 703.0,445.8 704.0,445.5 705.0,445.2 706.0,444.9 707.0,444.6 708.0,444.3 709.0,444.1 710.0,443.8 711.0,443.6 712.0,443.3 713.0,443.1 714.0,442.8 715.0,442.6 716.0,442.3 717.0,442.1 718.0,441.8 719.0,441.5 720.0,441.3 721.0,441.0 722.0,440.8 723.0,440.5 724.0,440.3 725.0,440.0 726.0,439.8 727.0,439.5 728.0,439.3 729.0,439.0 730.0,438.8 731.0,438.5 732.0,438.3 733.0,438.0 734.0,437.8 735.0,437.6 736.0,437.3 737.0,437.1 738.0,436.8 739.0,436.6 740.0,436.3 741.0,436.0 742.0,435.8 743.0,435.5 744.0,435.2 745.0,434.9 746.0,434.5 747.0,434.2 748.0,433.9 749.0,433.5 750.0,433.2 751.0,432.9 752.0,432.6 753.0,432.2 754.0,431.9 755.0,431.6 756.0,431.3 757.0,431.0 758.0,430.7 759.0,430.4 760.0,430.1 761.0,429.8 762.0,429.5 763.0,429.2 764.0,429.0 765.0,428.7 766.0,428.4 767.0,428.2 768.0,427.9 769.0,427.7 770.0,427.5 771.0,427.3 772.0,427.1 773.0,426.9 774.0,426.8 775.0,426.6 776.0,426.4 777.0,426.2 778.0,426.0 779.0,425.8 780.0,425.5 781.0,425.3 782.0,425.1 783.0,424.8 784.0,424.6 785.0,424.4 786.0,424.1 787.0,423.9 788.0,423.7 789.0,423.5 790.0,423.4 791.0,423.2 792.0,423.0 793.0,422.8 794.0,422.7 795.0,422.5 796.0,422.3 797.0,422.1 798.0,422.0 799.0,421.8 800.0,421.6 801.0,421.5 802.0,421.3 803.0,421.1 804.0,420.9 805.0,420.8 806.0,420.6 807.0,420.5 808.0,420.3 809.0,420.1 810.0,420.0 811.0,419.8 812.0,419.7 813.0,419.6 814.0,419.5 815.0,419.5 816.0,419.4 817.0,419.5 818.0,419.5 819.0,419.6 820.0,419.8 821.0,420.0 822.0,420.2 823.0,420.5 824.0,420.8 825.0,421.1 826.0,421.5 827.0,421.9 828.0,422.3 829.0,422.7 830.0,423.1 831.0,423.5 832.0,424.0 833.0,424.4 834.0,424.9 835.0,425.4 836.0,425.9 837.0,426.4 838.0,426.9 839.0,427.4 840.0,427.9 841.0,428.3 842.0,428.8 843.0,429.3 844.0,429.7 845.0,430.2 846.0,430.6 847.0,431.0 848.0,431.4 849.0,431.7 850.0,432.0 851.0,432.2 852.0,432.4 853.0,432.5 854.0,432.7 855.0,432.7 856.0,432.7 857.0,432.7 858.0,432.6 859.0,432.4 860.0,432.2 861.0,431.9 862.0,431.6 863.0,431.2 864.0,430.8 865.0,430.4 866.0,429.9 867.0,429.4 868.0,428.9 869.0,428.4 870.0,427.8 871.0,427.2 872.0,426.6 873.0,426.0 874.0,425.4 875.0,424.8 876.0,424.1 877.0,423.5 878.0,422.9 879.0,422.3 880.0,421.7 881.0,421.1 882.0,420.6 883.0,420.1 884.0,419.6 885.0,419.1 886.0,418.7 887.0,418.2 888.0,417.8 889.0,417.4 890.0,417.1 891.0,416.8 892.0,416.4 893.0,416.2 894.0,415.9 895.0,415.7 896.0,415.5 897.0,415.3 898.0,415.1 899.0,415.0 900.0,415.0 901.0,415.0 902.0,415.1 903.0,415.2 904.0,415.3 905.0,415.5 906.0,415.7 907.0,415.9 908.0,416.1 909.0,416.3 910.0,416.5 911.0,416.7 912.0,416.9 913.0,417.1 914.0,417.3 915.0,417.5 916.0,417.7 917.0,417.9 918.0,418.2 919.0,418.4 920.0,418.7 921.0,418.9 922.0,419.1 923.0,419.3 924.0,419.5 925.0,419.7 926.0,419.9 927.0,420.0 928.0,420.1 929.0,420.2 930.0,420.2 931.0,420.2 932.0,420.3 933.0,420.3 934.0,420.3 935.0,420.3 936.0,420.2 937.0,420.2 938.0,420.2 939.0,420.1 940.0,420.0 941.0,420.0 942.0,419.9 943.0,419.7 944.0,419.6 945.0,419.4 946.0,419.2 947.0,419.0 948.0,418.8 949.0,418.6 950.0,418.4 951.0,418.2 952.0,417.9 953.0,417.7 954.0,417.5 955.0,417.2 956.0,417.0 957.0,416.7 958.0,416.5 959.0,416.2 960.0,416.0 961.0,415.7 962.0,415.5 963.0,415.3 964.0,415.0 965.0,414.8 966.0,414.6 967.0,414.5 968.0,414.3 969.0,414.2 970.0,414.1 971.0,414.0 972.0,413.9 973.0,413.8 974.0,413.8 975.0,413.7 976.0,413.6 977.0,413.6 978.0,413.6 979.0,413.6 980.0,413.6 981.0,413.6 982.0,413.7 983.0,413.8 984.0,413.9 985.0,414.0 986.0,414.1 987.0,414.2 988.0,414.3" fill="none" stroke="#70c4d4" stroke-width="1.4" stroke-linejoin="round" opacity="1"/><line x1="998.50" y1="2.50" x2="998.50" y2="468.80" stroke="#c4c4d4" stroke-width="1.1" opacity="1"/><line x1="0.00" y1="2.50" x2="998.50" y2="2.50" stroke="#c4c4d4" stroke-width="1" opacity="1"/><line x1="1.30" y1="326.50" x2="998.50" y2="326.50" stroke="#a8a2c4" stroke-width="2.2" opacity="1"/><line x1="1.30" y1="393.90" x2="998.50" y2="393.90" stroke="#aaaccb" stroke-width="2.2" opacity="1"/><line x1="1.30" y1="468.30" x2="998.50" y2="468.30" stroke="#c4c4d4" stroke-width="1.1" opacity="1"/><rect x="0" y="0" width="1024" height="1.3" fill="#a4a4b4"/><rect x="1021.5" y="0" width="1.5" height="481" fill="#0a0a24"/><rect x="1023" y="0" width="1" height="481" fill="#d0d0e0"/><rect x="0" y="478.8" width="1024" height="2.2" fill="#a4a4b4"/><rect x="2" y="479.4" width="40" height="1.6" fill="#f0f0f4"/><g font-family="Liberation Sans, Arial, sans-serif" stroke-width="0.12"><text x="9.40" y="8.92" font-size="6.2" fill="#d4d4e2" stroke="#d4d4e2" textLength="24.40" lengthAdjust="spacingAndGlyphs">USDX+,H1</text><text x="37.50" y="8.92" font-size="6.2" fill="#d4d4e2" stroke="#d4d4e2" textLength="16.90" lengthAdjust="spacingAndGlyphs">106.558</text><text x="56.90" y="8.92" font-size="6.2" fill="#d4d4e2" stroke="#d4d4e2" textLength="16.90" lengthAdjust="spacingAndGlyphs">106.583</text><text x="76.30" y="8.92" font-size="6.2" fill="#d4d4e2" stroke="#d4d4e2" textLength="16.90" lengthAdjust="spacingAndGlyphs">106.508</text><text x="95.60" y="8.92" font-size="6.2" fill="#d4d4e2" stroke="#d4d4e2" textLength="16.90" lengthAdjust="spacingAndGlyphs">106.508</text><text x="3.20" y="333.92" font-size="6.2" fill="#d4d4e2" stroke="#d4d4e2" textLength="36.60" lengthAdjust="spacingAndGlyphs">RSI(14) 52.1017</text><text x="3.40" y="402.02" font-size="6.2" fill="#d4d4e2" stroke="#d4d4e2" textLength="68.40" lengthAdjust="spacingAndGlyphs">MACD(12,26,9) 0.0958 0.1300</text><text x="1002.00" y="9.29" font-size="6.2" fill="#d4d4e2" stroke="#d4d4e2" textLength="17.00" lengthAdjust="spacingAndGlyphs">107.985</text><line x1="998.50" y1="7.07" x2="1000.50" y2="7.07" stroke="#c4c4d4" stroke-width="0.8" opacity="1"/><text x="1002.00" y="26.93" font-size="6.2" fill="#d4d4e2" stroke="#d4d4e2" textLength="17.00" lengthAdjust="spacingAndGlyphs">107.825</text><line x1="998.50" y1="24.71" x2="1000.50" y2="24.71" stroke="#c4c4d4" stroke-width="0.8" opacity="1"/><text x="1002.00" y="44.57" font-size="6.2" fill="#d4d4e2" stroke="#d4d4e2" textLength="17.00" lengthAdjust="spacingAndGlyphs">107.660</text><line x1="998.50" y1="42.35" x2="1000.50" y2="42.35" stroke="#c4c4d4" stroke-width="0.8" opacity="1"/><text x="1002.00" y="62.21" font-size="6.2" fill="#d4d4e2" stroke="#d4d4e2" textLength="17.00" lengthAdjust="spacingAndGlyphs">107.500</text><line x1="998.50" y1="59.99" x2="1000.50" y2="59.99" stroke="#c4c4d4" stroke-width="0.8" opacity="1"/><text x="1002.00" y="79.85" font-size="6.2" fill="#d4d4e2" stroke="#d4d4e2" textLength="17.00" lengthAdjust="spacingAndGlyphs">107.340</text><line x1="998.50" y1="77.63" x2="1000.50" y2="77.63" stroke="#c4c4d4" stroke-width="0.8" opacity="1"/><text x="1002.00" y="97.49" font-size="6.2" fill="#d4d4e2" stroke="#d4d4e2" textLength="17.00" lengthAdjust="spacingAndGlyphs">107.180</text><line x1="998.50" y1="95.27" x2="1000.50" y2="95.27" stroke="#c4c4d4" stroke-width="0.8" opacity="1"/><text x="1002.00" y="115.13" font-size="6.2" fill="#d4d4e2" stroke="#d4d4e2" textLength="17.00" lengthAdjust="spacingAndGlyphs">107.020</text><line x1="998.50" y1="112.91" x2="1000.50" y2="112.91" stroke="#c4c4d4" stroke-width="0.8" opacity="1"/><text x="1002.00" y="132.77" font-size="6.2" fill="#d4d4e2" stroke="#d4d4e2" textLength="17.00" lengthAdjust="spacingAndGlyphs">106.860</text><line x1="998.50" y1="130.55" x2="1000.50" y2="130.55" stroke="#c4c4d4" stroke-width="0.8" opacity="1"/><text x="1002.00" y="150.41" font-size="6.2" fill="#d4d4e2" stroke="#d4d4e2" textLength="17.00" lengthAdjust="spacingAndGlyphs">106.700</text><line x1="998.50" y1="148.19" x2="1000.50" y2="148.19" stroke="#c4c4d4" stroke-width="0.8" opacity="1"/><text x="1002.00" y="168.05" font-size="6.2" fill="#d4d4e2" stroke="#d4d4e2" textLength="17.00" lengthAdjust="spacingAndGlyphs">106.540</text><line x1="998.50" y1="165.83" x2="1000.50" y2="165.83" stroke="#c4c4d4" stroke-width="0.8" opacity="1"/><text x="1002.00" y="185.69" font-size="6.2" fill="#d4d4e2" stroke="#d4d4e2" textLength="17.00" lengthAdjust="spacingAndGlyphs">106.375</text><line x1="998.50" y1="183.47" x2="1000.50" y2="183.47" stroke="#c4c4d4" stroke-width="0.8" opacity="1"/><text x="1002.00" y="203.33" font-size="6.2" fill="#d4d4e2" stroke="#d4d4e2" textLength="17.00" lengthAdjust="spacingAndGlyphs">106.215</text><line x1="998.50" y1="201.11" x2="1000.50" y2="201.11" stroke="#c4c4d4" stroke-width="0.8" opacity="1"/><text x="1002.00" y="220.97" font-size="6.2" fill="#d4d4e2" stroke="#d4d4e2" textLength="17.00" lengthAdjust="spacingAndGlyphs">106.055</text><line x1="998.50" y1="218.75" x2="1000.50" y2="218.75" stroke="#c4c4d4" stroke-width="0.8" opacity="1"/><text x="1002.00" y="238.61" font-size="6.2" fill="#d4d4e2" stroke="#d4d4e2" textLength="17.00" lengthAdjust="spacingAndGlyphs">105.895</text><line x1="998.50" y1="236.39" x2="1000.50" y2="236.39" stroke="#c4c4d4" stroke-width="0.8" opacity="1"/><text x="1002.00" y="256.25" font-size="6.2" fill="#d4d4e2" stroke="#d4d4e2" textLength="17.00" lengthAdjust="spacingAndGlyphs">105.735</text><line x1="998.50" y1="254.03" x2="1000.50" y2="254.03" stroke="#c4c4d4" stroke-width="0.8" opacity="1"/><text x="1002.00" y="273.89" font-size="6.2" fill="#d4d4e2" stroke="#d4d4e2" textLength="17.00" lengthAdjust="spacingAndGlyphs">105.575</text><line x1="998.50" y1="271.67" x2="1000.50" y2="271.67" stroke="#c4c4d4" stroke-width="0.8" opacity="1"/><text x="1002.00" y="291.53" font-size="6.2" fill="#d4d4e2" stroke="#d4d4e2" textLength="17.00" lengthAdjust="spacingAndGlyphs">105.415</text><line x1="998.50" y1="289.31" x2="1000.50" y2="289.31" stroke="#c4c4d4" stroke-width="0.8" opacity="1"/><text x="1002.00" y="309.17" font-size="6.2" fill="#d4d4e2" stroke="#d4d4e2" textLength="17.00" lengthAdjust="spacingAndGlyphs">105.255</text><line x1="998.50" y1="306.95" x2="1000.50" y2="306.95" stroke="#c4c4d4" stroke-width="0.8" opacity="1"/><text x="1002.00" y="326.81" font-size="6.2" fill="#d4d4e2" stroke="#d4d4e2" textLength="17.00" lengthAdjust="spacingAndGlyphs">105.090</text><line x1="998.50" y1="324.59" x2="1000.50" y2="324.59" stroke="#c4c4d4" stroke-width="0.8" opacity="1"/><text x="1000.60" y="332.82" font-size="6.2" fill="#d4d4e2" stroke="#d4d4e2" textLength="7.35" lengthAdjust="spacingAndGlyphs">100</text><text x="1000.60" y="349.52" font-size="6.2" fill="#d4d4e2" stroke="#d4d4e2" textLength="4.90" lengthAdjust="spacingAndGlyphs">70</text><text x="1000.60" y="376.02" font-size="6.2" fill="#d4d4e2" stroke="#d4d4e2" textLength="4.90" lengthAdjust="spacingAndGlyphs">30</text><text x="1000.60" y="392.02" font-size="6.2" fill="#d4d4e2" stroke="#d4d4e2" textLength="2.45" lengthAdjust="spacingAndGlyphs">0</text><text x="1000.60" y="400.72" font-size="6.2" fill="#d4d4e2" stroke="#d4d4e2" textLength="14.40" lengthAdjust="spacingAndGlyphs">0.3221</text><text x="1000.60" y="429.52" font-size="6.2" fill="#d4d4e2" stroke="#d4d4e2" textLength="9.60" lengthAdjust="spacingAndGlyphs">0.00</text><text x="1000.60" y="466.92" font-size="6.2" fill="#d4d4e2" stroke="#d4d4e2" textLength="16.80" lengthAdjust="spacingAndGlyphs">-0.4141</text><rect x="999.6" y="165.8" width="21.7" height="6" fill="#f4f4f8"/><text x="1002.00" y="171.22" font-size="6.2" fill="#303040" stroke="#303040" textLength="17.00" lengthAdjust="spacingAndGlyphs">106.508</text><text x="1.20" y="475.12" font-size="6.2" fill="#d4d4e2" stroke="#d4d4e2" textLength="27.50" lengthAdjust="spacingAndGlyphs">15 Nov 2022</text><line x1="1.30" y1="468.30" x2="1.30" y2="470.30" stroke="#c4c4d4" stroke-width="0.8" opacity="1"/><text x="35.38" y="475.12" font-size="6.2" fill="#d4d4e2" stroke="#d4d4e2" textLength="30.20" lengthAdjust="spacingAndGlyphs">15 Nov 17:00</text><line x1="35.48" y1="468.30" x2="35.48" y2="470.30" stroke="#c4c4d4" stroke-width="0.8" opacity="1"/><text x="69.56" y="475.12" font-size="6.2" fill="#d4d4e2" stroke="#d4d4e2" textLength="30.20" lengthAdjust="spacingAndGlyphs">16 Nov 04:00</text><line x1="69.66" y1="468.30" x2="69.66" y2="470.30" stroke="#c4c4d4" stroke-width="0.8" opacity="1"/><text x="103.74" y="475.12" font-size="6.2" fill="#d4d4e2" stroke="#d4d4e2" textLength="30.20" lengthAdjust="spacingAndGlyphs">16 Nov 12:00</text><line x1="103.84" y1="468.30" x2="103.84" y2="470.30" stroke="#c4c4d4" stroke-width="0.8" opacity="1"/><text x="137.92" y="475.12" font-size="6.2" fill="#d4d4e2" stroke="#d4d4e2" textLength="30.20" lengthAdjust="spacingAndGlyphs">16 Nov 20:00</text><line x1="138.02" y1="468.30" x2="138.02" y2="470.30" stroke="#c4c4d4" stroke-width="0.8" opacity="1"/><text x="172.10" y="475.12" font-size="6.2" fill="#d4d4e2" stroke="#d4d4e2" textLength="30.20" lengthAdjust="spacingAndGlyphs">17 Nov 07:00</text><line x1="172.20" y1="468.30" x2="172.20" y2="470.30" stroke="#c4c4d4" stroke-width="0.8" opacity="1"/><text x="206.28" y="475.12" font-size="6.2" fill="#d4d4e2" stroke="#d4d4e2" textLength="30.20" lengthAdjust="spacingAndGlyphs">17 Nov 15:00</text><line x1="206.38" y1="468.30" x2="206.38" y2="470.30" stroke="#c4c4d4" stroke-width="0.8" opacity="1"/><text x="240.46" y="475.12" font-size="6.2" fill="#d4d4e2" stroke="#d4d4e2" textLength="30.20" lengthAdjust="spacingAndGlyphs">17 Nov 23:00</text><line x1="240.56" y1="468.30" x2="240.56" y2="470.30" stroke="#c4c4d4" stroke-width="0.8" opacity="1"/><text x="274.64" y="475.12" font-size="6.2" fill="#d4d4e2" stroke="#d4d4e2" textLength="30.20" lengthAdjust="spacingAndGlyphs">18 Nov 10:00</text><line x1="274.74" y1="468.30" x2="274.74" y2="470.30" stroke="#c4c4d4" stroke-width="0.8" opacity="1"/><text x="308.82" y="475.12" font-size="6.2" fill="#d4d4e2" stroke="#d4d4e2" textLength="30.20" lengthAdjust="spacingAndGlyphs">18 Nov 18:00</text><line x1="308.92" y1="468.30" x2="308.92" y2="470.30" stroke="#c4c4d4" stroke-width="0.8" opacity="1"/><text x="343.00" y="475.12" font-size="6.2" fill="#d4d4e2" stroke="#d4d4e2" textLength="30.20" lengthAdjust="spacingAndGlyphs">21 Nov 03:00</text><line x1="343.10" y1="468.30" x2="343.10" y2="470.30" stroke="#c4c4d4" stroke-width="0.8" opacity="1"/><text x="377.18" y="475.12" font-size="6.2" fill="#d4d4e2" stroke="#d4d4e2" textLength="30.20" lengthAdjust="spacingAndGlyphs">21 Nov 11:00</text><line x1="377.28" y1="468.30" x2="377.28" y2="470.30" stroke="#c4c4d4" stroke-width="0.8" opacity="1"/><text x="411.36" y="475.12" font-size="6.2" fill="#d4d4e2" stroke="#d4d4e2" textLength="30.20" lengthAdjust="spacingAndGlyphs">21 Nov 19:00</text><line x1="411.46" y1="468.30" x2="411.46" y2="470.30" stroke="#c4c4d4" stroke-width="0.8" opacity="1"/><text x="445.54" y="475.12" font-size="6.2" fill="#d4d4e2" stroke="#d4d4e2" textLength="30.20" lengthAdjust="spacingAndGlyphs">22 Nov 06:00</text><line x1="445.64" y1="468.30" x2="445.64" y2="470.30" stroke="#c4c4d4" stroke-width="0.8" opacity="1"/><text x="479.72" y="475.12" font-size="6.2" fill="#d4d4e2" stroke="#d4d4e2" textLength="30.20" lengthAdjust="spacingAndGlyphs">22 Nov 14:00</text><line x1="479.82" y1="468.30" x2="479.82" y2="470.30" stroke="#c4c4d4" stroke-width="0.8" opacity="1"/><text x="513.90" y="475.12" font-size="6.2" fill="#d4d4e2" stroke="#d4d4e2" textLength="30.20" lengthAdjust="spacingAndGlyphs">22 Nov 22:00</text><line x1="514.00" y1="468.30" x2="514.00" y2="470.30" stroke="#c4c4d4" stroke-width="0.8" opacity="1"/><text x="548.08" y="475.12" font-size="6.2" fill="#d4d4e2" stroke="#d4d4e2" textLength="30.20" lengthAdjust="spacingAndGlyphs">23 Nov 09:00</text><line x1="548.18" y1="468.30" x2="548.18" y2="470.30" stroke="#c4c4d4" stroke-width="0.8" opacity="1"/><text x="582.26" y="475.12" font-size="6.2" fill="#d4d4e2" stroke="#d4d4e2" textLength="30.20" lengthAdjust="spacingAndGlyphs">23 Nov 17:00</text><line x1="582.36" y1="468.30" x2="582.36" y2="470.30" stroke="#c4c4d4" stroke-width="0.8" opacity="1"/><text x="616.44" y="475.12" font-size="6.2" fill="#d4d4e2" stroke="#d4d4e2" textLength="30.20" lengthAdjust="spacingAndGlyphs">24 Nov 04:00</text><line x1="616.54" y1="468.30" x2="616.54" y2="470.30" stroke="#c4c4d4" stroke-width="0.8" opacity="1"/><text x="650.62" y="475.12" font-size="6.2" fill="#d4d4e2" stroke="#d4d4e2" textLength="30.20" lengthAdjust="spacingAndGlyphs">24 Nov 12:00</text><line x1="650.72" y1="468.30" x2="650.72" y2="470.30" stroke="#c4c4d4" stroke-width="0.8" opacity="1"/><text x="684.80" y="475.12" font-size="6.2" fill="#d4d4e2" stroke="#d4d4e2" textLength="30.20" lengthAdjust="spacingAndGlyphs">24 Nov 20:00</text><line x1="684.90" y1="468.30" x2="684.90" y2="470.30" stroke="#c4c4d4" stroke-width="0.8" opacity="1"/><text x="718.98" y="475.12" font-size="6.2" fill="#d4d4e2" stroke="#d4d4e2" textLength="30.20" lengthAdjust="spacingAndGlyphs">25 Nov 07:00</text><line x1="719.08" y1="468.30" x2="719.08" y2="470.30" stroke="#c4c4d4" stroke-width="0.8" opacity="1"/><text x="753.16" y="475.12" font-size="6.2" fill="#d4d4e2" stroke="#d4d4e2" textLength="30.20" lengthAdjust="spacingAndGlyphs">25 Nov 15:00</text><line x1="753.26" y1="468.30" x2="753.26" y2="470.30" stroke="#c4c4d4" stroke-width="0.8" opacity="1"/><text x="787.34" y="475.12" font-size="6.2" fill="#d4d4e2" stroke="#d4d4e2" textLength="30.20" lengthAdjust="spacingAndGlyphs">28 Nov 03:00</text><line x1="787.44" y1="468.30" x2="787.44" y2="470.30" stroke="#c4c4d4" stroke-width="0.8" opacity="1"/><text x="821.52" y="475.12" font-size="6.2" fill="#d4d4e2" stroke="#d4d4e2" textLength="30.20" lengthAdjust="spacingAndGlyphs">28 Nov 11:00</text><line x1="821.62" y1="468.30" x2="821.62" y2="470.30" stroke="#c4c4d4" stroke-width="0.8" opacity="1"/><text x="855.70" y="475.12" font-size="6.2" fill="#d4d4e2" stroke="#d4d4e2" textLength="30.20" lengthAdjust="spacingAndGlyphs">28 Nov 19:00</text><line x1="855.80" y1="468.30" x2="855.80" y2="470.30" stroke="#c4c4d4" stroke-width="0.8" opacity="1"/><text x="889.88" y="475.12" font-size="6.2" fill="#d4d4e2" stroke="#d4d4e2" textLength="30.20" lengthAdjust="spacingAndGlyphs">29 Nov 06:00</text><line x1="889.98" y1="468.30" x2="889.98" y2="470.30" stroke="#c4c4d4" stroke-width="0.8" opacity="1"/><text x="924.06" y="475.12" font-size="6.2" fill="#d4d4e2" stroke="#d4d4e2" textLength="30.20" lengthAdjust="spacingAndGlyphs">29 Nov 14:00</text><line x1="924.16" y1="468.30" x2="924.16" y2="470.30" stroke="#c4c4d4" stroke-width="0.8" opacity="1"/><text x="958.24" y="475.12" font-size="6.2" fill="#d4d4e2" stroke="#d4d4e2" textLength="30.20" lengthAdjust="spacingAndGlyphs">29 Nov 22:00</text><line x1="958.34" y1="468.30" x2="958.34" y2="470.30" stroke="#c4c4d4" stroke-width="0.8" opacity="1"/><polygon points="3.2,5.6 6.6,5.6 4.9,7.6" fill="#e8e8f0"/></g></svg></body></html>
